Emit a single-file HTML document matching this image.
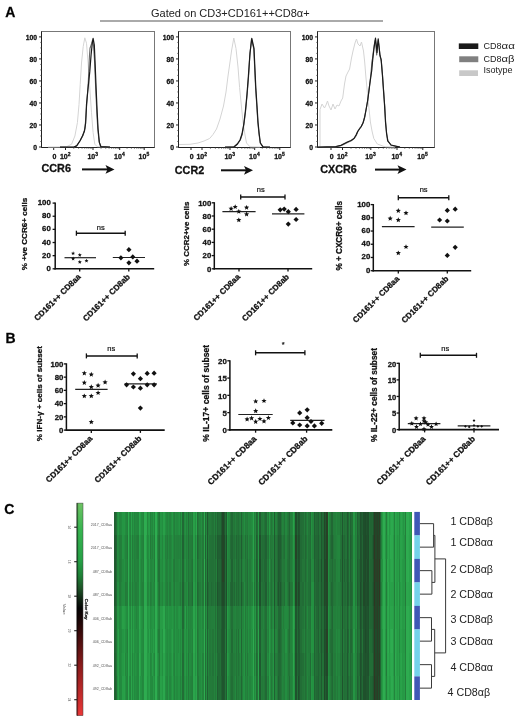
<!DOCTYPE html>
<html><head><meta charset="utf-8"><style>
html,body{margin:0;padding:0;background:#fff;width:520px;height:725px;overflow:hidden}
svg{display:block;font-family:"Liberation Sans",sans-serif;will-change:transform}
text[font-weight="bold"]{stroke:#111;stroke-width:0.28px}
</style></head><body>
<svg width="520" height="725" viewBox="0 0 520 725" font-family="Liberation Sans, sans-serif"><text x="5.2" y="17.2" font-size="14" font-weight="bold" text-anchor="start" fill="#000" >A</text>
<text x="5.6" y="342.6" font-size="14" font-weight="bold" text-anchor="start" fill="#000" >B</text>
<text x="4.2" y="514.2" font-size="14" font-weight="bold" text-anchor="start" fill="#000" >C</text>
<text x="151" y="16.5" font-size="11" text-anchor="start" fill="#222" >Gated on CD3+CD161++CD8α+</text>
<line x1="100" y1="21" x2="383" y2="21" stroke="#aaa" stroke-width="2" />
<rect x="41.5" y="31.5" width="113.0" height="116.0" fill="none" stroke="#777" stroke-width="1"/>
<line x1="41.5" y1="31.5" x2="41.5" y2="147.5" stroke="#222" stroke-width="1" />
<line x1="41.5" y1="147.5" x2="154.5" y2="147.5" stroke="#222" stroke-width="1" />
<line x1="39.0" y1="147.0" x2="41.5" y2="147.0" stroke="#222" stroke-width="1" />
<text x="37.0" y="150.0" font-size="6.8" font-weight="bold" text-anchor="end" fill="#111" >0</text>
<line x1="40.3" y1="141.495" x2="41.5" y2="141.495" stroke="#444" stroke-width="0.8" />
<line x1="40.3" y1="135.99" x2="41.5" y2="135.99" stroke="#444" stroke-width="0.8" />
<line x1="40.3" y1="130.485" x2="41.5" y2="130.485" stroke="#444" stroke-width="0.8" />
<line x1="39.0" y1="124.98" x2="41.5" y2="124.98" stroke="#222" stroke-width="1" />
<text x="37.0" y="127.98" font-size="6.8" font-weight="bold" text-anchor="end" fill="#111" >20</text>
<line x1="40.3" y1="119.47500000000001" x2="41.5" y2="119.47500000000001" stroke="#444" stroke-width="0.8" />
<line x1="40.3" y1="113.97" x2="41.5" y2="113.97" stroke="#444" stroke-width="0.8" />
<line x1="40.3" y1="108.465" x2="41.5" y2="108.465" stroke="#444" stroke-width="0.8" />
<line x1="39.0" y1="102.96000000000001" x2="41.5" y2="102.96000000000001" stroke="#222" stroke-width="1" />
<text x="37.0" y="105.96000000000001" font-size="6.8" font-weight="bold" text-anchor="end" fill="#111" >40</text>
<line x1="40.3" y1="97.45500000000001" x2="41.5" y2="97.45500000000001" stroke="#444" stroke-width="0.8" />
<line x1="40.3" y1="91.95" x2="41.5" y2="91.95" stroke="#444" stroke-width="0.8" />
<line x1="40.3" y1="86.44500000000001" x2="41.5" y2="86.44500000000001" stroke="#444" stroke-width="0.8" />
<line x1="39.0" y1="80.94" x2="41.5" y2="80.94" stroke="#222" stroke-width="1" />
<text x="37.0" y="83.94" font-size="6.8" font-weight="bold" text-anchor="end" fill="#111" >60</text>
<line x1="40.3" y1="75.435" x2="41.5" y2="75.435" stroke="#444" stroke-width="0.8" />
<line x1="40.3" y1="69.92999999999999" x2="41.5" y2="69.92999999999999" stroke="#444" stroke-width="0.8" />
<line x1="40.3" y1="64.425" x2="41.5" y2="64.425" stroke="#444" stroke-width="0.8" />
<line x1="39.0" y1="58.92" x2="41.5" y2="58.92" stroke="#222" stroke-width="1" />
<text x="37.0" y="61.92" font-size="6.8" font-weight="bold" text-anchor="end" fill="#111" >80</text>
<line x1="40.3" y1="53.415" x2="41.5" y2="53.415" stroke="#444" stroke-width="0.8" />
<line x1="40.3" y1="47.910000000000004" x2="41.5" y2="47.910000000000004" stroke="#444" stroke-width="0.8" />
<line x1="40.3" y1="42.405" x2="41.5" y2="42.405" stroke="#444" stroke-width="0.8" />
<line x1="39.0" y1="36.900000000000006" x2="41.5" y2="36.900000000000006" stroke="#222" stroke-width="1" />
<text x="37.0" y="39.900000000000006" font-size="6.8" font-weight="bold" text-anchor="end" fill="#111" >100</text>
<line x1="53.7" y1="147.5" x2="53.7" y2="150.0" stroke="#222" stroke-width="1" />
<text x="54.5" y="159.1" font-size="7.0" font-weight="bold" text-anchor="middle" fill="#111" >0</text>
<line x1="65.5" y1="147.5" x2="65.5" y2="150.0" stroke="#222" stroke-width="1" />
<text x="65.2" y="159.1" font-size="7.0" font-weight="bold" text-anchor="middle" fill="#111" >10<tspan font-size="5" dy="-2.8">2</tspan></text>
<line x1="93" y1="147.5" x2="93" y2="150.0" stroke="#222" stroke-width="1" />
<text x="92.7" y="159.1" font-size="7.0" font-weight="bold" text-anchor="middle" fill="#111" >10<tspan font-size="5" dy="-2.8">3</tspan></text>
<line x1="119.7" y1="147.5" x2="119.7" y2="150.0" stroke="#222" stroke-width="1" />
<text x="119.4" y="159.1" font-size="7.0" font-weight="bold" text-anchor="middle" fill="#111" >10<tspan font-size="5" dy="-2.8">4</tspan></text>
<line x1="144.2" y1="147.5" x2="144.2" y2="150.0" stroke="#222" stroke-width="1" />
<text x="143.89999999999998" y="159.1" font-size="7.0" font-weight="bold" text-anchor="middle" fill="#111" >10<tspan font-size="5" dy="-2.8">5</tspan></text>
<line x1="73.77832488075948" y1="147.5" x2="73.77832488075948" y2="148.8" stroke="#444" stroke-width="0.7" />
<line x1="78.62083450479072" y1="147.5" x2="78.62083450479072" y2="148.8" stroke="#444" stroke-width="0.7" />
<line x1="82.05664976151897" y1="147.5" x2="82.05664976151897" y2="148.8" stroke="#444" stroke-width="0.7" />
<line x1="84.72167511924052" y1="147.5" x2="84.72167511924052" y2="148.8" stroke="#444" stroke-width="0.7" />
<line x1="86.8991593855502" y1="147.5" x2="86.8991593855502" y2="148.8" stroke="#444" stroke-width="0.7" />
<line x1="88.74019610039207" y1="147.5" x2="88.74019610039207" y2="148.8" stroke="#444" stroke-width="0.7" />
<line x1="90.33497464227844" y1="147.5" x2="90.33497464227844" y2="148.8" stroke="#444" stroke-width="0.7" />
<line x1="91.74166900958143" y1="147.5" x2="91.74166900958143" y2="148.8" stroke="#444" stroke-width="0.7" />
<line x1="101.0375008842283" y1="147.5" x2="101.0375008842283" y2="148.8" stroke="#444" stroke-width="0.7" />
<line x1="105.739137501015" y1="147.5" x2="105.739137501015" y2="148.8" stroke="#444" stroke-width="0.7" />
<line x1="109.0750017684566" y1="147.5" x2="109.0750017684566" y2="148.8" stroke="#444" stroke-width="0.7" />
<line x1="111.66249911577171" y1="147.5" x2="111.66249911577171" y2="148.8" stroke="#444" stroke-width="0.7" />
<line x1="113.77663838524329" y1="147.5" x2="113.77663838524329" y2="148.8" stroke="#444" stroke-width="0.7" />
<line x1="115.56411766838066" y1="147.5" x2="115.56411766838066" y2="148.8" stroke="#444" stroke-width="0.7" />
<line x1="117.1125026526849" y1="147.5" x2="117.1125026526849" y2="148.8" stroke="#444" stroke-width="0.7" />
<line x1="118.47827500202997" y1="147.5" x2="118.47827500202997" y2="148.8" stroke="#444" stroke-width="0.7" />
<line x1="127.07523489376754" y1="147.5" x2="127.07523489376754" y2="148.8" stroke="#444" stroke-width="0.7" />
<line x1="131.38947074063174" y1="147.5" x2="131.38947074063174" y2="148.8" stroke="#444" stroke-width="0.7" />
<line x1="134.45046978753507" y1="147.5" x2="134.45046978753507" y2="148.8" stroke="#444" stroke-width="0.7" />
<line x1="136.82476510623246" y1="147.5" x2="136.82476510623246" y2="148.8" stroke="#444" stroke-width="0.7" />
<line x1="138.76470563439926" y1="147.5" x2="138.76470563439926" y2="148.8" stroke="#444" stroke-width="0.7" />
<line x1="140.40490198034928" y1="147.5" x2="140.40490198034928" y2="148.8" stroke="#444" stroke-width="0.7" />
<line x1="141.8257046813026" y1="147.5" x2="141.8257046813026" y2="148.8" stroke="#444" stroke-width="0.7" />
<line x1="143.07894148126346" y1="147.5" x2="143.07894148126346" y2="148.8" stroke="#444" stroke-width="0.7" />
<path d="M48.0,147.0 L60.0,146.9 L66.6,146.7 L71.6,144.2 L74.9,136.0 L77.4,122.7 L79.0,104.5 L80.2,84.6 L81.5,63.0 L83.2,46.6 L84.8,37.8 L86.5,43.2 L88.1,63.0 L89.8,88.0 L91.5,112.8 L93.1,132.6 L94.8,144.2 L97.2,146.7 L110.0,147.0" fill="none" stroke="#d4d4d4" stroke-width="1" stroke-linejoin="round"/>
<path d="M60.0,147.2 L74.0,147.2 L77.0,145.5 L80.5,140.0 L83.0,135.5 L85.0,128.0 L86.0,115.0 L87.0,100.0 L88.3,82.0 L89.5,55.0 L90.0,48.2 L91.5,44.0 L92.6,40.0 L93.6,46.0 L94.6,62.0 L95.6,86.0 L96.7,110.0 L97.7,128.0 L99.0,141.0 L100.6,146.5 L110.0,147.2" fill="none" stroke="#6a6a6a" stroke-width="1.1" stroke-linejoin="round"/>
<path d="M60.0,147.2 L73.2,147.2 L76.6,145.9 L79.9,141.0 L82.4,136.0 L84.5,131.0 L85.7,122.7 L86.5,104.5 L88.1,88.0 L89.8,71.4 L91.1,54.8 L92.3,43.2 L93.1,38.3 L94.3,44.9 L95.1,63.0 L96.1,88.0 L97.2,112.8 L98.1,129.3 L99.4,142.6 L101.0,146.7 L110.0,147.2" fill="none" stroke="#1a1a1a" stroke-width="1.2" stroke-linejoin="round"/>
<text x="41.5" y="172" font-size="10.8" font-weight="bold" text-anchor="start" fill="#111" >CCR6</text>
<line x1="82" y1="169.4" x2="109.5" y2="169.4" stroke="#111" stroke-width="2" />
<path d="M114.5,169.4 L105.5,165.0 L107.5,169.4 L105.5,173.8 Z" fill="#111"/>
<rect x="178.5" y="31.5" width="112.0" height="116.0" fill="none" stroke="#777" stroke-width="1"/>
<line x1="178.5" y1="31.5" x2="178.5" y2="147.5" stroke="#222" stroke-width="1" />
<line x1="178.5" y1="147.5" x2="290.5" y2="147.5" stroke="#222" stroke-width="1" />
<line x1="176.0" y1="147.0" x2="178.5" y2="147.0" stroke="#222" stroke-width="1" />
<text x="174.0" y="150.0" font-size="6.8" font-weight="bold" text-anchor="end" fill="#111" >0</text>
<line x1="177.3" y1="141.495" x2="178.5" y2="141.495" stroke="#444" stroke-width="0.8" />
<line x1="177.3" y1="135.99" x2="178.5" y2="135.99" stroke="#444" stroke-width="0.8" />
<line x1="177.3" y1="130.485" x2="178.5" y2="130.485" stroke="#444" stroke-width="0.8" />
<line x1="176.0" y1="124.98" x2="178.5" y2="124.98" stroke="#222" stroke-width="1" />
<text x="174.0" y="127.98" font-size="6.8" font-weight="bold" text-anchor="end" fill="#111" >20</text>
<line x1="177.3" y1="119.47500000000001" x2="178.5" y2="119.47500000000001" stroke="#444" stroke-width="0.8" />
<line x1="177.3" y1="113.97" x2="178.5" y2="113.97" stroke="#444" stroke-width="0.8" />
<line x1="177.3" y1="108.465" x2="178.5" y2="108.465" stroke="#444" stroke-width="0.8" />
<line x1="176.0" y1="102.96000000000001" x2="178.5" y2="102.96000000000001" stroke="#222" stroke-width="1" />
<text x="174.0" y="105.96000000000001" font-size="6.8" font-weight="bold" text-anchor="end" fill="#111" >40</text>
<line x1="177.3" y1="97.45500000000001" x2="178.5" y2="97.45500000000001" stroke="#444" stroke-width="0.8" />
<line x1="177.3" y1="91.95" x2="178.5" y2="91.95" stroke="#444" stroke-width="0.8" />
<line x1="177.3" y1="86.44500000000001" x2="178.5" y2="86.44500000000001" stroke="#444" stroke-width="0.8" />
<line x1="176.0" y1="80.94" x2="178.5" y2="80.94" stroke="#222" stroke-width="1" />
<text x="174.0" y="83.94" font-size="6.8" font-weight="bold" text-anchor="end" fill="#111" >60</text>
<line x1="177.3" y1="75.435" x2="178.5" y2="75.435" stroke="#444" stroke-width="0.8" />
<line x1="177.3" y1="69.92999999999999" x2="178.5" y2="69.92999999999999" stroke="#444" stroke-width="0.8" />
<line x1="177.3" y1="64.425" x2="178.5" y2="64.425" stroke="#444" stroke-width="0.8" />
<line x1="176.0" y1="58.92" x2="178.5" y2="58.92" stroke="#222" stroke-width="1" />
<text x="174.0" y="61.92" font-size="6.8" font-weight="bold" text-anchor="end" fill="#111" >80</text>
<line x1="177.3" y1="53.415" x2="178.5" y2="53.415" stroke="#444" stroke-width="0.8" />
<line x1="177.3" y1="47.910000000000004" x2="178.5" y2="47.910000000000004" stroke="#444" stroke-width="0.8" />
<line x1="177.3" y1="42.405" x2="178.5" y2="42.405" stroke="#444" stroke-width="0.8" />
<line x1="176.0" y1="36.900000000000006" x2="178.5" y2="36.900000000000006" stroke="#222" stroke-width="1" />
<text x="174.0" y="39.900000000000006" font-size="6.8" font-weight="bold" text-anchor="end" fill="#111" >100</text>
<line x1="191" y1="147.5" x2="191" y2="150.0" stroke="#222" stroke-width="1" />
<text x="191.8" y="159.1" font-size="7.0" font-weight="bold" text-anchor="middle" fill="#111" >0</text>
<line x1="202" y1="147.5" x2="202" y2="150.0" stroke="#222" stroke-width="1" />
<text x="201.7" y="159.1" font-size="7.0" font-weight="bold" text-anchor="middle" fill="#111" >10<tspan font-size="5" dy="-2.8">2</tspan></text>
<line x1="230" y1="147.5" x2="230" y2="150.0" stroke="#222" stroke-width="1" />
<text x="229.7" y="159.1" font-size="7.0" font-weight="bold" text-anchor="middle" fill="#111" >10<tspan font-size="5" dy="-2.8">3</tspan></text>
<line x1="254.7" y1="147.5" x2="254.7" y2="150.0" stroke="#222" stroke-width="1" />
<text x="254.39999999999998" y="159.1" font-size="7.0" font-weight="bold" text-anchor="middle" fill="#111" >10<tspan font-size="5" dy="-2.8">4</tspan></text>
<line x1="279.8" y1="147.5" x2="279.8" y2="150.0" stroke="#222" stroke-width="1" />
<text x="279.5" y="159.1" font-size="7.0" font-weight="bold" text-anchor="middle" fill="#111" >10<tspan font-size="5" dy="-2.8">5</tspan></text>
<line x1="210.42883987859148" y1="147.5" x2="210.42883987859148" y2="148.8" stroke="#444" stroke-width="0.7" />
<line x1="215.35939513215055" y1="147.5" x2="215.35939513215055" y2="148.8" stroke="#444" stroke-width="0.7" />
<line x1="218.85767975718295" y1="147.5" x2="218.85767975718295" y2="148.8" stroke="#444" stroke-width="0.7" />
<line x1="221.57116012140852" y1="147.5" x2="221.57116012140852" y2="148.8" stroke="#444" stroke-width="0.7" />
<line x1="223.78823501074203" y1="147.5" x2="223.78823501074203" y2="148.8" stroke="#444" stroke-width="0.7" />
<line x1="225.6627451203992" y1="147.5" x2="225.6627451203992" y2="148.8" stroke="#444" stroke-width="0.7" />
<line x1="227.28651963577443" y1="147.5" x2="227.28651963577443" y2="148.8" stroke="#444" stroke-width="0.7" />
<line x1="228.7187902643011" y1="147.5" x2="228.7187902643011" y2="148.8" stroke="#444" stroke-width="0.7" />
<line x1="237.43544089290035" y1="147.5" x2="237.43544089290035" y2="148.8" stroke="#444" stroke-width="0.7" />
<line x1="241.78489499157567" y1="147.5" x2="241.78489499157567" y2="148.8" stroke="#444" stroke-width="0.7" />
<line x1="244.87088178580066" y1="147.5" x2="244.87088178580066" y2="148.8" stroke="#444" stroke-width="0.7" />
<line x1="247.26455910709967" y1="147.5" x2="247.26455910709967" y2="148.8" stroke="#444" stroke-width="0.7" />
<line x1="249.220335884476" y1="147.5" x2="249.220335884476" y2="148.8" stroke="#444" stroke-width="0.7" />
<line x1="250.87392158835212" y1="147.5" x2="250.87392158835212" y2="148.8" stroke="#444" stroke-width="0.7" />
<line x1="252.306322678701" y1="147.5" x2="252.306322678701" y2="148.8" stroke="#444" stroke-width="0.7" />
<line x1="253.5697899831513" y1="147.5" x2="253.5697899831513" y2="148.8" stroke="#444" stroke-width="0.7" />
<line x1="262.25585289116594" y1="147.5" x2="262.25585289116594" y2="148.8" stroke="#444" stroke-width="0.7" />
<line x1="266.67574349346353" y1="147.5" x2="266.67574349346353" y2="148.8" stroke="#444" stroke-width="0.7" />
<line x1="269.81170578233184" y1="147.5" x2="269.81170578233184" y2="148.8" stroke="#444" stroke-width="0.7" />
<line x1="272.24414710883406" y1="147.5" x2="272.24414710883406" y2="148.8" stroke="#444" stroke-width="0.7" />
<line x1="274.2315963846295" y1="147.5" x2="274.2315963846295" y2="148.8" stroke="#444" stroke-width="0.7" />
<line x1="275.9119608043579" y1="147.5" x2="275.9119608043579" y2="148.8" stroke="#444" stroke-width="0.7" />
<line x1="277.3675586734978" y1="147.5" x2="277.3675586734978" y2="148.8" stroke="#444" stroke-width="0.7" />
<line x1="278.65148698692707" y1="147.5" x2="278.65148698692707" y2="148.8" stroke="#444" stroke-width="0.7" />
<path d="M179.0,144.5 L190.0,144.3 L198.0,143.0 L204.0,141.0 L209.6,138.5 L213.0,134.5 L216.5,129.0 L220.0,119.0 L223.5,106.0 L226.0,92.0 L228.0,76.0 L230.0,62.0 L231.5,51.0 L233.8,38.0 L236.0,48.5 L238.0,67.0 L239.6,87.7 L241.3,105.0 L243.0,122.0 L245.0,135.0 L246.5,143.0 L250.0,146.8 L260.0,147.0" fill="none" stroke="#d4d4d4" stroke-width="1" stroke-linejoin="round"/>
<path d="M225.0,147.2 L234.5,146.8 L237.6,144.0 L240.3,140.0 L242.3,134.0 L244.0,124.0 L245.6,111.0 L247.2,94.0 L248.6,76.0 L249.8,56.0 L251.5,39.0 L253.8,49.0 L255.6,88.0 L256.8,106.0 L257.8,122.0 L259.0,134.0 L260.2,143.0 L262.8,146.8 L270.0,147.2" fill="none" stroke="#6a6a6a" stroke-width="1.1" stroke-linejoin="round"/>
<path d="M225.0,147.2 L234.0,146.8 L237.3,144.0 L240.0,140.0 L242.0,134.0 L243.8,124.0 L245.4,111.0 L247.0,94.0 L248.4,76.0 L250.0,53.0 L251.8,38.3 L254.0,48.5 L255.8,87.7 L257.0,106.0 L258.0,122.0 L259.2,134.0 L260.4,143.0 L263.0,146.8 L270.0,147.2" fill="none" stroke="#1a1a1a" stroke-width="1.2" stroke-linejoin="round"/>
<text x="174.8" y="173.5" font-size="10.8" font-weight="bold" text-anchor="start" fill="#111" >CCR2</text>
<line x1="221" y1="170.3" x2="248" y2="170.3" stroke="#111" stroke-width="2" />
<path d="M253,170.3 L244,165.9 L246,170.3 L244,174.70000000000002 Z" fill="#111"/>
<rect x="317.5" y="31.5" width="117.0" height="116.0" fill="none" stroke="#777" stroke-width="1"/>
<line x1="317.5" y1="31.5" x2="317.5" y2="147.5" stroke="#222" stroke-width="1" />
<line x1="317.5" y1="147.5" x2="434.5" y2="147.5" stroke="#222" stroke-width="1" />
<line x1="315.0" y1="147.0" x2="317.5" y2="147.0" stroke="#222" stroke-width="1" />
<text x="313.0" y="150.0" font-size="6.8" font-weight="bold" text-anchor="end" fill="#111" >0</text>
<line x1="316.3" y1="141.495" x2="317.5" y2="141.495" stroke="#444" stroke-width="0.8" />
<line x1="316.3" y1="135.99" x2="317.5" y2="135.99" stroke="#444" stroke-width="0.8" />
<line x1="316.3" y1="130.485" x2="317.5" y2="130.485" stroke="#444" stroke-width="0.8" />
<line x1="315.0" y1="124.98" x2="317.5" y2="124.98" stroke="#222" stroke-width="1" />
<text x="313.0" y="127.98" font-size="6.8" font-weight="bold" text-anchor="end" fill="#111" >20</text>
<line x1="316.3" y1="119.47500000000001" x2="317.5" y2="119.47500000000001" stroke="#444" stroke-width="0.8" />
<line x1="316.3" y1="113.97" x2="317.5" y2="113.97" stroke="#444" stroke-width="0.8" />
<line x1="316.3" y1="108.465" x2="317.5" y2="108.465" stroke="#444" stroke-width="0.8" />
<line x1="315.0" y1="102.96000000000001" x2="317.5" y2="102.96000000000001" stroke="#222" stroke-width="1" />
<text x="313.0" y="105.96000000000001" font-size="6.8" font-weight="bold" text-anchor="end" fill="#111" >40</text>
<line x1="316.3" y1="97.45500000000001" x2="317.5" y2="97.45500000000001" stroke="#444" stroke-width="0.8" />
<line x1="316.3" y1="91.95" x2="317.5" y2="91.95" stroke="#444" stroke-width="0.8" />
<line x1="316.3" y1="86.44500000000001" x2="317.5" y2="86.44500000000001" stroke="#444" stroke-width="0.8" />
<line x1="315.0" y1="80.94" x2="317.5" y2="80.94" stroke="#222" stroke-width="1" />
<text x="313.0" y="83.94" font-size="6.8" font-weight="bold" text-anchor="end" fill="#111" >60</text>
<line x1="316.3" y1="75.435" x2="317.5" y2="75.435" stroke="#444" stroke-width="0.8" />
<line x1="316.3" y1="69.92999999999999" x2="317.5" y2="69.92999999999999" stroke="#444" stroke-width="0.8" />
<line x1="316.3" y1="64.425" x2="317.5" y2="64.425" stroke="#444" stroke-width="0.8" />
<line x1="315.0" y1="58.92" x2="317.5" y2="58.92" stroke="#222" stroke-width="1" />
<text x="313.0" y="61.92" font-size="6.8" font-weight="bold" text-anchor="end" fill="#111" >80</text>
<line x1="316.3" y1="53.415" x2="317.5" y2="53.415" stroke="#444" stroke-width="0.8" />
<line x1="316.3" y1="47.910000000000004" x2="317.5" y2="47.910000000000004" stroke="#444" stroke-width="0.8" />
<line x1="316.3" y1="42.405" x2="317.5" y2="42.405" stroke="#444" stroke-width="0.8" />
<line x1="315.0" y1="36.900000000000006" x2="317.5" y2="36.900000000000006" stroke="#222" stroke-width="1" />
<text x="313.0" y="39.900000000000006" font-size="6.8" font-weight="bold" text-anchor="end" fill="#111" >100</text>
<line x1="331" y1="147.5" x2="331" y2="150.0" stroke="#222" stroke-width="1" />
<text x="331.8" y="159.1" font-size="7.0" font-weight="bold" text-anchor="middle" fill="#111" >0</text>
<line x1="342.5" y1="147.5" x2="342.5" y2="150.0" stroke="#222" stroke-width="1" />
<text x="342.2" y="159.1" font-size="7.0" font-weight="bold" text-anchor="middle" fill="#111" >10<tspan font-size="5" dy="-2.8">2</tspan></text>
<line x1="370.8" y1="147.5" x2="370.8" y2="150.0" stroke="#222" stroke-width="1" />
<text x="370.5" y="159.1" font-size="7.0" font-weight="bold" text-anchor="middle" fill="#111" >10<tspan font-size="5" dy="-2.8">3</tspan></text>
<line x1="397" y1="147.5" x2="397" y2="150.0" stroke="#222" stroke-width="1" />
<text x="396.7" y="159.1" font-size="7.0" font-weight="bold" text-anchor="middle" fill="#111" >10<tspan font-size="5" dy="-2.8">4</tspan></text>
<line x1="422.8" y1="147.5" x2="422.8" y2="150.0" stroke="#222" stroke-width="1" />
<text x="422.5" y="159.1" font-size="7.0" font-weight="bold" text-anchor="middle" fill="#111" >10<tspan font-size="5" dy="-2.8">5</tspan></text>
<line x1="351.01914887729066" y1="147.5" x2="351.01914887729066" y2="148.8" stroke="#444" stroke-width="0.7" />
<line x1="356.00253150856645" y1="147.5" x2="356.00253150856645" y2="148.8" stroke="#444" stroke-width="0.7" />
<line x1="359.5382977545813" y1="147.5" x2="359.5382977545813" y2="148.8" stroke="#444" stroke-width="0.7" />
<line x1="362.28085112270935" y1="147.5" x2="362.28085112270935" y2="148.8" stroke="#444" stroke-width="0.7" />
<line x1="364.5216803858571" y1="147.5" x2="364.5216803858571" y2="148.8" stroke="#444" stroke-width="0.7" />
<line x1="366.41627453240346" y1="147.5" x2="366.41627453240346" y2="148.8" stroke="#444" stroke-width="0.7" />
<line x1="368.05744663187204" y1="147.5" x2="368.05744663187204" y2="148.8" stroke="#444" stroke-width="0.7" />
<line x1="369.5050630171329" y1="147.5" x2="369.5050630171329" y2="148.8" stroke="#444" stroke-width="0.7" />
<line x1="378.6869858863963" y1="147.5" x2="378.6869858863963" y2="148.8" stroke="#444" stroke-width="0.7" />
<line x1="383.3005768736552" y1="147.5" x2="383.3005768736552" y2="148.8" stroke="#444" stroke-width="0.7" />
<line x1="386.5739717727926" y1="147.5" x2="386.5739717727926" y2="148.8" stroke="#444" stroke-width="0.7" />
<line x1="389.1130141136037" y1="147.5" x2="389.1130141136037" y2="148.8" stroke="#444" stroke-width="0.7" />
<line x1="391.1875627600515" y1="147.5" x2="391.1875627600515" y2="148.8" stroke="#444" stroke-width="0.7" />
<line x1="392.9415686483735" y1="147.5" x2="392.9415686483735" y2="148.8" stroke="#444" stroke-width="0.7" />
<line x1="394.4609576591889" y1="147.5" x2="394.4609576591889" y2="148.8" stroke="#444" stroke-width="0.7" />
<line x1="395.8011537473103" y1="147.5" x2="395.8011537473103" y2="148.8" stroke="#444" stroke-width="0.7" />
<line x1="404.7665738881307" y1="147.5" x2="404.7665738881307" y2="148.8" stroke="#444" stroke-width="0.7" />
<line x1="409.3097283717673" y1="147.5" x2="409.3097283717673" y2="148.8" stroke="#444" stroke-width="0.7" />
<line x1="412.53314777626144" y1="147.5" x2="412.53314777626144" y2="148.8" stroke="#444" stroke-width="0.7" />
<line x1="415.0334261118693" y1="147.5" x2="415.0334261118693" y2="148.8" stroke="#444" stroke-width="0.7" />
<line x1="417.076302259898" y1="147.5" x2="417.076302259898" y2="148.8" stroke="#444" stroke-width="0.7" />
<line x1="418.80352943236784" y1="147.5" x2="418.80352943236784" y2="148.8" stroke="#444" stroke-width="0.7" />
<line x1="420.29972166439217" y1="147.5" x2="420.29972166439217" y2="148.8" stroke="#444" stroke-width="0.7" />
<line x1="421.6194567435346" y1="147.5" x2="421.6194567435346" y2="148.8" stroke="#444" stroke-width="0.7" />
<path d="M320.0,147.0 L320.0,109.5 L322.0,104.0 L324.5,108.0 L326.0,105.0 L327.5,101.0 L329.0,106.0 L331.0,110.0 L333.0,104.0 L335.0,109.0 L337.0,105.0 L339.0,106.0 L341.0,101.0 L342.7,98.0 L344.5,84.0 L346.0,76.0 L348.0,72.0 L349.6,69.0 L351.5,58.0 L353.0,51.0 L355.0,43.0 L356.5,39.0 L358.0,44.0 L360.0,46.0 L361.5,42.0 L363.5,51.0 L364.7,62.0 L365.8,76.0 L368.0,99.0 L370.4,122.0 L372.0,131.0 L373.8,138.5 L377.3,144.0 L385.0,146.8 L395.0,147.0" fill="none" stroke="#d4d4d4" stroke-width="1" stroke-linejoin="round"/>
<path d="M318.0,147.2 L336.0,146.7 L341.5,145.4 L347.5,142.4 L351.3,140.8 L354.4,138.2 L356.3,135.5 L358.0,131.0 L359.8,128.0 L361.5,126.0 L363.3,122.0 L364.8,116.0 L366.3,108.5 L367.8,99.5 L369.0,90.0 L370.0,82.0 L371.0,73.0 L371.6,66.0 L372.0,61.0 L372.6,58.0 L373.3,52.0 L374.2,45.0 L375.2,40.0 L376.0,47.0 L376.7,55.0 L377.4,46.0 L378.2,40.5 L379.2,48.0 L380.2,56.5 L381.3,61.0 L382.5,75.0 L383.8,93.0 L384.8,107.0 L385.7,123.0 L386.7,134.0 L388.0,141.0 L391.3,145.3 L400.0,147.2" fill="none" stroke="#6a6a6a" stroke-width="1.1" stroke-linejoin="round"/>
<path d="M318.0,147.2 L335.8,146.5 L341.0,145.3 L347.3,142.0 L351.0,140.5 L354.0,138.5 L356.0,135.0 L357.7,131.5 L359.5,129.0 L361.0,127.0 L363.0,123.0 L364.6,117.7 L366.0,110.0 L367.6,101.0 L368.8,92.0 L369.8,84.0 L370.8,77.0 L371.8,70.0 L372.3,64.0 L373.0,57.0 L373.8,50.0 L374.6,44.0 L375.5,38.2 L376.2,44.0 L377.0,52.5 L377.6,45.0 L378.2,38.8 L379.0,46.0 L379.9,55.2 L381.1,59.3 L382.3,73.4 L383.6,92.0 L384.6,106.0 L385.5,122.0 L386.5,133.0 L387.7,140.8 L391.0,145.0 L400.0,147.2" fill="none" stroke="#1a1a1a" stroke-width="1.2" stroke-linejoin="round"/>
<text x="320.2" y="172.6" font-size="10.8" font-weight="bold" text-anchor="start" fill="#111" >CXCR6</text>
<line x1="375" y1="169.6" x2="401.5" y2="169.6" stroke="#111" stroke-width="2" />
<path d="M406.5,169.6 L397.5,165.2 L399.5,169.6 L397.5,174.0 Z" fill="#111"/>
<rect x="458.8" y="43.4" width="19.5" height="5.6" fill="#1a1a1a"/>
<rect x="459.2" y="56.3" width="19.1" height="5.9" fill="#808080"/>
<rect x="459.2" y="70.3" width="18.8" height="5.7" fill="#c8c8c8"/>
<text x="483.4" y="49.2" font-size="9" text-anchor="start" fill="#222" >CD8</text>
<text transform="translate(501.5,49.2) scale(1.28,1)" font-size="9" fill="#222">αα</text>
<text x="483.4" y="62.2" font-size="9" text-anchor="start" fill="#222" >CD8</text>
<text transform="translate(501.5,62.2) scale(1.25,1)" font-size="9" fill="#222">αβ</text>
<text x="483.4" y="73.0" font-size="9" text-anchor="start" fill="#222" >Isotype</text>
<line x1="55.2" y1="202.5" x2="55.2" y2="269.6" stroke="#111" stroke-width="1.5" />
<line x1="54.400000000000006" y1="268.8" x2="154.2" y2="268.8" stroke="#111" stroke-width="1.6" />
<line x1="52.6" y1="268.8" x2="55.2" y2="268.8" stroke="#111" stroke-width="1.3" />
<text x="50.800000000000004" y="270.80" font-size="7.8" font-weight="bold" text-anchor="end" fill="#111">0</text>
<line x1="52.6" y1="255.66" x2="55.2" y2="255.66" stroke="#111" stroke-width="1.3" />
<text x="50.800000000000004" y="257.66" font-size="7.8" font-weight="bold" text-anchor="end" fill="#111">20</text>
<line x1="52.6" y1="242.52" x2="55.2" y2="242.52" stroke="#111" stroke-width="1.3" />
<text x="50.800000000000004" y="244.52" font-size="7.8" font-weight="bold" text-anchor="end" fill="#111">40</text>
<line x1="52.6" y1="229.38" x2="55.2" y2="229.38" stroke="#111" stroke-width="1.3" />
<text x="50.800000000000004" y="231.38" font-size="7.8" font-weight="bold" text-anchor="end" fill="#111">60</text>
<line x1="52.6" y1="216.24" x2="55.2" y2="216.24" stroke="#111" stroke-width="1.3" />
<text x="50.800000000000004" y="218.24" font-size="7.8" font-weight="bold" text-anchor="end" fill="#111">80</text>
<line x1="52.6" y1="203.1" x2="55.2" y2="203.1" stroke="#111" stroke-width="1.3" />
<text x="50.800000000000004" y="205.10" font-size="7.8" font-weight="bold" text-anchor="end" fill="#111">100</text>
<line x1="79.7" y1="268.8" x2="79.7" y2="271.6" stroke="#111" stroke-width="1.3" />
<text transform="translate(81.30,277.40) rotate(-45)" x="0" y="0" font-size="8.1" font-weight="bold" text-anchor="end" fill="#111">CD161++ CD8aa</text>
<line x1="128.8" y1="268.8" x2="128.8" y2="271.6" stroke="#111" stroke-width="1.3" />
<text transform="translate(130.40,277.40) rotate(-45)" x="0" y="0" font-size="8.1" font-weight="bold" text-anchor="end" fill="#111">CD161++ CD8ab</text>
<text transform="translate(26.5,234) rotate(-90)" x="0" y="0" font-size="8.1" font-weight="bold" text-anchor="middle" fill="#111">% +ve CCR6+ cells</text>
<line x1="76.4" y1="233.2" x2="125.2" y2="233.2" stroke="#111" stroke-width="1.5" />
<line x1="76.4" y1="230.7" x2="76.4" y2="235.7" stroke="#111" stroke-width="1.3" />
<line x1="125.2" y1="230.7" x2="125.2" y2="235.7" stroke="#111" stroke-width="1.3" />
<text x="100.8" y="229.6" font-size="7.5" text-anchor="middle" fill="#111" stroke="#111" stroke-width="0.2">ns</text>
<line x1="64.5" y1="257.7" x2="96" y2="257.7" stroke="#222" stroke-width="1.2" />
<line x1="112.8" y1="257.5" x2="145" y2="257.5" stroke="#222" stroke-width="1.2" />
<polygon points="73.10,251.30 73.66,252.64 75.10,252.75 74.00,253.69 74.33,255.10 73.10,254.34 71.87,255.10 72.20,253.69 71.10,252.75 72.54,252.64" fill="#111"/>
<polygon points="79.80,252.90 80.36,254.24 81.80,254.35 80.70,255.29 81.03,256.70 79.80,255.94 78.57,256.70 78.90,255.29 77.80,254.35 79.24,254.24" fill="#111"/>
<polygon points="73.10,256.60 73.66,257.94 75.10,258.05 74.00,258.99 74.33,260.40 73.10,259.64 71.87,260.40 72.20,258.99 71.10,258.05 72.54,257.94" fill="#111"/>
<polygon points="79.80,260.00 80.36,261.34 81.80,261.45 80.70,262.39 81.03,263.80 79.80,263.05 78.57,263.80 78.90,262.39 77.80,261.45 79.24,261.34" fill="#111"/>
<polygon points="86.50,258.70 87.06,260.04 88.50,260.15 87.40,261.09 87.73,262.50 86.50,261.75 85.27,262.50 85.60,261.09 84.50,260.15 85.94,260.04" fill="#111"/>
<polygon points="128.9,247.1 131.5,249.7 128.9,252.29999999999998 126.30000000000001,249.7" fill="#111"/>
<polygon points="120.9,255.20000000000002 123.5,257.8 120.9,260.40000000000003 118.30000000000001,257.8" fill="#111"/>
<polygon points="132.8,254.29999999999998 135.4,256.9 132.8,259.5 130.20000000000002,256.9" fill="#111"/>
<polygon points="128.9,260.2 131.5,262.8 128.9,265.40000000000003 126.30000000000001,262.8" fill="#111"/>
<polygon points="137,258.59999999999997 139.6,261.2 137,263.8 134.4,261.2" fill="#111"/>
<line x1="214.3" y1="202.20000000000002" x2="214.3" y2="269.6" stroke="#111" stroke-width="1.5" />
<line x1="213.5" y1="268.8" x2="312.2" y2="268.8" stroke="#111" stroke-width="1.6" />
<line x1="211.70000000000002" y1="268.8" x2="214.3" y2="268.8" stroke="#111" stroke-width="1.3" />
<text x="211.3" y="271.60" font-size="7.8" font-weight="bold" text-anchor="end" fill="#111">0</text>
<line x1="211.70000000000002" y1="255.60000000000002" x2="214.3" y2="255.60000000000002" stroke="#111" stroke-width="1.3" />
<text x="211.3" y="258.40" font-size="7.8" font-weight="bold" text-anchor="end" fill="#111">20</text>
<line x1="211.70000000000002" y1="242.4" x2="214.3" y2="242.4" stroke="#111" stroke-width="1.3" />
<text x="211.3" y="245.20" font-size="7.8" font-weight="bold" text-anchor="end" fill="#111">40</text>
<line x1="211.70000000000002" y1="229.20000000000002" x2="214.3" y2="229.20000000000002" stroke="#111" stroke-width="1.3" />
<text x="211.3" y="232.00" font-size="7.8" font-weight="bold" text-anchor="end" fill="#111">60</text>
<line x1="211.70000000000002" y1="216.0" x2="214.3" y2="216.0" stroke="#111" stroke-width="1.3" />
<text x="211.3" y="218.80" font-size="7.8" font-weight="bold" text-anchor="end" fill="#111">80</text>
<line x1="211.70000000000002" y1="202.8" x2="214.3" y2="202.8" stroke="#111" stroke-width="1.3" />
<text x="211.3" y="205.60" font-size="7.8" font-weight="bold" text-anchor="end" fill="#111">100</text>
<line x1="239" y1="268.8" x2="239" y2="271.6" stroke="#111" stroke-width="1.3" />
<text transform="translate(240.60,277.40) rotate(-45)" x="0" y="0" font-size="8.1" font-weight="bold" text-anchor="end" fill="#111">CD161++ CD8aa</text>
<line x1="288" y1="268.8" x2="288" y2="271.6" stroke="#111" stroke-width="1.3" />
<text transform="translate(289.60,277.40) rotate(-45)" x="0" y="0" font-size="8.1" font-weight="bold" text-anchor="end" fill="#111">CD161++ CD8ab</text>
<text transform="translate(188.5,233.8) rotate(-90)" x="0" y="0" font-size="7.95" font-weight="bold" text-anchor="middle" fill="#111">% CCR2+ve cells</text>
<line x1="240.7" y1="197" x2="285" y2="197" stroke="#111" stroke-width="1.5" />
<line x1="240.7" y1="194.5" x2="240.7" y2="199.5" stroke="#111" stroke-width="1.3" />
<line x1="285" y1="194.5" x2="285" y2="199.5" stroke="#111" stroke-width="1.3" />
<text x="260.7" y="192.2" font-size="7.5" text-anchor="middle" fill="#111" stroke="#111" stroke-width="0.2">ns</text>
<line x1="222.4" y1="211.6" x2="255.6" y2="211.6" stroke="#222" stroke-width="1.2" />
<line x1="272" y1="213.9" x2="304.4" y2="213.9" stroke="#222" stroke-width="1.2" />
<polygon points="231.10,206.00 231.81,207.72 233.67,207.87 232.26,209.08 232.69,210.88 231.10,209.91 229.51,210.88 229.94,209.08 228.53,207.87 230.39,207.72" fill="#111"/>
<polygon points="235.20,204.20 235.91,205.92 237.77,206.07 236.36,207.28 236.79,209.08 235.20,208.12 233.61,209.08 234.04,207.28 232.63,206.07 234.49,205.92" fill="#111"/>
<polygon points="238.80,208.90 239.51,210.62 241.37,210.77 239.96,211.98 240.39,213.78 238.80,212.81 237.21,213.78 237.64,211.98 236.23,210.77 238.09,210.62" fill="#111"/>
<polygon points="246.60,204.90 247.31,206.62 249.17,206.77 247.76,207.98 248.19,209.78 246.60,208.81 245.01,209.78 245.44,207.98 244.03,206.77 245.89,206.62" fill="#111"/>
<polygon points="246.60,211.60 247.31,213.32 249.17,213.47 247.76,214.68 248.19,216.48 246.60,215.52 245.01,216.48 245.44,214.68 244.03,213.47 245.89,213.32" fill="#111"/>
<polygon points="238.80,217.40 239.51,219.12 241.37,219.27 239.96,220.48 240.39,222.28 238.80,221.31 237.21,222.28 237.64,220.48 236.23,219.27 238.09,219.12" fill="#111"/>
<polygon points="280.2,207.20000000000002 282.8,209.8 280.2,212.4 277.59999999999997,209.8" fill="#111"/>
<polygon points="284.2,206.5 286.8,209.1 284.2,211.7 281.59999999999997,209.1" fill="#111"/>
<polygon points="288.3,209.1 290.90000000000003,211.7 288.3,214.29999999999998 285.7,211.7" fill="#111"/>
<polygon points="296.1,206.8 298.70000000000005,209.4 296.1,212.0 293.5,209.4" fill="#111"/>
<polygon points="296.1,216.9 298.70000000000005,219.5 296.1,222.1 293.5,219.5" fill="#111"/>
<polygon points="288.3,221.5 290.90000000000003,224.1 288.3,226.7 285.7,224.1" fill="#111"/>
<line x1="373.3" y1="204.0" x2="373.3" y2="271.5" stroke="#111" stroke-width="1.5" />
<line x1="372.5" y1="270.7" x2="471.2" y2="270.7" stroke="#111" stroke-width="1.6" />
<line x1="370.7" y1="270.7" x2="373.3" y2="270.7" stroke="#111" stroke-width="1.3" />
<text x="370.3" y="272.60" font-size="7.8" font-weight="bold" text-anchor="end" fill="#111">0</text>
<line x1="370.7" y1="257.48" x2="373.3" y2="257.48" stroke="#111" stroke-width="1.3" />
<text x="370.3" y="259.38" font-size="7.8" font-weight="bold" text-anchor="end" fill="#111">20</text>
<line x1="370.7" y1="244.26" x2="373.3" y2="244.26" stroke="#111" stroke-width="1.3" />
<text x="370.3" y="246.16" font-size="7.8" font-weight="bold" text-anchor="end" fill="#111">40</text>
<line x1="370.7" y1="231.04" x2="373.3" y2="231.04" stroke="#111" stroke-width="1.3" />
<text x="370.3" y="232.94" font-size="7.8" font-weight="bold" text-anchor="end" fill="#111">60</text>
<line x1="370.7" y1="217.82" x2="373.3" y2="217.82" stroke="#111" stroke-width="1.3" />
<text x="370.3" y="219.72" font-size="7.8" font-weight="bold" text-anchor="end" fill="#111">80</text>
<line x1="370.7" y1="204.6" x2="373.3" y2="204.6" stroke="#111" stroke-width="1.3" />
<text x="370.3" y="206.50" font-size="7.8" font-weight="bold" text-anchor="end" fill="#111">100</text>
<line x1="398.3" y1="270.7" x2="398.3" y2="273.5" stroke="#111" stroke-width="1.3" />
<text transform="translate(399.90,279.30) rotate(-45)" x="0" y="0" font-size="8.1" font-weight="bold" text-anchor="end" fill="#111">CD161++ CD8aa</text>
<line x1="447.3" y1="270.7" x2="447.3" y2="273.5" stroke="#111" stroke-width="1.3" />
<text transform="translate(448.90,279.30) rotate(-45)" x="0" y="0" font-size="8.1" font-weight="bold" text-anchor="end" fill="#111">CD161++ CD8ab</text>
<text transform="translate(341.9,235.8) rotate(-90)" x="0" y="0" font-size="8.2" font-weight="bold" text-anchor="middle" fill="#111">% + CXCR6+ cells</text>
<line x1="398.3" y1="197.7" x2="448.8" y2="197.7" stroke="#111" stroke-width="1.5" />
<line x1="398.3" y1="195.2" x2="398.3" y2="200.2" stroke="#111" stroke-width="1.3" />
<line x1="448.8" y1="195.2" x2="448.8" y2="200.2" stroke="#111" stroke-width="1.3" />
<text x="423.6" y="192.2" font-size="7.5" text-anchor="middle" fill="#111" stroke="#111" stroke-width="0.2">ns</text>
<line x1="381.9" y1="226.7" x2="414.6" y2="226.7" stroke="#222" stroke-width="1.2" />
<line x1="431.2" y1="227.1" x2="463.8" y2="227.1" stroke="#222" stroke-width="1.2" />
<polygon points="398.30,208.10 399.01,209.82 400.87,209.97 399.46,211.18 399.89,212.98 398.30,212.02 396.71,212.98 397.14,211.18 395.73,209.97 397.59,209.82" fill="#111"/>
<polygon points="406.00,210.40 406.71,212.12 408.57,212.27 407.16,213.48 407.59,215.28 406.00,214.31 404.41,215.28 404.84,213.48 403.43,212.27 405.29,212.12" fill="#111"/>
<polygon points="390.20,215.80 390.91,217.52 392.77,217.67 391.36,218.88 391.79,220.68 390.20,219.72 388.61,220.68 389.04,218.88 387.63,217.67 389.49,217.52" fill="#111"/>
<polygon points="398.30,217.30 399.01,219.02 400.87,219.17 399.46,220.38 399.89,222.18 398.30,221.22 396.71,222.18 397.14,220.38 395.73,219.17 397.59,219.02" fill="#111"/>
<polygon points="406.00,244.20 406.71,245.92 408.57,246.07 407.16,247.28 407.59,249.08 406.00,248.12 404.41,249.08 404.84,247.28 403.43,246.07 405.29,245.92" fill="#111"/>
<polygon points="398.30,250.40 399.01,252.12 400.87,252.27 399.46,253.48 399.89,255.28 398.30,254.31 396.71,255.28 397.14,253.48 395.73,252.27 397.59,252.12" fill="#111"/>
<polygon points="447.3,207.8 449.90000000000003,210.4 447.3,213.0 444.7,210.4" fill="#111"/>
<polygon points="455.2,206.6 457.8,209.2 455.2,211.79999999999998 452.59999999999997,209.2" fill="#111"/>
<polygon points="439.6,217.4 442.20000000000005,220 439.6,222.6 437.0,220" fill="#111"/>
<polygon points="447.3,218.4 449.90000000000003,221 447.3,223.6 444.7,221" fill="#111"/>
<polygon points="455.2,244.70000000000002 457.8,247.3 455.2,249.9 452.59999999999997,247.3" fill="#111"/>
<polygon points="447.3,252.8 449.90000000000003,255.4 447.3,258.0 444.7,255.4" fill="#111"/>
<line x1="66.4" y1="363.29999999999995" x2="66.4" y2="430.90000000000003" stroke="#111" stroke-width="1.5" />
<line x1="65.60000000000001" y1="430.1" x2="164.7" y2="430.1" stroke="#111" stroke-width="1.6" />
<line x1="63.800000000000004" y1="430.1" x2="66.4" y2="430.1" stroke="#111" stroke-width="1.3" />
<text x="63.400000000000006" y="432.80" font-size="7.8" font-weight="bold" text-anchor="end" fill="#111">0</text>
<line x1="63.800000000000004" y1="416.86" x2="66.4" y2="416.86" stroke="#111" stroke-width="1.3" />
<text x="63.400000000000006" y="419.56" font-size="7.8" font-weight="bold" text-anchor="end" fill="#111">20</text>
<line x1="63.800000000000004" y1="403.62" x2="66.4" y2="403.62" stroke="#111" stroke-width="1.3" />
<text x="63.400000000000006" y="406.32" font-size="7.8" font-weight="bold" text-anchor="end" fill="#111">40</text>
<line x1="63.800000000000004" y1="390.38" x2="66.4" y2="390.38" stroke="#111" stroke-width="1.3" />
<text x="63.400000000000006" y="393.08" font-size="7.8" font-weight="bold" text-anchor="end" fill="#111">60</text>
<line x1="63.800000000000004" y1="377.14" x2="66.4" y2="377.14" stroke="#111" stroke-width="1.3" />
<text x="63.400000000000006" y="379.84" font-size="7.8" font-weight="bold" text-anchor="end" fill="#111">80</text>
<line x1="63.800000000000004" y1="363.9" x2="66.4" y2="363.9" stroke="#111" stroke-width="1.3" />
<text x="63.400000000000006" y="366.60" font-size="7.8" font-weight="bold" text-anchor="end" fill="#111">100</text>
<line x1="91.3" y1="430.1" x2="91.3" y2="432.90000000000003" stroke="#111" stroke-width="1.3" />
<text transform="translate(92.90,439.10) rotate(-45)" x="0" y="0" font-size="8.1" font-weight="bold" text-anchor="end" fill="#111">CD161++ CD8aa</text>
<line x1="140.4" y1="430.1" x2="140.4" y2="432.90000000000003" stroke="#111" stroke-width="1.3" />
<text transform="translate(142.00,439.10) rotate(-45)" x="0" y="0" font-size="8.1" font-weight="bold" text-anchor="end" fill="#111">CD161++ CD8ab</text>
<text transform="translate(41.9,393.7) rotate(-90)" x="0" y="0" font-size="8.1" font-weight="bold" text-anchor="middle" fill="#111">% IFN-γ + cells of subset</text>
<line x1="86.4" y1="355.9" x2="137.2" y2="355.9" stroke="#111" stroke-width="1.5" />
<line x1="86.4" y1="353.4" x2="86.4" y2="358.4" stroke="#111" stroke-width="1.3" />
<line x1="137.2" y1="353.4" x2="137.2" y2="358.4" stroke="#111" stroke-width="1.3" />
<text x="111.2" y="351.2" font-size="7.5" text-anchor="middle" fill="#111" stroke="#111" stroke-width="0.2">ns</text>
<line x1="75.2" y1="389.3" x2="107.6" y2="389.3" stroke="#222" stroke-width="1.2" />
<line x1="124.5" y1="383.8" x2="156.9" y2="383.8" stroke="#222" stroke-width="1.2" />
<polygon points="84.30,370.50 85.01,372.22 86.87,372.37 85.46,373.58 85.89,375.38 84.30,374.41 82.71,375.38 83.14,373.58 81.73,372.37 83.59,372.22" fill="#111"/>
<polygon points="91.30,371.80 92.01,373.52 93.87,373.67 92.46,374.88 92.89,376.68 91.30,375.71 89.71,376.68 90.14,374.88 88.73,373.67 90.59,373.52" fill="#111"/>
<polygon points="84.30,380.00 85.01,381.72 86.87,381.87 85.46,383.08 85.89,384.88 84.30,383.91 82.71,384.88 83.14,383.08 81.73,381.87 83.59,381.72" fill="#111"/>
<polygon points="91.30,384.30 92.01,386.02 93.87,386.17 92.46,387.38 92.89,389.18 91.30,388.21 89.71,389.18 90.14,387.38 88.73,386.17 90.59,386.02" fill="#111"/>
<polygon points="98.10,382.80 98.81,384.52 100.67,384.67 99.26,385.88 99.69,387.68 98.10,386.71 96.51,387.68 96.94,385.88 95.53,384.67 97.39,384.52" fill="#111"/>
<polygon points="105.10,379.60 105.81,381.32 107.67,381.47 106.26,382.68 106.69,384.48 105.10,383.51 103.51,384.48 103.94,382.68 102.53,381.47 104.39,381.32" fill="#111"/>
<polygon points="84.30,393.40 85.01,395.12 86.87,395.27 85.46,396.48 85.89,398.28 84.30,397.31 82.71,398.28 83.14,396.48 81.73,395.27 83.59,395.12" fill="#111"/>
<polygon points="91.30,393.40 92.01,395.12 93.87,395.27 92.46,396.48 92.89,398.28 91.30,397.31 89.71,398.28 90.14,396.48 88.73,395.27 90.59,395.12" fill="#111"/>
<polygon points="98.10,390.20 98.81,391.92 100.67,392.07 99.26,393.28 99.69,395.08 98.10,394.11 96.51,395.08 96.94,393.28 95.53,392.07 97.39,391.92" fill="#111"/>
<polygon points="91.30,419.40 92.01,421.12 93.87,421.27 92.46,422.48 92.89,424.28 91.30,423.31 89.71,424.28 90.14,422.48 88.73,421.27 90.59,421.12" fill="#111"/>
<polygon points="133.4,371.2 136.0,373.8 133.4,376.40000000000003 130.8,373.8" fill="#111"/>
<polygon points="147.2,370.79999999999995 149.79999999999998,373.4 147.2,376.0 144.6,373.4" fill="#111"/>
<polygon points="154.1,370.59999999999997 156.7,373.2 154.1,375.8 151.5,373.2" fill="#111"/>
<polygon points="140.4,376.09999999999997 143.0,378.7 140.4,381.3 137.8,378.7" fill="#111"/>
<polygon points="126.6,382.2 129.2,384.8 126.6,387.40000000000003 124.0,384.8" fill="#111"/>
<polygon points="133.4,384.4 136.0,387 133.4,389.6 130.8,387" fill="#111"/>
<polygon points="140.4,385.59999999999997 143.0,388.2 140.4,390.8 137.8,388.2" fill="#111"/>
<polygon points="147.2,382.2 149.79999999999998,384.8 147.2,387.40000000000003 144.6,384.8" fill="#111"/>
<polygon points="154.1,382.2 156.7,384.8 154.1,387.40000000000003 151.5,384.8" fill="#111"/>
<polygon points="140.4,405.5 143.0,408.1 140.4,410.70000000000005 137.8,408.1" fill="#111"/>
<line x1="229.9" y1="360.2" x2="229.9" y2="430.7" stroke="#111" stroke-width="1.5" />
<line x1="229.1" y1="429.9" x2="332.3" y2="429.9" stroke="#111" stroke-width="1.6" />
<line x1="227.3" y1="429.9" x2="229.9" y2="429.9" stroke="#111" stroke-width="1.3" />
<text x="226.9" y="433.10" font-size="7.9" font-weight="bold" text-anchor="end" fill="#111">0</text>
<line x1="227.3" y1="412.625" x2="229.9" y2="412.625" stroke="#111" stroke-width="1.3" />
<text x="226.9" y="415.82" font-size="7.9" font-weight="bold" text-anchor="end" fill="#111">5</text>
<line x1="227.3" y1="395.35" x2="229.9" y2="395.35" stroke="#111" stroke-width="1.3" />
<text x="226.9" y="398.55" font-size="7.9" font-weight="bold" text-anchor="end" fill="#111">10</text>
<line x1="227.3" y1="378.075" x2="229.9" y2="378.075" stroke="#111" stroke-width="1.3" />
<text x="226.9" y="381.27" font-size="7.9" font-weight="bold" text-anchor="end" fill="#111">15</text>
<line x1="227.3" y1="360.8" x2="229.9" y2="360.8" stroke="#111" stroke-width="1.3" />
<text x="226.9" y="364.00" font-size="7.9" font-weight="bold" text-anchor="end" fill="#111">20</text>
<line x1="255.6" y1="429.9" x2="255.6" y2="432.7" stroke="#111" stroke-width="1.3" />
<text transform="translate(257.20,439.30) rotate(-45)" x="0" y="0" font-size="8.5" font-weight="bold" text-anchor="end" fill="#111">CD161++ CD8aa</text>
<line x1="306.6" y1="429.9" x2="306.6" y2="432.7" stroke="#111" stroke-width="1.3" />
<text transform="translate(308.20,439.30) rotate(-45)" x="0" y="0" font-size="8.5" font-weight="bold" text-anchor="end" fill="#111">CD161++ CD8ab</text>
<text transform="translate(209.4,393.3) rotate(-90)" x="0" y="0" font-size="8.55" font-weight="bold" text-anchor="middle" fill="#111">% IL-17+ cells of subset</text>
<line x1="255.6" y1="352.8" x2="304.9" y2="352.8" stroke="#111" stroke-width="1.5" />
<line x1="255.6" y1="350.3" x2="255.6" y2="355.3" stroke="#111" stroke-width="1.3" />
<line x1="304.9" y1="350.3" x2="304.9" y2="355.3" stroke="#111" stroke-width="1.3" />
<text x="283.3" y="346.5" font-size="7.5" text-anchor="middle" fill="#111" stroke="#111" stroke-width="0.2">*</text>
<line x1="238.3" y1="414.5" x2="272.7" y2="414.5" stroke="#222" stroke-width="1.2" />
<line x1="290.2" y1="420.3" x2="324.5" y2="420.3" stroke="#222" stroke-width="1.2" />
<polygon points="255.70,398.70 256.41,400.42 258.27,400.57 256.86,401.78 257.29,403.58 255.70,402.61 254.11,403.58 254.54,401.78 253.13,400.57 254.99,400.42" fill="#111"/>
<polygon points="264.00,398.20 264.71,399.92 266.57,400.07 265.16,401.28 265.59,403.08 264.00,402.11 262.41,403.08 262.84,401.28 261.43,400.07 263.29,399.92" fill="#111"/>
<polygon points="255.70,408.30 256.41,410.02 258.27,410.17 256.86,411.38 257.29,413.18 255.70,412.21 254.11,413.18 254.54,411.38 253.13,410.17 254.99,410.02" fill="#111"/>
<polygon points="247.10,416.60 247.81,418.32 249.67,418.47 248.26,419.68 248.69,421.48 247.10,420.51 245.51,421.48 245.94,419.68 244.53,418.47 246.39,418.32" fill="#111"/>
<polygon points="251.60,415.50 252.31,417.22 254.17,417.37 252.76,418.58 253.19,420.38 251.60,419.41 250.01,420.38 250.44,418.58 249.03,417.37 250.89,417.22" fill="#111"/>
<polygon points="255.70,419.00 256.41,420.72 258.27,420.87 256.86,422.08 257.29,423.88 255.70,422.91 254.11,423.88 254.54,422.08 253.13,420.87 254.99,420.72" fill="#111"/>
<polygon points="259.90,416.20 260.61,417.92 262.47,418.07 261.06,419.28 261.49,421.08 259.90,420.11 258.31,421.08 258.74,419.28 257.33,418.07 259.19,417.92" fill="#111"/>
<polygon points="264.00,418.60 264.71,420.32 266.57,420.47 265.16,421.68 265.59,423.48 264.00,422.51 262.41,423.48 262.84,421.68 261.43,420.47 263.29,420.32" fill="#111"/>
<polygon points="268.40,415.20 269.11,416.92 270.97,417.07 269.56,418.28 269.99,420.08 268.40,419.11 266.81,420.08 267.24,418.28 265.83,417.07 267.69,416.92" fill="#111"/>
<polygon points="307.2,407.2 309.8,409.8 307.2,412.40000000000003 304.59999999999997,409.8" fill="#111"/>
<polygon points="299.7,410.29999999999995 302.3,412.9 299.7,415.5 297.09999999999997,412.9" fill="#111"/>
<polygon points="307.2,415.09999999999997 309.8,417.7 307.2,420.3 304.59999999999997,417.7" fill="#111"/>
<polygon points="311,418.9 313.6,421.5 311,424.1 308.4,421.5" fill="#111"/>
<polygon points="292.8,420.29999999999995 295.40000000000003,422.9 292.8,425.5 290.2,422.9" fill="#111"/>
<polygon points="299.7,422.4 302.3,425 299.7,427.6 297.09999999999997,425" fill="#111"/>
<polygon points="307.2,423.29999999999995 309.8,425.9 307.2,428.5 304.59999999999997,425.9" fill="#111"/>
<polygon points="314.4,423.29999999999995 317.0,425.9 314.4,428.5 311.79999999999995,425.9" fill="#111"/>
<polygon points="321.7,420.7 324.3,423.3 321.7,425.90000000000003 319.09999999999997,423.3" fill="#111"/>
<line x1="399.2" y1="362.7" x2="399.2" y2="430.40000000000003" stroke="#111" stroke-width="1.5" />
<line x1="398.4" y1="429.6" x2="499" y2="429.6" stroke="#111" stroke-width="1.6" />
<line x1="396.59999999999997" y1="429.6" x2="399.2" y2="429.6" stroke="#111" stroke-width="1.3" />
<text x="396.2" y="432.90" font-size="7.6" font-weight="bold" text-anchor="end" fill="#111">0</text>
<line x1="396.59999999999997" y1="413.02500000000003" x2="399.2" y2="413.02500000000003" stroke="#111" stroke-width="1.3" />
<text x="396.2" y="416.33" font-size="7.6" font-weight="bold" text-anchor="end" fill="#111">5</text>
<line x1="396.59999999999997" y1="396.45000000000005" x2="399.2" y2="396.45000000000005" stroke="#111" stroke-width="1.3" />
<text x="396.2" y="399.75" font-size="7.6" font-weight="bold" text-anchor="end" fill="#111">10</text>
<line x1="396.59999999999997" y1="379.875" x2="399.2" y2="379.875" stroke="#111" stroke-width="1.3" />
<text x="396.2" y="383.18" font-size="7.6" font-weight="bold" text-anchor="end" fill="#111">15</text>
<line x1="396.59999999999997" y1="363.3" x2="399.2" y2="363.3" stroke="#111" stroke-width="1.3" />
<text x="396.2" y="366.60" font-size="7.6" font-weight="bold" text-anchor="end" fill="#111">20</text>
<line x1="424.6" y1="429.6" x2="424.6" y2="432.40000000000003" stroke="#111" stroke-width="1.3" />
<text transform="translate(426.20,439.40) rotate(-45)" x="0" y="0" font-size="8.5" font-weight="bold" text-anchor="end" fill="#111">CD161++ CD8aa</text>
<line x1="474" y1="429.6" x2="474" y2="432.40000000000003" stroke="#111" stroke-width="1.3" />
<text transform="translate(475.60,439.40) rotate(-45)" x="0" y="0" font-size="8.5" font-weight="bold" text-anchor="end" fill="#111">CD161++ CD8ab</text>
<text transform="translate(376.6,395) rotate(-90)" x="0" y="0" font-size="8.3" font-weight="bold" text-anchor="middle" fill="#111">% IL-22+ cells of subset</text>
<line x1="420.3" y1="355.3" x2="476.5" y2="355.3" stroke="#111" stroke-width="1.5" />
<line x1="420.3" y1="352.8" x2="420.3" y2="357.8" stroke="#111" stroke-width="1.3" />
<line x1="476.5" y1="352.8" x2="476.5" y2="357.8" stroke="#111" stroke-width="1.3" />
<text x="445.2" y="350.8" font-size="7.5" text-anchor="middle" fill="#111" stroke="#111" stroke-width="0.2">ns</text>
<line x1="407.8" y1="423.6" x2="440.4" y2="423.6" stroke="#222" stroke-width="1.2" />
<line x1="457.7" y1="425.8" x2="490.4" y2="425.8" stroke="#222" stroke-width="1.2" />
<polygon points="416.10,415.70 416.79,417.35 418.57,417.50 417.21,418.66 417.63,420.40 416.10,419.47 414.57,420.40 414.99,418.66 413.63,417.50 415.41,417.35" fill="#111"/>
<polygon points="424.00,415.70 424.69,417.35 426.47,417.50 425.11,418.66 425.53,420.40 424.00,419.47 422.47,420.40 422.89,418.66 421.53,417.50 423.31,417.35" fill="#111"/>
<polygon points="424.00,418.60 424.69,420.25 426.47,420.40 425.11,421.56 425.53,423.30 424.00,422.37 422.47,423.30 422.89,421.56 421.53,420.40 423.31,420.25" fill="#111"/>
<polygon points="411.80,420.90 412.49,422.55 414.27,422.70 412.91,423.86 413.33,425.60 411.80,424.67 410.27,425.60 410.69,423.86 409.33,422.70 411.11,422.55" fill="#111"/>
<polygon points="420.50,421.40 421.19,423.05 422.97,423.20 421.61,424.36 422.03,426.10 420.50,425.17 418.97,426.10 419.39,424.36 418.03,423.20 419.81,423.05" fill="#111"/>
<polygon points="428.00,422.00 428.69,423.65 430.47,423.80 429.11,424.96 429.53,426.70 428.00,425.77 426.47,426.70 426.89,424.96 425.53,423.80 427.31,423.65" fill="#111"/>
<polygon points="436.10,421.40 436.79,423.05 438.57,423.20 437.21,424.36 437.63,426.10 436.10,425.17 434.57,426.10 434.99,424.36 433.63,423.20 435.41,423.05" fill="#111"/>
<polygon points="416.50,424.30 417.19,425.95 418.97,426.10 417.61,427.26 418.03,429.00 416.50,428.07 414.97,429.00 415.39,427.26 414.03,426.10 415.81,425.95" fill="#111"/>
<polygon points="431.50,424.30 432.19,425.95 433.97,426.10 432.61,427.26 433.03,429.00 431.50,428.07 429.97,429.00 430.39,427.26 429.03,426.10 430.81,425.95" fill="#111"/>
<polygon points="425.70,419.70 426.39,421.35 428.17,421.50 426.81,422.66 427.23,424.40 425.70,423.47 424.17,424.40 424.59,422.66 423.23,421.50 425.01,421.35" fill="#111"/>
<polygon points="424.00,426.60 424.69,428.25 426.47,428.40 425.11,429.56 425.53,431.30 424.00,430.37 422.47,431.30 422.89,429.56 421.53,428.40 423.31,428.25" fill="#111"/>
<polygon points="474,419.20000000000005 475.4,420.6 474,422.0 472.6,420.6" fill="#111"/>
<polygon points="465.4,424.90000000000003 466.79999999999995,426.3 465.4,427.7 464.0,426.3" fill="#111"/>
<polygon points="469.2,425.5 470.59999999999997,426.9 469.2,428.29999999999995 467.8,426.9" fill="#111"/>
<polygon points="474,424.0 475.4,425.4 474,426.79999999999995 472.6,425.4" fill="#111"/>
<polygon points="477.9,424.90000000000003 479.29999999999995,426.3 477.9,427.7 476.5,426.3" fill="#111"/>
<polygon points="481.7,424.90000000000003 483.09999999999997,426.3 481.7,427.7 480.3,426.3" fill="#111"/>
<polygon points="474,427.8 475.4,429.2 474,430.59999999999997 472.6,429.2" fill="#111"/>
<g shape-rendering="crispEdges"><rect x="114.20" y="511.90" width="1.05" height="23.55" fill="#206133"/><rect x="114.20" y="535.40" width="1.05" height="23.55" fill="#1f562e"/><rect x="114.20" y="558.90" width="1.05" height="23.55" fill="#205d31"/><rect x="114.20" y="582.40" width="1.05" height="23.55" fill="#1f5930"/><rect x="114.20" y="605.90" width="1.05" height="23.55" fill="#216a35"/><rect x="114.20" y="629.40" width="1.05" height="23.55" fill="#206333"/><rect x="114.20" y="652.90" width="1.05" height="23.55" fill="#205f32"/><rect x="114.20" y="676.40" width="1.05" height="23.55" fill="#216734"/><rect x="115.20" y="511.90" width="1.05" height="23.55" fill="#216333"/><rect x="115.20" y="535.40" width="1.05" height="23.55" fill="#1f5930"/><rect x="115.20" y="558.90" width="1.05" height="23.55" fill="#1f572f"/><rect x="115.20" y="582.40" width="1.05" height="23.55" fill="#205b30"/><rect x="115.20" y="605.90" width="1.05" height="23.55" fill="#216634"/><rect x="115.20" y="629.40" width="1.05" height="23.55" fill="#216534"/><rect x="115.20" y="652.90" width="1.05" height="23.55" fill="#206133"/><rect x="115.20" y="676.40" width="1.05" height="23.55" fill="#205e32"/><rect x="116.20" y="511.90" width="1.25" height="23.55" fill="#227037"/><rect x="116.20" y="535.40" width="1.25" height="23.55" fill="#206233"/><rect x="116.20" y="558.90" width="1.25" height="23.55" fill="#216935"/><rect x="116.20" y="582.40" width="1.25" height="23.55" fill="#216935"/><rect x="116.20" y="605.90" width="1.25" height="23.55" fill="#227037"/><rect x="116.20" y="629.40" width="1.25" height="23.55" fill="#227438"/><rect x="116.20" y="652.90" width="1.25" height="23.55" fill="#227337"/><rect x="116.20" y="676.40" width="1.25" height="23.55" fill="#226d36"/><rect x="117.40" y="511.90" width="0.85" height="23.55" fill="#238d40"/><rect x="117.40" y="535.40" width="0.85" height="23.55" fill="#238b3f"/><rect x="117.40" y="558.90" width="0.85" height="23.55" fill="#23863e"/><rect x="117.40" y="582.40" width="0.85" height="23.55" fill="#238d40"/><rect x="117.40" y="605.90" width="0.85" height="23.55" fill="#259643"/><rect x="117.40" y="629.40" width="0.85" height="23.55" fill="#249442"/><rect x="117.40" y="652.90" width="0.85" height="23.55" fill="#259643"/><rect x="117.40" y="676.40" width="0.85" height="23.55" fill="#239242"/><rect x="118.20" y="511.90" width="0.85" height="23.55" fill="#259643"/><rect x="118.20" y="535.40" width="0.85" height="23.55" fill="#23883e"/><rect x="118.20" y="558.90" width="0.85" height="23.55" fill="#23893e"/><rect x="118.20" y="582.40" width="0.85" height="23.55" fill="#238f40"/><rect x="118.20" y="605.90" width="0.85" height="23.55" fill="#259844"/><rect x="118.20" y="629.40" width="0.85" height="23.55" fill="#28a149"/><rect x="118.20" y="652.90" width="0.85" height="23.55" fill="#279d47"/><rect x="118.20" y="676.40" width="0.85" height="23.55" fill="#28a048"/><rect x="119.00" y="511.90" width="1.55" height="23.55" fill="#23873e"/><rect x="119.00" y="535.40" width="1.55" height="23.55" fill="#237d3b"/><rect x="119.00" y="558.90" width="1.55" height="23.55" fill="#237a3a"/><rect x="119.00" y="582.40" width="1.55" height="23.55" fill="#237b3a"/><rect x="119.00" y="605.90" width="1.55" height="23.55" fill="#23893e"/><rect x="119.00" y="629.40" width="1.55" height="23.55" fill="#23893e"/><rect x="119.00" y="652.90" width="1.55" height="23.55" fill="#23883e"/><rect x="119.00" y="676.40" width="1.55" height="23.55" fill="#23893f"/><rect x="120.50" y="511.90" width="0.85" height="23.55" fill="#279d47"/><rect x="120.50" y="535.40" width="0.85" height="23.55" fill="#269945"/><rect x="120.50" y="558.90" width="0.85" height="23.55" fill="#249442"/><rect x="120.50" y="582.40" width="0.85" height="23.55" fill="#279c46"/><rect x="120.50" y="605.90" width="0.85" height="23.55" fill="#2aa54b"/><rect x="120.50" y="629.40" width="0.85" height="23.55" fill="#28a048"/><rect x="120.50" y="652.90" width="0.85" height="23.55" fill="#28a048"/><rect x="120.50" y="676.40" width="0.85" height="23.55" fill="#29a149"/><rect x="121.30" y="511.90" width="1.05" height="23.55" fill="#238a3f"/><rect x="121.30" y="535.40" width="1.05" height="23.55" fill="#237f3b"/><rect x="121.30" y="558.90" width="1.05" height="23.55" fill="#237f3b"/><rect x="121.30" y="582.40" width="1.05" height="23.55" fill="#23863d"/><rect x="121.30" y="605.90" width="1.05" height="23.55" fill="#239041"/><rect x="121.30" y="629.40" width="1.05" height="23.55" fill="#238a3f"/><rect x="121.30" y="652.90" width="1.05" height="23.55" fill="#238f40"/><rect x="121.30" y="676.40" width="1.05" height="23.55" fill="#238a3f"/><rect x="122.30" y="511.90" width="1.55" height="23.55" fill="#249543"/><rect x="122.30" y="535.40" width="1.55" height="23.55" fill="#249342"/><rect x="122.30" y="558.90" width="1.55" height="23.55" fill="#238b3f"/><rect x="122.30" y="582.40" width="1.55" height="23.55" fill="#238c3f"/><rect x="122.30" y="605.90" width="1.55" height="23.55" fill="#289f47"/><rect x="122.30" y="629.40" width="1.55" height="23.55" fill="#249543"/><rect x="122.30" y="652.90" width="1.55" height="23.55" fill="#259844"/><rect x="122.30" y="676.40" width="1.55" height="23.55" fill="#279e47"/><rect x="123.80" y="511.90" width="0.85" height="23.55" fill="#259643"/><rect x="123.80" y="535.40" width="0.85" height="23.55" fill="#238e40"/><rect x="123.80" y="558.90" width="0.85" height="23.55" fill="#239241"/><rect x="123.80" y="582.40" width="0.85" height="23.55" fill="#238e40"/><rect x="123.80" y="605.90" width="0.85" height="23.55" fill="#279d46"/><rect x="123.80" y="629.40" width="0.85" height="23.55" fill="#269b46"/><rect x="123.80" y="652.90" width="0.85" height="23.55" fill="#289f47"/><rect x="123.80" y="676.40" width="0.85" height="23.55" fill="#28a048"/><rect x="124.60" y="511.90" width="1.55" height="23.55" fill="#238b3f"/><rect x="124.60" y="535.40" width="1.55" height="23.55" fill="#23833d"/><rect x="124.60" y="558.90" width="1.55" height="23.55" fill="#23853d"/><rect x="124.60" y="582.40" width="1.55" height="23.55" fill="#237b3a"/><rect x="124.60" y="605.90" width="1.55" height="23.55" fill="#259643"/><rect x="124.60" y="629.40" width="1.55" height="23.55" fill="#238e40"/><rect x="124.60" y="652.90" width="1.55" height="23.55" fill="#23863d"/><rect x="124.60" y="676.40" width="1.55" height="23.55" fill="#239141"/><rect x="126.10" y="511.90" width="1.05" height="23.55" fill="#23863e"/><rect x="126.10" y="535.40" width="1.05" height="23.55" fill="#23823c"/><rect x="126.10" y="558.90" width="1.05" height="23.55" fill="#23853d"/><rect x="126.10" y="582.40" width="1.05" height="23.55" fill="#237d3b"/><rect x="126.10" y="605.90" width="1.05" height="23.55" fill="#238e40"/><rect x="126.10" y="629.40" width="1.05" height="23.55" fill="#238b3f"/><rect x="126.10" y="652.90" width="1.05" height="23.55" fill="#238e40"/><rect x="126.10" y="676.40" width="1.05" height="23.55" fill="#23863d"/><rect x="127.10" y="511.90" width="0.85" height="23.55" fill="#23813c"/><rect x="127.10" y="535.40" width="0.85" height="23.55" fill="#237739"/><rect x="127.10" y="558.90" width="0.85" height="23.55" fill="#237b3a"/><rect x="127.10" y="582.40" width="0.85" height="23.55" fill="#237c3a"/><rect x="127.10" y="605.90" width="0.85" height="23.55" fill="#238a3f"/><rect x="127.10" y="629.40" width="0.85" height="23.55" fill="#237e3b"/><rect x="127.10" y="652.90" width="0.85" height="23.55" fill="#23823c"/><rect x="127.10" y="676.40" width="0.85" height="23.55" fill="#23833d"/><rect x="127.90" y="511.90" width="0.85" height="23.55" fill="#2eac50"/><rect x="127.90" y="535.40" width="0.85" height="23.55" fill="#2eac50"/><rect x="127.90" y="558.90" width="0.85" height="23.55" fill="#2eac50"/><rect x="127.90" y="582.40" width="0.85" height="23.55" fill="#2eac50"/><rect x="127.90" y="605.90" width="0.85" height="23.55" fill="#2eac50"/><rect x="127.90" y="629.40" width="0.85" height="23.55" fill="#2eac50"/><rect x="127.90" y="652.90" width="0.85" height="23.55" fill="#2eac50"/><rect x="127.90" y="676.40" width="0.85" height="23.55" fill="#2eac50"/><rect x="128.70" y="511.90" width="1.25" height="23.55" fill="#238c40"/><rect x="128.70" y="535.40" width="1.25" height="23.55" fill="#238c3f"/><rect x="128.70" y="558.90" width="1.25" height="23.55" fill="#238b3f"/><rect x="128.70" y="582.40" width="1.25" height="23.55" fill="#23853d"/><rect x="128.70" y="605.90" width="1.25" height="23.55" fill="#249442"/><rect x="128.70" y="629.40" width="1.25" height="23.55" fill="#259643"/><rect x="128.70" y="652.90" width="1.25" height="23.55" fill="#259744"/><rect x="128.70" y="676.40" width="1.25" height="23.55" fill="#238b3f"/><rect x="129.90" y="511.90" width="1.25" height="23.55" fill="#23833d"/><rect x="129.90" y="535.40" width="1.25" height="23.55" fill="#237e3b"/><rect x="129.90" y="558.90" width="1.25" height="23.55" fill="#237d3b"/><rect x="129.90" y="582.40" width="1.25" height="23.55" fill="#237d3a"/><rect x="129.90" y="605.90" width="1.25" height="23.55" fill="#23873e"/><rect x="129.90" y="629.40" width="1.25" height="23.55" fill="#238d40"/><rect x="129.90" y="652.90" width="1.25" height="23.55" fill="#238b3f"/><rect x="129.90" y="676.40" width="1.25" height="23.55" fill="#23843d"/><rect x="131.10" y="511.90" width="0.85" height="23.55" fill="#28a149"/><rect x="131.10" y="535.40" width="0.85" height="23.55" fill="#269b46"/><rect x="131.10" y="558.90" width="0.85" height="23.55" fill="#269a45"/><rect x="131.10" y="582.40" width="0.85" height="23.55" fill="#259643"/><rect x="131.10" y="605.90" width="0.85" height="23.55" fill="#2aa44a"/><rect x="131.10" y="629.40" width="0.85" height="23.55" fill="#29a34a"/><rect x="131.10" y="652.90" width="0.85" height="23.55" fill="#2aa34a"/><rect x="131.10" y="676.40" width="0.85" height="23.55" fill="#2aa44b"/><rect x="131.90" y="511.90" width="1.05" height="23.55" fill="#23873e"/><rect x="131.90" y="535.40" width="1.05" height="23.55" fill="#237b3a"/><rect x="131.90" y="558.90" width="1.05" height="23.55" fill="#237f3b"/><rect x="131.90" y="582.40" width="1.05" height="23.55" fill="#237b3a"/><rect x="131.90" y="605.90" width="1.05" height="23.55" fill="#23893f"/><rect x="131.90" y="629.40" width="1.05" height="23.55" fill="#238c3f"/><rect x="131.90" y="652.90" width="1.05" height="23.55" fill="#23853d"/><rect x="131.90" y="676.40" width="1.05" height="23.55" fill="#238a3f"/><rect x="132.90" y="511.90" width="0.85" height="23.55" fill="#249543"/><rect x="132.90" y="535.40" width="0.85" height="23.55" fill="#238c3f"/><rect x="132.90" y="558.90" width="0.85" height="23.55" fill="#238f40"/><rect x="132.90" y="582.40" width="0.85" height="23.55" fill="#238b3f"/><rect x="132.90" y="605.90" width="0.85" height="23.55" fill="#279e47"/><rect x="132.90" y="629.40" width="0.85" height="23.55" fill="#28a148"/><rect x="132.90" y="652.90" width="0.85" height="23.55" fill="#269945"/><rect x="132.90" y="676.40" width="0.85" height="23.55" fill="#269b46"/><rect x="133.70" y="511.90" width="1.55" height="23.55" fill="#23833d"/><rect x="133.70" y="535.40" width="1.55" height="23.55" fill="#23803c"/><rect x="133.70" y="558.90" width="1.55" height="23.55" fill="#237e3b"/><rect x="133.70" y="582.40" width="1.55" height="23.55" fill="#23833d"/><rect x="133.70" y="605.90" width="1.55" height="23.55" fill="#238f40"/><rect x="133.70" y="629.40" width="1.55" height="23.55" fill="#238f40"/><rect x="133.70" y="652.90" width="1.55" height="23.55" fill="#238c3f"/><rect x="133.70" y="676.40" width="1.55" height="23.55" fill="#238a3f"/><rect x="135.20" y="511.90" width="1.25" height="23.55" fill="#238a3f"/><rect x="135.20" y="535.40" width="1.25" height="23.55" fill="#23843d"/><rect x="135.20" y="558.90" width="1.25" height="23.55" fill="#23833d"/><rect x="135.20" y="582.40" width="1.25" height="23.55" fill="#237e3b"/><rect x="135.20" y="605.90" width="1.25" height="23.55" fill="#238e40"/><rect x="135.20" y="629.40" width="1.25" height="23.55" fill="#238e40"/><rect x="135.20" y="652.90" width="1.25" height="23.55" fill="#249442"/><rect x="135.20" y="676.40" width="1.25" height="23.55" fill="#239041"/><rect x="136.40" y="511.90" width="0.85" height="23.55" fill="#23893e"/><rect x="136.40" y="535.40" width="0.85" height="23.55" fill="#237f3b"/><rect x="136.40" y="558.90" width="0.85" height="23.55" fill="#23833d"/><rect x="136.40" y="582.40" width="0.85" height="23.55" fill="#237e3b"/><rect x="136.40" y="605.90" width="0.85" height="23.55" fill="#23843d"/><rect x="136.40" y="629.40" width="0.85" height="23.55" fill="#238f40"/><rect x="136.40" y="652.90" width="0.85" height="23.55" fill="#238e40"/><rect x="136.40" y="676.40" width="0.85" height="23.55" fill="#238b3f"/><rect x="137.20" y="511.90" width="1.55" height="23.55" fill="#23863e"/><rect x="137.20" y="535.40" width="1.55" height="23.55" fill="#237b3a"/><rect x="137.20" y="558.90" width="1.55" height="23.55" fill="#23803b"/><rect x="137.20" y="582.40" width="1.55" height="23.55" fill="#23823c"/><rect x="137.20" y="605.90" width="1.55" height="23.55" fill="#238b3f"/><rect x="137.20" y="629.40" width="1.55" height="23.55" fill="#238a3f"/><rect x="137.20" y="652.90" width="1.55" height="23.55" fill="#23873e"/><rect x="137.20" y="676.40" width="1.55" height="23.55" fill="#23873e"/><rect x="138.70" y="511.90" width="0.85" height="23.55" fill="#2ba64c"/><rect x="138.70" y="535.40" width="0.85" height="23.55" fill="#289f48"/><rect x="138.70" y="558.90" width="0.85" height="23.55" fill="#279e47"/><rect x="138.70" y="582.40" width="0.85" height="23.55" fill="#279e47"/><rect x="138.70" y="605.90" width="0.85" height="23.55" fill="#2daa4f"/><rect x="138.70" y="629.40" width="0.85" height="23.55" fill="#2ba74c"/><rect x="138.70" y="652.90" width="0.85" height="23.55" fill="#2eac50"/><rect x="138.70" y="676.40" width="0.85" height="23.55" fill="#2da94e"/><rect x="139.50" y="511.90" width="1.05" height="23.55" fill="#269b46"/><rect x="139.50" y="535.40" width="1.05" height="23.55" fill="#239242"/><rect x="139.50" y="558.90" width="1.05" height="23.55" fill="#238f40"/><rect x="139.50" y="582.40" width="1.05" height="23.55" fill="#238d40"/><rect x="139.50" y="605.90" width="1.05" height="23.55" fill="#279d47"/><rect x="139.50" y="629.40" width="1.05" height="23.55" fill="#279e47"/><rect x="139.50" y="652.90" width="1.05" height="23.55" fill="#28a148"/><rect x="139.50" y="676.40" width="1.05" height="23.55" fill="#249443"/><rect x="140.50" y="511.90" width="1.55" height="23.55" fill="#238d40"/><rect x="140.50" y="535.40" width="1.55" height="23.55" fill="#23863d"/><rect x="140.50" y="558.90" width="1.55" height="23.55" fill="#23823c"/><rect x="140.50" y="582.40" width="1.55" height="23.55" fill="#23833c"/><rect x="140.50" y="605.90" width="1.55" height="23.55" fill="#249342"/><rect x="140.50" y="629.40" width="1.55" height="23.55" fill="#238f41"/><rect x="140.50" y="652.90" width="1.55" height="23.55" fill="#238b3f"/><rect x="140.50" y="676.40" width="1.55" height="23.55" fill="#239242"/><rect x="142.00" y="511.90" width="0.85" height="23.55" fill="#238c3f"/><rect x="142.00" y="535.40" width="0.85" height="23.55" fill="#23833d"/><rect x="142.00" y="558.90" width="0.85" height="23.55" fill="#23873e"/><rect x="142.00" y="582.40" width="0.85" height="23.55" fill="#23803b"/><rect x="142.00" y="605.90" width="0.85" height="23.55" fill="#238d40"/><rect x="142.00" y="629.40" width="0.85" height="23.55" fill="#238c3f"/><rect x="142.00" y="652.90" width="0.85" height="23.55" fill="#238a3f"/><rect x="142.00" y="676.40" width="0.85" height="23.55" fill="#23873e"/><rect x="142.80" y="511.90" width="1.55" height="23.55" fill="#23863d"/><rect x="142.80" y="535.40" width="1.55" height="23.55" fill="#237f3b"/><rect x="142.80" y="558.90" width="1.55" height="23.55" fill="#237e3b"/><rect x="142.80" y="582.40" width="1.55" height="23.55" fill="#237e3b"/><rect x="142.80" y="605.90" width="1.55" height="23.55" fill="#23823c"/><rect x="142.80" y="629.40" width="1.55" height="23.55" fill="#23883e"/><rect x="142.80" y="652.90" width="1.55" height="23.55" fill="#23873e"/><rect x="142.80" y="676.40" width="1.55" height="23.55" fill="#238a3f"/><rect x="144.30" y="511.90" width="1.55" height="23.55" fill="#2eac50"/><rect x="144.30" y="535.40" width="1.55" height="23.55" fill="#2eac50"/><rect x="144.30" y="558.90" width="1.55" height="23.55" fill="#2eac50"/><rect x="144.30" y="582.40" width="1.55" height="23.55" fill="#2ca94e"/><rect x="144.30" y="605.90" width="1.55" height="23.55" fill="#2eac50"/><rect x="144.30" y="629.40" width="1.55" height="23.55" fill="#2eac50"/><rect x="144.30" y="652.90" width="1.55" height="23.55" fill="#2eac50"/><rect x="144.30" y="676.40" width="1.55" height="23.55" fill="#2eac50"/><rect x="145.80" y="511.90" width="1.25" height="23.55" fill="#2daa4e"/><rect x="145.80" y="535.40" width="1.25" height="23.55" fill="#28a048"/><rect x="145.80" y="558.90" width="1.25" height="23.55" fill="#2aa54b"/><rect x="145.80" y="582.40" width="1.25" height="23.55" fill="#2ba54c"/><rect x="145.80" y="605.90" width="1.25" height="23.55" fill="#2eac50"/><rect x="145.80" y="629.40" width="1.25" height="23.55" fill="#2eac50"/><rect x="145.80" y="652.90" width="1.25" height="23.55" fill="#2daa4f"/><rect x="145.80" y="676.40" width="1.25" height="23.55" fill="#2daa4f"/><rect x="147.00" y="511.90" width="0.85" height="23.55" fill="#23893e"/><rect x="147.00" y="535.40" width="0.85" height="23.55" fill="#23883e"/><rect x="147.00" y="558.90" width="0.85" height="23.55" fill="#23893e"/><rect x="147.00" y="582.40" width="0.85" height="23.55" fill="#23843d"/><rect x="147.00" y="605.90" width="0.85" height="23.55" fill="#249342"/><rect x="147.00" y="629.40" width="0.85" height="23.55" fill="#259744"/><rect x="147.00" y="652.90" width="0.85" height="23.55" fill="#259844"/><rect x="147.00" y="676.40" width="0.85" height="23.55" fill="#249442"/><rect x="147.80" y="511.90" width="1.05" height="23.55" fill="#269945"/><rect x="147.80" y="535.40" width="1.05" height="23.55" fill="#238e40"/><rect x="147.80" y="558.90" width="1.05" height="23.55" fill="#238a3f"/><rect x="147.80" y="582.40" width="1.05" height="23.55" fill="#23883e"/><rect x="147.80" y="605.90" width="1.05" height="23.55" fill="#259844"/><rect x="147.80" y="629.40" width="1.05" height="23.55" fill="#239242"/><rect x="147.80" y="652.90" width="1.05" height="23.55" fill="#269a45"/><rect x="147.80" y="676.40" width="1.05" height="23.55" fill="#269a45"/><rect x="148.80" y="511.90" width="0.85" height="23.55" fill="#279e47"/><rect x="148.80" y="535.40" width="0.85" height="23.55" fill="#279c46"/><rect x="148.80" y="558.90" width="0.85" height="23.55" fill="#269945"/><rect x="148.80" y="582.40" width="0.85" height="23.55" fill="#259643"/><rect x="148.80" y="605.90" width="0.85" height="23.55" fill="#279e47"/><rect x="148.80" y="629.40" width="0.85" height="23.55" fill="#2aa44b"/><rect x="148.80" y="652.90" width="0.85" height="23.55" fill="#28a048"/><rect x="148.80" y="676.40" width="0.85" height="23.55" fill="#28a149"/><rect x="149.60" y="511.90" width="1.55" height="23.55" fill="#23803c"/><rect x="149.60" y="535.40" width="1.55" height="23.55" fill="#237939"/><rect x="149.60" y="558.90" width="1.55" height="23.55" fill="#23863d"/><rect x="149.60" y="582.40" width="1.55" height="23.55" fill="#237d3b"/><rect x="149.60" y="605.90" width="1.55" height="23.55" fill="#238b3f"/><rect x="149.60" y="629.40" width="1.55" height="23.55" fill="#238d40"/><rect x="149.60" y="652.90" width="1.55" height="23.55" fill="#23863e"/><rect x="149.60" y="676.40" width="1.55" height="23.55" fill="#238b3f"/><rect x="151.10" y="511.90" width="1.05" height="23.55" fill="#238d40"/><rect x="151.10" y="535.40" width="1.05" height="23.55" fill="#23893e"/><rect x="151.10" y="558.90" width="1.05" height="23.55" fill="#23863e"/><rect x="151.10" y="582.40" width="1.05" height="23.55" fill="#23833d"/><rect x="151.10" y="605.90" width="1.05" height="23.55" fill="#239141"/><rect x="151.10" y="629.40" width="1.05" height="23.55" fill="#259643"/><rect x="151.10" y="652.90" width="1.05" height="23.55" fill="#238c3f"/><rect x="151.10" y="676.40" width="1.05" height="23.55" fill="#238b3f"/><rect x="152.10" y="511.90" width="1.05" height="23.55" fill="#23883e"/><rect x="152.10" y="535.40" width="1.05" height="23.55" fill="#23813c"/><rect x="152.10" y="558.90" width="1.05" height="23.55" fill="#238a3f"/><rect x="152.10" y="582.40" width="1.05" height="23.55" fill="#238d40"/><rect x="152.10" y="605.90" width="1.05" height="23.55" fill="#249543"/><rect x="152.10" y="629.40" width="1.05" height="23.55" fill="#239141"/><rect x="152.10" y="652.90" width="1.05" height="23.55" fill="#279d47"/><rect x="152.10" y="676.40" width="1.05" height="23.55" fill="#238a3f"/><rect x="153.10" y="511.90" width="1.25" height="23.55" fill="#259844"/><rect x="153.10" y="535.40" width="1.25" height="23.55" fill="#238f40"/><rect x="153.10" y="558.90" width="1.25" height="23.55" fill="#238f40"/><rect x="153.10" y="582.40" width="1.25" height="23.55" fill="#23893e"/><rect x="153.10" y="605.90" width="1.25" height="23.55" fill="#259844"/><rect x="153.10" y="629.40" width="1.25" height="23.55" fill="#279e47"/><rect x="153.10" y="652.90" width="1.25" height="23.55" fill="#249342"/><rect x="153.10" y="676.40" width="1.25" height="23.55" fill="#269a45"/><rect x="154.30" y="511.90" width="1.05" height="23.55" fill="#23853d"/><rect x="154.30" y="535.40" width="1.05" height="23.55" fill="#237c3a"/><rect x="154.30" y="558.90" width="1.05" height="23.55" fill="#237939"/><rect x="154.30" y="582.40" width="1.05" height="23.55" fill="#23803c"/><rect x="154.30" y="605.90" width="1.05" height="23.55" fill="#238a3f"/><rect x="154.30" y="629.40" width="1.05" height="23.55" fill="#239141"/><rect x="154.30" y="652.90" width="1.05" height="23.55" fill="#23843d"/><rect x="154.30" y="676.40" width="1.05" height="23.55" fill="#238e40"/><rect x="155.30" y="511.90" width="1.55" height="23.55" fill="#2eac50"/><rect x="155.30" y="535.40" width="1.55" height="23.55" fill="#2eac50"/><rect x="155.30" y="558.90" width="1.55" height="23.55" fill="#2eac50"/><rect x="155.30" y="582.40" width="1.55" height="23.55" fill="#2eab50"/><rect x="155.30" y="605.90" width="1.55" height="23.55" fill="#2eac50"/><rect x="155.30" y="629.40" width="1.55" height="23.55" fill="#2eac50"/><rect x="155.30" y="652.90" width="1.55" height="23.55" fill="#2eac50"/><rect x="155.30" y="676.40" width="1.55" height="23.55" fill="#2eac50"/><rect x="156.80" y="511.90" width="0.85" height="23.55" fill="#239241"/><rect x="156.80" y="535.40" width="0.85" height="23.55" fill="#23873e"/><rect x="156.80" y="558.90" width="0.85" height="23.55" fill="#238b3f"/><rect x="156.80" y="582.40" width="0.85" height="23.55" fill="#239241"/><rect x="156.80" y="605.90" width="0.85" height="23.55" fill="#259744"/><rect x="156.80" y="629.40" width="0.85" height="23.55" fill="#239141"/><rect x="156.80" y="652.90" width="0.85" height="23.55" fill="#259744"/><rect x="156.80" y="676.40" width="0.85" height="23.55" fill="#239041"/><rect x="157.60" y="511.90" width="1.55" height="23.55" fill="#237d3b"/><rect x="157.60" y="535.40" width="1.55" height="23.55" fill="#237638"/><rect x="157.60" y="558.90" width="1.55" height="23.55" fill="#227137"/><rect x="157.60" y="582.40" width="1.55" height="23.55" fill="#237939"/><rect x="157.60" y="605.90" width="1.55" height="23.55" fill="#23853d"/><rect x="157.60" y="629.40" width="1.55" height="23.55" fill="#237b3a"/><rect x="157.60" y="652.90" width="1.55" height="23.55" fill="#238a3f"/><rect x="157.60" y="676.40" width="1.55" height="23.55" fill="#23853d"/><rect x="159.10" y="511.90" width="1.05" height="23.55" fill="#237638"/><rect x="159.10" y="535.40" width="1.05" height="23.55" fill="#227037"/><rect x="159.10" y="558.90" width="1.05" height="23.55" fill="#227037"/><rect x="159.10" y="582.40" width="1.05" height="23.55" fill="#226f36"/><rect x="159.10" y="605.90" width="1.05" height="23.55" fill="#237f3b"/><rect x="159.10" y="629.40" width="1.05" height="23.55" fill="#237a3a"/><rect x="159.10" y="652.90" width="1.05" height="23.55" fill="#237939"/><rect x="159.10" y="676.40" width="1.05" height="23.55" fill="#23803c"/><rect x="160.10" y="511.90" width="1.55" height="23.55" fill="#249543"/><rect x="160.10" y="535.40" width="1.55" height="23.55" fill="#239242"/><rect x="160.10" y="558.90" width="1.55" height="23.55" fill="#238f40"/><rect x="160.10" y="582.40" width="1.55" height="23.55" fill="#238c3f"/><rect x="160.10" y="605.90" width="1.55" height="23.55" fill="#279c46"/><rect x="160.10" y="629.40" width="1.55" height="23.55" fill="#269b46"/><rect x="160.10" y="652.90" width="1.55" height="23.55" fill="#279c46"/><rect x="160.10" y="676.40" width="1.55" height="23.55" fill="#28a048"/><rect x="161.60" y="511.90" width="1.05" height="23.55" fill="#238e40"/><rect x="161.60" y="535.40" width="1.05" height="23.55" fill="#23853d"/><rect x="161.60" y="558.90" width="1.05" height="23.55" fill="#23883e"/><rect x="161.60" y="582.40" width="1.05" height="23.55" fill="#23833c"/><rect x="161.60" y="605.90" width="1.05" height="23.55" fill="#279c46"/><rect x="161.60" y="629.40" width="1.05" height="23.55" fill="#239141"/><rect x="161.60" y="652.90" width="1.05" height="23.55" fill="#238f40"/><rect x="161.60" y="676.40" width="1.05" height="23.55" fill="#259844"/><rect x="162.60" y="511.90" width="0.85" height="23.55" fill="#238b3f"/><rect x="162.60" y="535.40" width="0.85" height="23.55" fill="#23813c"/><rect x="162.60" y="558.90" width="0.85" height="23.55" fill="#23883e"/><rect x="162.60" y="582.40" width="0.85" height="23.55" fill="#23843d"/><rect x="162.60" y="605.90" width="0.85" height="23.55" fill="#239141"/><rect x="162.60" y="629.40" width="0.85" height="23.55" fill="#259844"/><rect x="162.60" y="652.90" width="0.85" height="23.55" fill="#238b3f"/><rect x="162.60" y="676.40" width="0.85" height="23.55" fill="#238c40"/><rect x="163.40" y="511.90" width="1.55" height="23.55" fill="#289f48"/><rect x="163.40" y="535.40" width="1.55" height="23.55" fill="#259744"/><rect x="163.40" y="558.90" width="1.55" height="23.55" fill="#259744"/><rect x="163.40" y="582.40" width="1.55" height="23.55" fill="#249442"/><rect x="163.40" y="605.90" width="1.55" height="23.55" fill="#2ca74d"/><rect x="163.40" y="629.40" width="1.55" height="23.55" fill="#2daa4f"/><rect x="163.40" y="652.90" width="1.55" height="23.55" fill="#2aa44b"/><rect x="163.40" y="676.40" width="1.55" height="23.55" fill="#2ba74d"/><rect x="164.90" y="511.90" width="1.55" height="23.55" fill="#239141"/><rect x="164.90" y="535.40" width="1.55" height="23.55" fill="#23803c"/><rect x="164.90" y="558.90" width="1.55" height="23.55" fill="#23853d"/><rect x="164.90" y="582.40" width="1.55" height="23.55" fill="#23843d"/><rect x="164.90" y="605.90" width="1.55" height="23.55" fill="#238b3f"/><rect x="164.90" y="629.40" width="1.55" height="23.55" fill="#249543"/><rect x="164.90" y="652.90" width="1.55" height="23.55" fill="#249443"/><rect x="164.90" y="676.40" width="1.55" height="23.55" fill="#238f40"/><rect x="166.40" y="511.90" width="1.05" height="23.55" fill="#23893e"/><rect x="166.40" y="535.40" width="1.05" height="23.55" fill="#23833d"/><rect x="166.40" y="558.90" width="1.05" height="23.55" fill="#237f3b"/><rect x="166.40" y="582.40" width="1.05" height="23.55" fill="#237f3b"/><rect x="166.40" y="605.90" width="1.05" height="23.55" fill="#239241"/><rect x="166.40" y="629.40" width="1.05" height="23.55" fill="#239041"/><rect x="166.40" y="652.90" width="1.05" height="23.55" fill="#238d40"/><rect x="166.40" y="676.40" width="1.05" height="23.55" fill="#23883e"/><rect x="167.40" y="511.90" width="1.05" height="23.55" fill="#23853d"/><rect x="167.40" y="535.40" width="1.05" height="23.55" fill="#237a3a"/><rect x="167.40" y="558.90" width="1.05" height="23.55" fill="#23813c"/><rect x="167.40" y="582.40" width="1.05" height="23.55" fill="#237b3a"/><rect x="167.40" y="605.90" width="1.05" height="23.55" fill="#238e40"/><rect x="167.40" y="629.40" width="1.05" height="23.55" fill="#238b3f"/><rect x="167.40" y="652.90" width="1.05" height="23.55" fill="#23883e"/><rect x="167.40" y="676.40" width="1.05" height="23.55" fill="#23843d"/><rect x="168.40" y="511.90" width="0.85" height="23.55" fill="#238e40"/><rect x="168.40" y="535.40" width="0.85" height="23.55" fill="#238a3f"/><rect x="168.40" y="558.90" width="0.85" height="23.55" fill="#238d40"/><rect x="168.40" y="582.40" width="0.85" height="23.55" fill="#238d40"/><rect x="168.40" y="605.90" width="0.85" height="23.55" fill="#259844"/><rect x="168.40" y="629.40" width="0.85" height="23.55" fill="#249342"/><rect x="168.40" y="652.90" width="0.85" height="23.55" fill="#249543"/><rect x="168.40" y="676.40" width="0.85" height="23.55" fill="#259744"/><rect x="169.20" y="511.90" width="1.55" height="23.55" fill="#23843d"/><rect x="169.20" y="535.40" width="1.55" height="23.55" fill="#237f3b"/><rect x="169.20" y="558.90" width="1.55" height="23.55" fill="#23813c"/><rect x="169.20" y="582.40" width="1.55" height="23.55" fill="#237b3a"/><rect x="169.20" y="605.90" width="1.55" height="23.55" fill="#239141"/><rect x="169.20" y="629.40" width="1.55" height="23.55" fill="#238d40"/><rect x="169.20" y="652.90" width="1.55" height="23.55" fill="#238a3f"/><rect x="169.20" y="676.40" width="1.55" height="23.55" fill="#23863e"/><rect x="170.70" y="511.90" width="0.85" height="23.55" fill="#238f40"/><rect x="170.70" y="535.40" width="0.85" height="23.55" fill="#23863e"/><rect x="170.70" y="558.90" width="0.85" height="23.55" fill="#23893f"/><rect x="170.70" y="582.40" width="0.85" height="23.55" fill="#238b3f"/><rect x="170.70" y="605.90" width="0.85" height="23.55" fill="#239241"/><rect x="170.70" y="629.40" width="0.85" height="23.55" fill="#259744"/><rect x="170.70" y="652.90" width="0.85" height="23.55" fill="#249442"/><rect x="170.70" y="676.40" width="0.85" height="23.55" fill="#239141"/><rect x="171.50" y="511.90" width="1.55" height="23.55" fill="#259844"/><rect x="171.50" y="535.40" width="1.55" height="23.55" fill="#239241"/><rect x="171.50" y="558.90" width="1.55" height="23.55" fill="#239241"/><rect x="171.50" y="582.40" width="1.55" height="23.55" fill="#239141"/><rect x="171.50" y="605.90" width="1.55" height="23.55" fill="#259844"/><rect x="171.50" y="629.40" width="1.55" height="23.55" fill="#28a048"/><rect x="171.50" y="652.90" width="1.55" height="23.55" fill="#289f48"/><rect x="171.50" y="676.40" width="1.55" height="23.55" fill="#279c46"/><rect x="173.00" y="511.90" width="0.85" height="23.55" fill="#23863e"/><rect x="173.00" y="535.40" width="0.85" height="23.55" fill="#23873e"/><rect x="173.00" y="558.90" width="0.85" height="23.55" fill="#237c3a"/><rect x="173.00" y="582.40" width="0.85" height="23.55" fill="#23823c"/><rect x="173.00" y="605.90" width="0.85" height="23.55" fill="#239141"/><rect x="173.00" y="629.40" width="0.85" height="23.55" fill="#238e40"/><rect x="173.00" y="652.90" width="0.85" height="23.55" fill="#238a3f"/><rect x="173.00" y="676.40" width="0.85" height="23.55" fill="#239141"/><rect x="173.80" y="511.90" width="1.55" height="23.55" fill="#237e3b"/><rect x="173.80" y="535.40" width="1.55" height="23.55" fill="#237b3a"/><rect x="173.80" y="558.90" width="1.55" height="23.55" fill="#237739"/><rect x="173.80" y="582.40" width="1.55" height="23.55" fill="#237739"/><rect x="173.80" y="605.90" width="1.55" height="23.55" fill="#23853d"/><rect x="173.80" y="629.40" width="1.55" height="23.55" fill="#23863e"/><rect x="173.80" y="652.90" width="1.55" height="23.55" fill="#23813c"/><rect x="173.80" y="676.40" width="1.55" height="23.55" fill="#23823c"/><rect x="175.30" y="511.90" width="1.05" height="23.55" fill="#238f40"/><rect x="175.30" y="535.40" width="1.05" height="23.55" fill="#23853d"/><rect x="175.30" y="558.90" width="1.05" height="23.55" fill="#23873e"/><rect x="175.30" y="582.40" width="1.05" height="23.55" fill="#238d40"/><rect x="175.30" y="605.90" width="1.05" height="23.55" fill="#259644"/><rect x="175.30" y="629.40" width="1.05" height="23.55" fill="#249543"/><rect x="175.30" y="652.90" width="1.05" height="23.55" fill="#259844"/><rect x="175.30" y="676.40" width="1.05" height="23.55" fill="#249342"/><rect x="176.30" y="511.90" width="1.25" height="23.55" fill="#23893f"/><rect x="176.30" y="535.40" width="1.25" height="23.55" fill="#23813c"/><rect x="176.30" y="558.90" width="1.25" height="23.55" fill="#23833c"/><rect x="176.30" y="582.40" width="1.25" height="23.55" fill="#23863d"/><rect x="176.30" y="605.90" width="1.25" height="23.55" fill="#238b3f"/><rect x="176.30" y="629.40" width="1.25" height="23.55" fill="#238e40"/><rect x="176.30" y="652.90" width="1.25" height="23.55" fill="#238e40"/><rect x="176.30" y="676.40" width="1.25" height="23.55" fill="#238b3f"/><rect x="177.50" y="511.90" width="1.55" height="23.55" fill="#238d40"/><rect x="177.50" y="535.40" width="1.55" height="23.55" fill="#23803c"/><rect x="177.50" y="558.90" width="1.55" height="23.55" fill="#23853d"/><rect x="177.50" y="582.40" width="1.55" height="23.55" fill="#23873e"/><rect x="177.50" y="605.90" width="1.55" height="23.55" fill="#249443"/><rect x="177.50" y="629.40" width="1.55" height="23.55" fill="#238b3f"/><rect x="177.50" y="652.90" width="1.55" height="23.55" fill="#249443"/><rect x="177.50" y="676.40" width="1.55" height="23.55" fill="#249342"/><rect x="179.00" y="511.90" width="1.25" height="23.55" fill="#249342"/><rect x="179.00" y="535.40" width="1.25" height="23.55" fill="#23833d"/><rect x="179.00" y="558.90" width="1.25" height="23.55" fill="#238a3f"/><rect x="179.00" y="582.40" width="1.25" height="23.55" fill="#23843d"/><rect x="179.00" y="605.90" width="1.25" height="23.55" fill="#259844"/><rect x="179.00" y="629.40" width="1.25" height="23.55" fill="#249543"/><rect x="179.00" y="652.90" width="1.25" height="23.55" fill="#249543"/><rect x="179.00" y="676.40" width="1.25" height="23.55" fill="#249342"/><rect x="180.20" y="511.90" width="1.05" height="23.55" fill="#237f3b"/><rect x="180.20" y="535.40" width="1.05" height="23.55" fill="#237d3b"/><rect x="180.20" y="558.90" width="1.05" height="23.55" fill="#237d3b"/><rect x="180.20" y="582.40" width="1.05" height="23.55" fill="#237739"/><rect x="180.20" y="605.90" width="1.05" height="23.55" fill="#239141"/><rect x="180.20" y="629.40" width="1.05" height="23.55" fill="#23883e"/><rect x="180.20" y="652.90" width="1.05" height="23.55" fill="#23853d"/><rect x="180.20" y="676.40" width="1.05" height="23.55" fill="#23813c"/><rect x="181.20" y="511.90" width="1.25" height="23.55" fill="#259643"/><rect x="181.20" y="535.40" width="1.25" height="23.55" fill="#238b3f"/><rect x="181.20" y="558.90" width="1.25" height="23.55" fill="#238b3f"/><rect x="181.20" y="582.40" width="1.25" height="23.55" fill="#23893e"/><rect x="181.20" y="605.90" width="1.25" height="23.55" fill="#239242"/><rect x="181.20" y="629.40" width="1.25" height="23.55" fill="#249543"/><rect x="181.20" y="652.90" width="1.25" height="23.55" fill="#259643"/><rect x="181.20" y="676.40" width="1.25" height="23.55" fill="#239141"/><rect x="182.40" y="511.90" width="1.55" height="23.55" fill="#216935"/><rect x="182.40" y="535.40" width="1.55" height="23.55" fill="#206333"/><rect x="182.40" y="558.90" width="1.55" height="23.55" fill="#216734"/><rect x="182.40" y="582.40" width="1.55" height="23.55" fill="#216333"/><rect x="182.40" y="605.90" width="1.55" height="23.55" fill="#216935"/><rect x="182.40" y="629.40" width="1.55" height="23.55" fill="#227137"/><rect x="182.40" y="652.90" width="1.55" height="23.55" fill="#226c36"/><rect x="182.40" y="676.40" width="1.55" height="23.55" fill="#226e36"/><rect x="183.90" y="511.90" width="1.25" height="23.55" fill="#23893f"/><rect x="183.90" y="535.40" width="1.25" height="23.55" fill="#23843d"/><rect x="183.90" y="558.90" width="1.25" height="23.55" fill="#23883e"/><rect x="183.90" y="582.40" width="1.25" height="23.55" fill="#23823c"/><rect x="183.90" y="605.90" width="1.25" height="23.55" fill="#238c40"/><rect x="183.90" y="629.40" width="1.25" height="23.55" fill="#249442"/><rect x="183.90" y="652.90" width="1.25" height="23.55" fill="#249342"/><rect x="183.90" y="676.40" width="1.25" height="23.55" fill="#238e40"/><rect x="185.10" y="511.90" width="1.05" height="23.55" fill="#239141"/><rect x="185.10" y="535.40" width="1.05" height="23.55" fill="#238a3f"/><rect x="185.10" y="558.90" width="1.05" height="23.55" fill="#239141"/><rect x="185.10" y="582.40" width="1.05" height="23.55" fill="#23893e"/><rect x="185.10" y="605.90" width="1.05" height="23.55" fill="#289f48"/><rect x="185.10" y="629.40" width="1.05" height="23.55" fill="#259744"/><rect x="185.10" y="652.90" width="1.05" height="23.55" fill="#269a45"/><rect x="185.10" y="676.40" width="1.05" height="23.55" fill="#259744"/><rect x="186.10" y="511.90" width="1.05" height="23.55" fill="#23803c"/><rect x="186.10" y="535.40" width="1.05" height="23.55" fill="#237e3b"/><rect x="186.10" y="558.90" width="1.05" height="23.55" fill="#237d3b"/><rect x="186.10" y="582.40" width="1.05" height="23.55" fill="#23833c"/><rect x="186.10" y="605.90" width="1.05" height="23.55" fill="#23813c"/><rect x="186.10" y="629.40" width="1.05" height="23.55" fill="#238a3f"/><rect x="186.10" y="652.90" width="1.05" height="23.55" fill="#23873e"/><rect x="186.10" y="676.40" width="1.05" height="23.55" fill="#23843d"/><rect x="187.10" y="511.90" width="1.05" height="23.55" fill="#238c40"/><rect x="187.10" y="535.40" width="1.05" height="23.55" fill="#23863e"/><rect x="187.10" y="558.90" width="1.05" height="23.55" fill="#23873e"/><rect x="187.10" y="582.40" width="1.05" height="23.55" fill="#238e40"/><rect x="187.10" y="605.90" width="1.05" height="23.55" fill="#249543"/><rect x="187.10" y="629.40" width="1.05" height="23.55" fill="#259643"/><rect x="187.10" y="652.90" width="1.05" height="23.55" fill="#249543"/><rect x="187.10" y="676.40" width="1.05" height="23.55" fill="#239241"/><rect x="188.10" y="511.90" width="1.05" height="23.55" fill="#226f37"/><rect x="188.10" y="535.40" width="1.05" height="23.55" fill="#226e36"/><rect x="188.10" y="558.90" width="1.05" height="23.55" fill="#227338"/><rect x="188.10" y="582.40" width="1.05" height="23.55" fill="#226d36"/><rect x="188.10" y="605.90" width="1.05" height="23.55" fill="#23813c"/><rect x="188.10" y="629.40" width="1.05" height="23.55" fill="#237e3b"/><rect x="188.10" y="652.90" width="1.05" height="23.55" fill="#237739"/><rect x="188.10" y="676.40" width="1.05" height="23.55" fill="#237a3a"/><rect x="189.10" y="511.90" width="1.05" height="23.55" fill="#23853d"/><rect x="189.10" y="535.40" width="1.05" height="23.55" fill="#237e3b"/><rect x="189.10" y="558.90" width="1.05" height="23.55" fill="#237f3b"/><rect x="189.10" y="582.40" width="1.05" height="23.55" fill="#237a3a"/><rect x="189.10" y="605.90" width="1.05" height="23.55" fill="#23893e"/><rect x="189.10" y="629.40" width="1.05" height="23.55" fill="#23873e"/><rect x="189.10" y="652.90" width="1.05" height="23.55" fill="#238d40"/><rect x="189.10" y="676.40" width="1.05" height="23.55" fill="#238b3f"/><rect x="190.10" y="511.90" width="0.85" height="23.55" fill="#23813c"/><rect x="190.10" y="535.40" width="0.85" height="23.55" fill="#237c3a"/><rect x="190.10" y="558.90" width="0.85" height="23.55" fill="#237e3b"/><rect x="190.10" y="582.40" width="0.85" height="23.55" fill="#237a3a"/><rect x="190.10" y="605.90" width="0.85" height="23.55" fill="#23853d"/><rect x="190.10" y="629.40" width="0.85" height="23.55" fill="#23863e"/><rect x="190.10" y="652.90" width="0.85" height="23.55" fill="#238b3f"/><rect x="190.10" y="676.40" width="0.85" height="23.55" fill="#23843d"/><rect x="190.90" y="511.90" width="1.55" height="23.55" fill="#23853d"/><rect x="190.90" y="535.40" width="1.55" height="23.55" fill="#237b3a"/><rect x="190.90" y="558.90" width="1.55" height="23.55" fill="#237839"/><rect x="190.90" y="582.40" width="1.55" height="23.55" fill="#237739"/><rect x="190.90" y="605.90" width="1.55" height="23.55" fill="#23873e"/><rect x="190.90" y="629.40" width="1.55" height="23.55" fill="#238a3f"/><rect x="190.90" y="652.90" width="1.55" height="23.55" fill="#23863d"/><rect x="190.90" y="676.40" width="1.55" height="23.55" fill="#23813c"/><rect x="192.40" y="511.90" width="1.05" height="23.55" fill="#237b3a"/><rect x="192.40" y="535.40" width="1.05" height="23.55" fill="#237538"/><rect x="192.40" y="558.90" width="1.05" height="23.55" fill="#227137"/><rect x="192.40" y="582.40" width="1.05" height="23.55" fill="#216a35"/><rect x="192.40" y="605.90" width="1.05" height="23.55" fill="#23893e"/><rect x="192.40" y="629.40" width="1.05" height="23.55" fill="#23813c"/><rect x="192.40" y="652.90" width="1.05" height="23.55" fill="#237d3b"/><rect x="192.40" y="676.40" width="1.05" height="23.55" fill="#237e3b"/><rect x="193.40" y="511.90" width="1.55" height="23.55" fill="#289f47"/><rect x="193.40" y="535.40" width="1.55" height="23.55" fill="#279d47"/><rect x="193.40" y="558.90" width="1.55" height="23.55" fill="#269a45"/><rect x="193.40" y="582.40" width="1.55" height="23.55" fill="#279d47"/><rect x="193.40" y="605.90" width="1.55" height="23.55" fill="#2aa44b"/><rect x="193.40" y="629.40" width="1.55" height="23.55" fill="#2ca84d"/><rect x="193.40" y="652.90" width="1.55" height="23.55" fill="#2ba54b"/><rect x="193.40" y="676.40" width="1.55" height="23.55" fill="#2aa44b"/><rect x="194.90" y="511.90" width="1.25" height="23.55" fill="#239141"/><rect x="194.90" y="535.40" width="1.25" height="23.55" fill="#23843d"/><rect x="194.90" y="558.90" width="1.25" height="23.55" fill="#23873e"/><rect x="194.90" y="582.40" width="1.25" height="23.55" fill="#238a3f"/><rect x="194.90" y="605.90" width="1.25" height="23.55" fill="#249342"/><rect x="194.90" y="629.40" width="1.25" height="23.55" fill="#249442"/><rect x="194.90" y="652.90" width="1.25" height="23.55" fill="#239242"/><rect x="194.90" y="676.40" width="1.25" height="23.55" fill="#269b46"/><rect x="196.10" y="511.90" width="1.05" height="23.55" fill="#2ba74c"/><rect x="196.10" y="535.40" width="1.05" height="23.55" fill="#269b46"/><rect x="196.10" y="558.90" width="1.05" height="23.55" fill="#269a45"/><rect x="196.10" y="582.40" width="1.05" height="23.55" fill="#269b45"/><rect x="196.10" y="605.90" width="1.05" height="23.55" fill="#29a249"/><rect x="196.10" y="629.40" width="1.05" height="23.55" fill="#29a249"/><rect x="196.10" y="652.90" width="1.05" height="23.55" fill="#29a24a"/><rect x="196.10" y="676.40" width="1.05" height="23.55" fill="#2ba54c"/><rect x="197.10" y="511.90" width="1.25" height="23.55" fill="#226e36"/><rect x="197.10" y="535.40" width="1.25" height="23.55" fill="#216534"/><rect x="197.10" y="558.90" width="1.25" height="23.55" fill="#226d36"/><rect x="197.10" y="582.40" width="1.25" height="23.55" fill="#216834"/><rect x="197.10" y="605.90" width="1.25" height="23.55" fill="#237839"/><rect x="197.10" y="629.40" width="1.25" height="23.55" fill="#237638"/><rect x="197.10" y="652.90" width="1.25" height="23.55" fill="#237839"/><rect x="197.10" y="676.40" width="1.25" height="23.55" fill="#237a3a"/><rect x="198.30" y="511.90" width="1.05" height="23.55" fill="#237a3a"/><rect x="198.30" y="535.40" width="1.05" height="23.55" fill="#227237"/><rect x="198.30" y="558.90" width="1.05" height="23.55" fill="#237839"/><rect x="198.30" y="582.40" width="1.05" height="23.55" fill="#227137"/><rect x="198.30" y="605.90" width="1.05" height="23.55" fill="#23823c"/><rect x="198.30" y="629.40" width="1.05" height="23.55" fill="#23803c"/><rect x="198.30" y="652.90" width="1.05" height="23.55" fill="#23803c"/><rect x="198.30" y="676.40" width="1.05" height="23.55" fill="#237939"/><rect x="199.30" y="511.90" width="1.55" height="23.55" fill="#23843d"/><rect x="199.30" y="535.40" width="1.55" height="23.55" fill="#237d3a"/><rect x="199.30" y="558.90" width="1.55" height="23.55" fill="#237f3b"/><rect x="199.30" y="582.40" width="1.55" height="23.55" fill="#237b3a"/><rect x="199.30" y="605.90" width="1.55" height="23.55" fill="#238b3f"/><rect x="199.30" y="629.40" width="1.55" height="23.55" fill="#238d40"/><rect x="199.30" y="652.90" width="1.55" height="23.55" fill="#238b3f"/><rect x="199.30" y="676.40" width="1.55" height="23.55" fill="#238a3f"/><rect x="200.80" y="511.90" width="0.85" height="23.55" fill="#238f40"/><rect x="200.80" y="535.40" width="0.85" height="23.55" fill="#23873e"/><rect x="200.80" y="558.90" width="0.85" height="23.55" fill="#23883e"/><rect x="200.80" y="582.40" width="0.85" height="23.55" fill="#23873e"/><rect x="200.80" y="605.90" width="0.85" height="23.55" fill="#249342"/><rect x="200.80" y="629.40" width="0.85" height="23.55" fill="#239241"/><rect x="200.80" y="652.90" width="0.85" height="23.55" fill="#249442"/><rect x="200.80" y="676.40" width="0.85" height="23.55" fill="#249342"/><rect x="201.60" y="511.90" width="0.85" height="23.55" fill="#237f3b"/><rect x="201.60" y="535.40" width="0.85" height="23.55" fill="#23803b"/><rect x="201.60" y="558.90" width="0.85" height="23.55" fill="#237e3b"/><rect x="201.60" y="582.40" width="0.85" height="23.55" fill="#237e3b"/><rect x="201.60" y="605.90" width="0.85" height="23.55" fill="#238a3f"/><rect x="201.60" y="629.40" width="0.85" height="23.55" fill="#23883e"/><rect x="201.60" y="652.90" width="0.85" height="23.55" fill="#23873e"/><rect x="201.60" y="676.40" width="0.85" height="23.55" fill="#23853d"/><rect x="202.40" y="511.90" width="1.55" height="23.55" fill="#237b3a"/><rect x="202.40" y="535.40" width="1.55" height="23.55" fill="#237839"/><rect x="202.40" y="558.90" width="1.55" height="23.55" fill="#237538"/><rect x="202.40" y="582.40" width="1.55" height="23.55" fill="#237538"/><rect x="202.40" y="605.90" width="1.55" height="23.55" fill="#23853d"/><rect x="202.40" y="629.40" width="1.55" height="23.55" fill="#238a3f"/><rect x="202.40" y="652.90" width="1.55" height="23.55" fill="#23813c"/><rect x="202.40" y="676.40" width="1.55" height="23.55" fill="#23833c"/><rect x="203.90" y="511.90" width="1.25" height="23.55" fill="#2ca94e"/><rect x="203.90" y="535.40" width="1.25" height="23.55" fill="#29a249"/><rect x="203.90" y="558.90" width="1.25" height="23.55" fill="#2eac50"/><rect x="203.90" y="582.40" width="1.25" height="23.55" fill="#2ca84d"/><rect x="203.90" y="605.90" width="1.25" height="23.55" fill="#2eac50"/><rect x="203.90" y="629.40" width="1.25" height="23.55" fill="#2eac50"/><rect x="203.90" y="652.90" width="1.25" height="23.55" fill="#2daa4f"/><rect x="203.90" y="676.40" width="1.25" height="23.55" fill="#2eac50"/><rect x="205.10" y="511.90" width="1.05" height="23.55" fill="#226c36"/><rect x="205.10" y="535.40" width="1.05" height="23.55" fill="#206233"/><rect x="205.10" y="558.90" width="1.05" height="23.55" fill="#216834"/><rect x="205.10" y="582.40" width="1.05" height="23.55" fill="#216734"/><rect x="205.10" y="605.90" width="1.05" height="23.55" fill="#237839"/><rect x="205.10" y="629.40" width="1.05" height="23.55" fill="#227037"/><rect x="205.10" y="652.90" width="1.05" height="23.55" fill="#227037"/><rect x="205.10" y="676.40" width="1.05" height="23.55" fill="#226c36"/><rect x="206.10" y="511.90" width="1.05" height="23.55" fill="#23863d"/><rect x="206.10" y="535.40" width="1.05" height="23.55" fill="#238d40"/><rect x="206.10" y="558.90" width="1.05" height="23.55" fill="#23863d"/><rect x="206.10" y="582.40" width="1.05" height="23.55" fill="#23833d"/><rect x="206.10" y="605.90" width="1.05" height="23.55" fill="#238f40"/><rect x="206.10" y="629.40" width="1.05" height="23.55" fill="#249543"/><rect x="206.10" y="652.90" width="1.05" height="23.55" fill="#239141"/><rect x="206.10" y="676.40" width="1.05" height="23.55" fill="#238e40"/><rect x="207.10" y="511.90" width="1.05" height="23.55" fill="#1f582f"/><rect x="207.10" y="535.40" width="1.05" height="23.55" fill="#1f572f"/><rect x="207.10" y="558.90" width="1.05" height="23.55" fill="#1f552e"/><rect x="207.10" y="582.40" width="1.05" height="23.55" fill="#1f562e"/><rect x="207.10" y="605.90" width="1.05" height="23.55" fill="#206032"/><rect x="207.10" y="629.40" width="1.05" height="23.55" fill="#206233"/><rect x="207.10" y="652.90" width="1.05" height="23.55" fill="#216434"/><rect x="207.10" y="676.40" width="1.05" height="23.55" fill="#206032"/><rect x="208.10" y="511.90" width="1.25" height="23.55" fill="#237739"/><rect x="208.10" y="535.40" width="1.25" height="23.55" fill="#237c3a"/><rect x="208.10" y="558.90" width="1.25" height="23.55" fill="#237a3a"/><rect x="208.10" y="582.40" width="1.25" height="23.55" fill="#226c36"/><rect x="208.10" y="605.90" width="1.25" height="23.55" fill="#237c3a"/><rect x="208.10" y="629.40" width="1.25" height="23.55" fill="#23853d"/><rect x="208.10" y="652.90" width="1.25" height="23.55" fill="#23843d"/><rect x="208.10" y="676.40" width="1.25" height="23.55" fill="#23803c"/><rect x="209.30" y="511.90" width="1.25" height="23.55" fill="#237a3a"/><rect x="209.30" y="535.40" width="1.25" height="23.55" fill="#227237"/><rect x="209.30" y="558.90" width="1.25" height="23.55" fill="#227137"/><rect x="209.30" y="582.40" width="1.25" height="23.55" fill="#227338"/><rect x="209.30" y="605.90" width="1.25" height="23.55" fill="#237b3a"/><rect x="209.30" y="629.40" width="1.25" height="23.55" fill="#237839"/><rect x="209.30" y="652.90" width="1.25" height="23.55" fill="#237639"/><rect x="209.30" y="676.40" width="1.25" height="23.55" fill="#237a39"/><rect x="210.50" y="511.90" width="0.85" height="23.55" fill="#216b35"/><rect x="210.50" y="535.40" width="0.85" height="23.55" fill="#226e36"/><rect x="210.50" y="558.90" width="0.85" height="23.55" fill="#226d36"/><rect x="210.50" y="582.40" width="0.85" height="23.55" fill="#216835"/><rect x="210.50" y="605.90" width="0.85" height="23.55" fill="#237638"/><rect x="210.50" y="629.40" width="0.85" height="23.55" fill="#237438"/><rect x="210.50" y="652.90" width="0.85" height="23.55" fill="#237538"/><rect x="210.50" y="676.40" width="0.85" height="23.55" fill="#237739"/><rect x="211.30" y="511.90" width="0.85" height="23.55" fill="#237638"/><rect x="211.30" y="535.40" width="0.85" height="23.55" fill="#227137"/><rect x="211.30" y="558.90" width="0.85" height="23.55" fill="#227037"/><rect x="211.30" y="582.40" width="0.85" height="23.55" fill="#216a35"/><rect x="211.30" y="605.90" width="0.85" height="23.55" fill="#237d3b"/><rect x="211.30" y="629.40" width="0.85" height="23.55" fill="#237d3b"/><rect x="211.30" y="652.90" width="0.85" height="23.55" fill="#237d3b"/><rect x="211.30" y="676.40" width="0.85" height="23.55" fill="#237a3a"/><rect x="212.10" y="511.90" width="1.55" height="23.55" fill="#227237"/><rect x="212.10" y="535.40" width="1.55" height="23.55" fill="#226f37"/><rect x="212.10" y="558.90" width="1.55" height="23.55" fill="#227037"/><rect x="212.10" y="582.40" width="1.55" height="23.55" fill="#226f37"/><rect x="212.10" y="605.90" width="1.55" height="23.55" fill="#237d3b"/><rect x="212.10" y="629.40" width="1.55" height="23.55" fill="#237538"/><rect x="212.10" y="652.90" width="1.55" height="23.55" fill="#227338"/><rect x="212.10" y="676.40" width="1.55" height="23.55" fill="#237839"/><rect x="213.60" y="511.90" width="1.55" height="23.55" fill="#23803c"/><rect x="213.60" y="535.40" width="1.55" height="23.55" fill="#237a3a"/><rect x="213.60" y="558.90" width="1.55" height="23.55" fill="#237538"/><rect x="213.60" y="582.40" width="1.55" height="23.55" fill="#237739"/><rect x="213.60" y="605.90" width="1.55" height="23.55" fill="#23813c"/><rect x="213.60" y="629.40" width="1.55" height="23.55" fill="#23813c"/><rect x="213.60" y="652.90" width="1.55" height="23.55" fill="#23833d"/><rect x="213.60" y="676.40" width="1.55" height="23.55" fill="#23833c"/><rect x="215.10" y="511.90" width="1.05" height="23.55" fill="#226c36"/><rect x="215.10" y="535.40" width="1.05" height="23.55" fill="#216433"/><rect x="215.10" y="558.90" width="1.05" height="23.55" fill="#226d36"/><rect x="215.10" y="582.40" width="1.05" height="23.55" fill="#216835"/><rect x="215.10" y="605.90" width="1.05" height="23.55" fill="#226f36"/><rect x="215.10" y="629.40" width="1.05" height="23.55" fill="#227237"/><rect x="215.10" y="652.90" width="1.05" height="23.55" fill="#237438"/><rect x="215.10" y="676.40" width="1.05" height="23.55" fill="#237739"/><rect x="216.10" y="511.90" width="1.05" height="23.55" fill="#237d3b"/><rect x="216.10" y="535.40" width="1.05" height="23.55" fill="#237639"/><rect x="216.10" y="558.90" width="1.05" height="23.55" fill="#237f3b"/><rect x="216.10" y="582.40" width="1.05" height="23.55" fill="#237839"/><rect x="216.10" y="605.90" width="1.05" height="23.55" fill="#23813c"/><rect x="216.10" y="629.40" width="1.05" height="23.55" fill="#23813c"/><rect x="216.10" y="652.90" width="1.05" height="23.55" fill="#23853d"/><rect x="216.10" y="676.40" width="1.05" height="23.55" fill="#23843d"/><rect x="217.10" y="511.90" width="1.05" height="23.55" fill="#216534"/><rect x="217.10" y="535.40" width="1.05" height="23.55" fill="#205b30"/><rect x="217.10" y="558.90" width="1.05" height="23.55" fill="#1f582f"/><rect x="217.10" y="582.40" width="1.05" height="23.55" fill="#1f532d"/><rect x="217.10" y="605.90" width="1.05" height="23.55" fill="#216333"/><rect x="217.10" y="629.40" width="1.05" height="23.55" fill="#216434"/><rect x="217.10" y="652.90" width="1.05" height="23.55" fill="#216a35"/><rect x="217.10" y="676.40" width="1.05" height="23.55" fill="#205d31"/><rect x="218.10" y="511.90" width="1.55" height="23.55" fill="#226d36"/><rect x="218.10" y="535.40" width="1.55" height="23.55" fill="#205f32"/><rect x="218.10" y="558.90" width="1.55" height="23.55" fill="#216433"/><rect x="218.10" y="582.40" width="1.55" height="23.55" fill="#205f32"/><rect x="218.10" y="605.90" width="1.55" height="23.55" fill="#216b35"/><rect x="218.10" y="629.40" width="1.55" height="23.55" fill="#226c36"/><rect x="218.10" y="652.90" width="1.55" height="23.55" fill="#216935"/><rect x="218.10" y="676.40" width="1.55" height="23.55" fill="#216a35"/><rect x="219.60" y="511.90" width="1.25" height="23.55" fill="#226d36"/><rect x="219.60" y="535.40" width="1.25" height="23.55" fill="#206233"/><rect x="219.60" y="558.90" width="1.25" height="23.55" fill="#216534"/><rect x="219.60" y="582.40" width="1.25" height="23.55" fill="#216433"/><rect x="219.60" y="605.90" width="1.25" height="23.55" fill="#226f37"/><rect x="219.60" y="629.40" width="1.25" height="23.55" fill="#226d36"/><rect x="219.60" y="652.90" width="1.25" height="23.55" fill="#227137"/><rect x="219.60" y="676.40" width="1.25" height="23.55" fill="#226d36"/><rect x="220.80" y="511.90" width="1.55" height="23.55" fill="#1f5a30"/><rect x="220.80" y="535.40" width="1.55" height="23.55" fill="#1e502c"/><rect x="220.80" y="558.90" width="1.55" height="23.55" fill="#1f542e"/><rect x="220.80" y="582.40" width="1.55" height="23.55" fill="#1f542e"/><rect x="220.80" y="605.90" width="1.55" height="23.55" fill="#205f32"/><rect x="220.80" y="629.40" width="1.55" height="23.55" fill="#205b30"/><rect x="220.80" y="652.90" width="1.55" height="23.55" fill="#205a30"/><rect x="220.80" y="676.40" width="1.55" height="23.55" fill="#206032"/><rect x="222.30" y="511.90" width="1.25" height="23.55" fill="#214729"/><rect x="222.30" y="535.40" width="1.25" height="23.55" fill="#224628"/><rect x="222.30" y="558.90" width="1.25" height="23.55" fill="#274127"/><rect x="222.30" y="582.40" width="1.25" height="23.55" fill="#204929"/><rect x="222.30" y="605.90" width="1.25" height="23.55" fill="#1f542e"/><rect x="222.30" y="629.40" width="1.25" height="23.55" fill="#1f552e"/><rect x="222.30" y="652.90" width="1.25" height="23.55" fill="#1f572f"/><rect x="222.30" y="676.40" width="1.25" height="23.55" fill="#1f552e"/><rect x="223.50" y="511.90" width="0.85" height="23.55" fill="#284026"/><rect x="223.50" y="535.40" width="0.85" height="23.55" fill="#293e26"/><rect x="223.50" y="558.90" width="0.85" height="23.55" fill="#2a3d25"/><rect x="223.50" y="582.40" width="0.85" height="23.55" fill="#293f26"/><rect x="223.50" y="605.90" width="0.85" height="23.55" fill="#214729"/><rect x="223.50" y="629.40" width="0.85" height="23.55" fill="#244528"/><rect x="223.50" y="652.90" width="0.85" height="23.55" fill="#224628"/><rect x="223.50" y="676.40" width="0.85" height="23.55" fill="#234628"/><rect x="224.30" y="511.90" width="0.85" height="23.55" fill="#1f562e"/><rect x="224.30" y="535.40" width="0.85" height="23.55" fill="#1f4a2a"/><rect x="224.30" y="558.90" width="0.85" height="23.55" fill="#1e4c2a"/><rect x="224.30" y="582.40" width="0.85" height="23.55" fill="#1e4f2c"/><rect x="224.30" y="605.90" width="0.85" height="23.55" fill="#1f582f"/><rect x="224.30" y="629.40" width="0.85" height="23.55" fill="#1f5930"/><rect x="224.30" y="652.90" width="0.85" height="23.55" fill="#1f592f"/><rect x="224.30" y="676.40" width="0.85" height="23.55" fill="#1f5930"/><rect x="225.10" y="511.90" width="1.05" height="23.55" fill="#226e36"/><rect x="225.10" y="535.40" width="1.05" height="23.55" fill="#216935"/><rect x="225.10" y="558.90" width="1.05" height="23.55" fill="#216b35"/><rect x="225.10" y="582.40" width="1.05" height="23.55" fill="#216835"/><rect x="225.10" y="605.90" width="1.05" height="23.55" fill="#227237"/><rect x="225.10" y="629.40" width="1.05" height="23.55" fill="#237a3a"/><rect x="225.10" y="652.90" width="1.05" height="23.55" fill="#227237"/><rect x="225.10" y="676.40" width="1.05" height="23.55" fill="#227338"/><rect x="226.10" y="511.90" width="1.25" height="23.55" fill="#1f5930"/><rect x="226.10" y="535.40" width="1.25" height="23.55" fill="#1e4e2b"/><rect x="226.10" y="558.90" width="1.25" height="23.55" fill="#1e4f2b"/><rect x="226.10" y="582.40" width="1.25" height="23.55" fill="#1e4e2b"/><rect x="226.10" y="605.90" width="1.25" height="23.55" fill="#1f5930"/><rect x="226.10" y="629.40" width="1.25" height="23.55" fill="#1f562f"/><rect x="226.10" y="652.90" width="1.25" height="23.55" fill="#205d31"/><rect x="226.10" y="676.40" width="1.25" height="23.55" fill="#205b31"/><rect x="227.30" y="511.90" width="0.85" height="23.55" fill="#259744"/><rect x="227.30" y="535.40" width="0.85" height="23.55" fill="#238e40"/><rect x="227.30" y="558.90" width="0.85" height="23.55" fill="#238c3f"/><rect x="227.30" y="582.40" width="0.85" height="23.55" fill="#238c3f"/><rect x="227.30" y="605.90" width="0.85" height="23.55" fill="#279c46"/><rect x="227.30" y="629.40" width="0.85" height="23.55" fill="#269a45"/><rect x="227.30" y="652.90" width="0.85" height="23.55" fill="#279d46"/><rect x="227.30" y="676.40" width="0.85" height="23.55" fill="#269b45"/><rect x="228.10" y="511.90" width="0.85" height="23.55" fill="#23863e"/><rect x="228.10" y="535.40" width="0.85" height="23.55" fill="#23843d"/><rect x="228.10" y="558.90" width="0.85" height="23.55" fill="#23813c"/><rect x="228.10" y="582.40" width="0.85" height="23.55" fill="#237d3b"/><rect x="228.10" y="605.90" width="0.85" height="23.55" fill="#239041"/><rect x="228.10" y="629.40" width="0.85" height="23.55" fill="#238c40"/><rect x="228.10" y="652.90" width="0.85" height="23.55" fill="#239242"/><rect x="228.10" y="676.40" width="0.85" height="23.55" fill="#238a3f"/><rect x="228.90" y="511.90" width="1.05" height="23.55" fill="#23873e"/><rect x="228.90" y="535.40" width="1.05" height="23.55" fill="#23833d"/><rect x="228.90" y="558.90" width="1.05" height="23.55" fill="#23823c"/><rect x="228.90" y="582.40" width="1.05" height="23.55" fill="#23833d"/><rect x="228.90" y="605.90" width="1.05" height="23.55" fill="#238c3f"/><rect x="228.90" y="629.40" width="1.05" height="23.55" fill="#23863e"/><rect x="228.90" y="652.90" width="1.05" height="23.55" fill="#23873e"/><rect x="228.90" y="676.40" width="1.05" height="23.55" fill="#23883e"/><rect x="229.90" y="511.90" width="1.55" height="23.55" fill="#237538"/><rect x="229.90" y="535.40" width="1.55" height="23.55" fill="#226d36"/><rect x="229.90" y="558.90" width="1.55" height="23.55" fill="#237839"/><rect x="229.90" y="582.40" width="1.55" height="23.55" fill="#216935"/><rect x="229.90" y="605.90" width="1.55" height="23.55" fill="#237b3a"/><rect x="229.90" y="629.40" width="1.55" height="23.55" fill="#23813c"/><rect x="229.90" y="652.90" width="1.55" height="23.55" fill="#237939"/><rect x="229.90" y="676.40" width="1.55" height="23.55" fill="#237739"/><rect x="231.40" y="511.90" width="1.25" height="23.55" fill="#216935"/><rect x="231.40" y="535.40" width="1.25" height="23.55" fill="#216634"/><rect x="231.40" y="558.90" width="1.25" height="23.55" fill="#206233"/><rect x="231.40" y="582.40" width="1.25" height="23.55" fill="#216333"/><rect x="231.40" y="605.90" width="1.25" height="23.55" fill="#226f37"/><rect x="231.40" y="629.40" width="1.25" height="23.55" fill="#216b35"/><rect x="231.40" y="652.90" width="1.25" height="23.55" fill="#227137"/><rect x="231.40" y="676.40" width="1.25" height="23.55" fill="#226e36"/><rect x="232.60" y="511.90" width="1.05" height="23.55" fill="#237939"/><rect x="232.60" y="535.40" width="1.05" height="23.55" fill="#227338"/><rect x="232.60" y="558.90" width="1.05" height="23.55" fill="#237839"/><rect x="232.60" y="582.40" width="1.05" height="23.55" fill="#227237"/><rect x="232.60" y="605.90" width="1.05" height="23.55" fill="#23803c"/><rect x="232.60" y="629.40" width="1.05" height="23.55" fill="#23813c"/><rect x="232.60" y="652.90" width="1.05" height="23.55" fill="#237b3a"/><rect x="232.60" y="676.40" width="1.05" height="23.55" fill="#237b3a"/><rect x="233.60" y="511.90" width="1.25" height="23.55" fill="#237538"/><rect x="233.60" y="535.40" width="1.25" height="23.55" fill="#227037"/><rect x="233.60" y="558.90" width="1.25" height="23.55" fill="#227237"/><rect x="233.60" y="582.40" width="1.25" height="23.55" fill="#216835"/><rect x="233.60" y="605.90" width="1.25" height="23.55" fill="#23813c"/><rect x="233.60" y="629.40" width="1.25" height="23.55" fill="#237e3b"/><rect x="233.60" y="652.90" width="1.25" height="23.55" fill="#237b3a"/><rect x="233.60" y="676.40" width="1.25" height="23.55" fill="#237d3b"/><rect x="234.80" y="511.90" width="1.05" height="23.55" fill="#23803c"/><rect x="234.80" y="535.40" width="1.05" height="23.55" fill="#237a3a"/><rect x="234.80" y="558.90" width="1.05" height="23.55" fill="#23803c"/><rect x="234.80" y="582.40" width="1.05" height="23.55" fill="#237b3a"/><rect x="234.80" y="605.90" width="1.05" height="23.55" fill="#23843d"/><rect x="234.80" y="629.40" width="1.05" height="23.55" fill="#23833d"/><rect x="234.80" y="652.90" width="1.05" height="23.55" fill="#23803c"/><rect x="234.80" y="676.40" width="1.05" height="23.55" fill="#23883e"/><rect x="235.80" y="511.90" width="0.85" height="23.55" fill="#237538"/><rect x="235.80" y="535.40" width="0.85" height="23.55" fill="#216634"/><rect x="235.80" y="558.90" width="0.85" height="23.55" fill="#216b35"/><rect x="235.80" y="582.40" width="0.85" height="23.55" fill="#216834"/><rect x="235.80" y="605.90" width="0.85" height="23.55" fill="#237c3a"/><rect x="235.80" y="629.40" width="0.85" height="23.55" fill="#227338"/><rect x="235.80" y="652.90" width="0.85" height="23.55" fill="#237438"/><rect x="235.80" y="676.40" width="0.85" height="23.55" fill="#227137"/><rect x="236.60" y="511.90" width="1.25" height="23.55" fill="#237538"/><rect x="236.60" y="535.40" width="1.25" height="23.55" fill="#227237"/><rect x="236.60" y="558.90" width="1.25" height="23.55" fill="#227237"/><rect x="236.60" y="582.40" width="1.25" height="23.55" fill="#227237"/><rect x="236.60" y="605.90" width="1.25" height="23.55" fill="#237d3b"/><rect x="236.60" y="629.40" width="1.25" height="23.55" fill="#23823c"/><rect x="236.60" y="652.90" width="1.25" height="23.55" fill="#237f3b"/><rect x="236.60" y="676.40" width="1.25" height="23.55" fill="#237f3b"/><rect x="237.80" y="511.90" width="1.05" height="23.55" fill="#227037"/><rect x="237.80" y="535.40" width="1.05" height="23.55" fill="#216a35"/><rect x="237.80" y="558.90" width="1.05" height="23.55" fill="#216834"/><rect x="237.80" y="582.40" width="1.05" height="23.55" fill="#216834"/><rect x="237.80" y="605.90" width="1.05" height="23.55" fill="#237d3b"/><rect x="237.80" y="629.40" width="1.05" height="23.55" fill="#226f36"/><rect x="237.80" y="652.90" width="1.05" height="23.55" fill="#227338"/><rect x="237.80" y="676.40" width="1.05" height="23.55" fill="#237939"/><rect x="238.80" y="511.90" width="1.05" height="23.55" fill="#237a3a"/><rect x="238.80" y="535.40" width="1.05" height="23.55" fill="#227237"/><rect x="238.80" y="558.90" width="1.05" height="23.55" fill="#227438"/><rect x="238.80" y="582.40" width="1.05" height="23.55" fill="#227438"/><rect x="238.80" y="605.90" width="1.05" height="23.55" fill="#23803c"/><rect x="238.80" y="629.40" width="1.05" height="23.55" fill="#23863d"/><rect x="238.80" y="652.90" width="1.05" height="23.55" fill="#237c3a"/><rect x="238.80" y="676.40" width="1.05" height="23.55" fill="#23803c"/><rect x="239.80" y="511.90" width="1.55" height="23.55" fill="#23823c"/><rect x="239.80" y="535.40" width="1.55" height="23.55" fill="#237939"/><rect x="239.80" y="558.90" width="1.55" height="23.55" fill="#237d3b"/><rect x="239.80" y="582.40" width="1.55" height="23.55" fill="#237a3a"/><rect x="239.80" y="605.90" width="1.55" height="23.55" fill="#23863e"/><rect x="239.80" y="629.40" width="1.55" height="23.55" fill="#238e40"/><rect x="239.80" y="652.90" width="1.55" height="23.55" fill="#23893e"/><rect x="239.80" y="676.40" width="1.55" height="23.55" fill="#23823c"/><rect x="241.30" y="511.90" width="0.85" height="23.55" fill="#216534"/><rect x="241.30" y="535.40" width="0.85" height="23.55" fill="#205c31"/><rect x="241.30" y="558.90" width="0.85" height="23.55" fill="#206233"/><rect x="241.30" y="582.40" width="0.85" height="23.55" fill="#1f5a30"/><rect x="241.30" y="605.90" width="0.85" height="23.55" fill="#226c36"/><rect x="241.30" y="629.40" width="0.85" height="23.55" fill="#216433"/><rect x="241.30" y="652.90" width="0.85" height="23.55" fill="#216a35"/><rect x="241.30" y="676.40" width="0.85" height="23.55" fill="#216734"/><rect x="242.10" y="511.90" width="1.25" height="23.55" fill="#237f3b"/><rect x="242.10" y="535.40" width="1.25" height="23.55" fill="#237839"/><rect x="242.10" y="558.90" width="1.25" height="23.55" fill="#237d3b"/><rect x="242.10" y="582.40" width="1.25" height="23.55" fill="#227337"/><rect x="242.10" y="605.90" width="1.25" height="23.55" fill="#23853d"/><rect x="242.10" y="629.40" width="1.25" height="23.55" fill="#23883e"/><rect x="242.10" y="652.90" width="1.25" height="23.55" fill="#23833c"/><rect x="242.10" y="676.40" width="1.25" height="23.55" fill="#237e3b"/><rect x="243.30" y="511.90" width="0.85" height="23.55" fill="#23813c"/><rect x="243.30" y="535.40" width="0.85" height="23.55" fill="#237f3b"/><rect x="243.30" y="558.90" width="0.85" height="23.55" fill="#23843d"/><rect x="243.30" y="582.40" width="0.85" height="23.55" fill="#237839"/><rect x="243.30" y="605.90" width="0.85" height="23.55" fill="#23843d"/><rect x="243.30" y="629.40" width="0.85" height="23.55" fill="#23883e"/><rect x="243.30" y="652.90" width="0.85" height="23.55" fill="#238b3f"/><rect x="243.30" y="676.40" width="0.85" height="23.55" fill="#239041"/><rect x="244.10" y="511.90" width="1.05" height="23.55" fill="#238e40"/><rect x="244.10" y="535.40" width="1.05" height="23.55" fill="#23863d"/><rect x="244.10" y="558.90" width="1.05" height="23.55" fill="#23853d"/><rect x="244.10" y="582.40" width="1.05" height="23.55" fill="#238c40"/><rect x="244.10" y="605.90" width="1.05" height="23.55" fill="#249442"/><rect x="244.10" y="629.40" width="1.05" height="23.55" fill="#239242"/><rect x="244.10" y="652.90" width="1.05" height="23.55" fill="#249543"/><rect x="244.10" y="676.40" width="1.05" height="23.55" fill="#239242"/><rect x="245.10" y="511.90" width="1.05" height="23.55" fill="#237c3a"/><rect x="245.10" y="535.40" width="1.05" height="23.55" fill="#226e36"/><rect x="245.10" y="558.90" width="1.05" height="23.55" fill="#237538"/><rect x="245.10" y="582.40" width="1.05" height="23.55" fill="#237739"/><rect x="245.10" y="605.90" width="1.05" height="23.55" fill="#237939"/><rect x="245.10" y="629.40" width="1.05" height="23.55" fill="#237c3a"/><rect x="245.10" y="652.90" width="1.05" height="23.55" fill="#237739"/><rect x="245.10" y="676.40" width="1.05" height="23.55" fill="#23803c"/><rect x="246.10" y="511.90" width="1.05" height="23.55" fill="#23803c"/><rect x="246.10" y="535.40" width="1.05" height="23.55" fill="#237d3b"/><rect x="246.10" y="558.90" width="1.05" height="23.55" fill="#237b3a"/><rect x="246.10" y="582.40" width="1.05" height="23.55" fill="#237a3a"/><rect x="246.10" y="605.90" width="1.05" height="23.55" fill="#238a3f"/><rect x="246.10" y="629.40" width="1.05" height="23.55" fill="#23893e"/><rect x="246.10" y="652.90" width="1.05" height="23.55" fill="#238c3f"/><rect x="246.10" y="676.40" width="1.05" height="23.55" fill="#23863d"/><rect x="247.10" y="511.90" width="1.05" height="23.55" fill="#237b3a"/><rect x="247.10" y="535.40" width="1.05" height="23.55" fill="#227037"/><rect x="247.10" y="558.90" width="1.05" height="23.55" fill="#226c36"/><rect x="247.10" y="582.40" width="1.05" height="23.55" fill="#226c36"/><rect x="247.10" y="605.90" width="1.05" height="23.55" fill="#23803b"/><rect x="247.10" y="629.40" width="1.05" height="23.55" fill="#237d3b"/><rect x="247.10" y="652.90" width="1.05" height="23.55" fill="#237739"/><rect x="247.10" y="676.40" width="1.05" height="23.55" fill="#237e3b"/><rect x="248.10" y="511.90" width="1.25" height="23.55" fill="#23893e"/><rect x="248.10" y="535.40" width="1.25" height="23.55" fill="#23893e"/><rect x="248.10" y="558.90" width="1.25" height="23.55" fill="#23863e"/><rect x="248.10" y="582.40" width="1.25" height="23.55" fill="#23853d"/><rect x="248.10" y="605.90" width="1.25" height="23.55" fill="#239241"/><rect x="248.10" y="629.40" width="1.25" height="23.55" fill="#239141"/><rect x="248.10" y="652.90" width="1.25" height="23.55" fill="#238b3f"/><rect x="248.10" y="676.40" width="1.25" height="23.55" fill="#238e40"/><rect x="249.30" y="511.90" width="1.25" height="23.55" fill="#23863d"/><rect x="249.30" y="535.40" width="1.25" height="23.55" fill="#237d3b"/><rect x="249.30" y="558.90" width="1.25" height="23.55" fill="#237a3a"/><rect x="249.30" y="582.40" width="1.25" height="23.55" fill="#237b3a"/><rect x="249.30" y="605.90" width="1.25" height="23.55" fill="#23873e"/><rect x="249.30" y="629.40" width="1.25" height="23.55" fill="#23853d"/><rect x="249.30" y="652.90" width="1.25" height="23.55" fill="#23893e"/><rect x="249.30" y="676.40" width="1.25" height="23.55" fill="#23833d"/><rect x="250.50" y="511.90" width="1.25" height="23.55" fill="#238a3f"/><rect x="250.50" y="535.40" width="1.25" height="23.55" fill="#23803b"/><rect x="250.50" y="558.90" width="1.25" height="23.55" fill="#23843d"/><rect x="250.50" y="582.40" width="1.25" height="23.55" fill="#23823c"/><rect x="250.50" y="605.90" width="1.25" height="23.55" fill="#239141"/><rect x="250.50" y="629.40" width="1.25" height="23.55" fill="#249342"/><rect x="250.50" y="652.90" width="1.25" height="23.55" fill="#238f40"/><rect x="250.50" y="676.40" width="1.25" height="23.55" fill="#238b3f"/><rect x="251.70" y="511.90" width="0.85" height="23.55" fill="#238e40"/><rect x="251.70" y="535.40" width="0.85" height="23.55" fill="#23893f"/><rect x="251.70" y="558.90" width="0.85" height="23.55" fill="#238b3f"/><rect x="251.70" y="582.40" width="0.85" height="23.55" fill="#23803c"/><rect x="251.70" y="605.90" width="0.85" height="23.55" fill="#259744"/><rect x="251.70" y="629.40" width="0.85" height="23.55" fill="#238e40"/><rect x="251.70" y="652.90" width="0.85" height="23.55" fill="#239141"/><rect x="251.70" y="676.40" width="0.85" height="23.55" fill="#238d40"/><rect x="252.50" y="511.90" width="1.05" height="23.55" fill="#2aa34a"/><rect x="252.50" y="535.40" width="1.05" height="23.55" fill="#2aa34a"/><rect x="252.50" y="558.90" width="1.05" height="23.55" fill="#28a048"/><rect x="252.50" y="582.40" width="1.05" height="23.55" fill="#289f47"/><rect x="252.50" y="605.90" width="1.05" height="23.55" fill="#2ba64c"/><rect x="252.50" y="629.40" width="1.05" height="23.55" fill="#2eab50"/><rect x="252.50" y="652.90" width="1.05" height="23.55" fill="#2da94e"/><rect x="252.50" y="676.40" width="1.05" height="23.55" fill="#2ca74d"/><rect x="253.50" y="511.90" width="1.25" height="23.55" fill="#237d3b"/><rect x="253.50" y="535.40" width="1.25" height="23.55" fill="#237a3a"/><rect x="253.50" y="558.90" width="1.25" height="23.55" fill="#237839"/><rect x="253.50" y="582.40" width="1.25" height="23.55" fill="#227237"/><rect x="253.50" y="605.90" width="1.25" height="23.55" fill="#23893e"/><rect x="253.50" y="629.40" width="1.25" height="23.55" fill="#23823c"/><rect x="253.50" y="652.90" width="1.25" height="23.55" fill="#237e3b"/><rect x="253.50" y="676.40" width="1.25" height="23.55" fill="#23883e"/><rect x="254.70" y="511.90" width="1.25" height="23.55" fill="#238a3f"/><rect x="254.70" y="535.40" width="1.25" height="23.55" fill="#238c3f"/><rect x="254.70" y="558.90" width="1.25" height="23.55" fill="#23883e"/><rect x="254.70" y="582.40" width="1.25" height="23.55" fill="#23893e"/><rect x="254.70" y="605.90" width="1.25" height="23.55" fill="#259644"/><rect x="254.70" y="629.40" width="1.25" height="23.55" fill="#269945"/><rect x="254.70" y="652.90" width="1.25" height="23.55" fill="#249442"/><rect x="254.70" y="676.40" width="1.25" height="23.55" fill="#259744"/><rect x="255.90" y="511.90" width="1.55" height="23.55" fill="#216834"/><rect x="255.90" y="535.40" width="1.55" height="23.55" fill="#205e31"/><rect x="255.90" y="558.90" width="1.55" height="23.55" fill="#205d31"/><rect x="255.90" y="582.40" width="1.55" height="23.55" fill="#205e32"/><rect x="255.90" y="605.90" width="1.55" height="23.55" fill="#216b35"/><rect x="255.90" y="629.40" width="1.55" height="23.55" fill="#226c36"/><rect x="255.90" y="652.90" width="1.55" height="23.55" fill="#216935"/><rect x="255.90" y="676.40" width="1.55" height="23.55" fill="#226d36"/><rect x="257.40" y="511.90" width="1.05" height="23.55" fill="#226d36"/><rect x="257.40" y="535.40" width="1.05" height="23.55" fill="#216734"/><rect x="257.40" y="558.90" width="1.05" height="23.55" fill="#216534"/><rect x="257.40" y="582.40" width="1.05" height="23.55" fill="#216935"/><rect x="257.40" y="605.90" width="1.05" height="23.55" fill="#237839"/><rect x="257.40" y="629.40" width="1.05" height="23.55" fill="#237538"/><rect x="257.40" y="652.90" width="1.05" height="23.55" fill="#227137"/><rect x="257.40" y="676.40" width="1.05" height="23.55" fill="#237438"/><rect x="258.40" y="511.90" width="1.05" height="23.55" fill="#269945"/><rect x="258.40" y="535.40" width="1.05" height="23.55" fill="#269945"/><rect x="258.40" y="558.90" width="1.05" height="23.55" fill="#269b46"/><rect x="258.40" y="582.40" width="1.05" height="23.55" fill="#239041"/><rect x="258.40" y="605.90" width="1.05" height="23.55" fill="#29a249"/><rect x="258.40" y="629.40" width="1.05" height="23.55" fill="#2ba54b"/><rect x="258.40" y="652.90" width="1.05" height="23.55" fill="#2ca84d"/><rect x="258.40" y="676.40" width="1.05" height="23.55" fill="#2aa54b"/><rect x="259.40" y="511.90" width="1.25" height="23.55" fill="#205d31"/><rect x="259.40" y="535.40" width="1.25" height="23.55" fill="#1f512c"/><rect x="259.40" y="558.90" width="1.25" height="23.55" fill="#1e4e2b"/><rect x="259.40" y="582.40" width="1.25" height="23.55" fill="#1e502c"/><rect x="259.40" y="605.90" width="1.25" height="23.55" fill="#205e32"/><rect x="259.40" y="629.40" width="1.25" height="23.55" fill="#205e32"/><rect x="259.40" y="652.90" width="1.25" height="23.55" fill="#1f5930"/><rect x="259.40" y="676.40" width="1.25" height="23.55" fill="#205c31"/><rect x="260.60" y="511.90" width="1.55" height="23.55" fill="#237939"/><rect x="260.60" y="535.40" width="1.55" height="23.55" fill="#227237"/><rect x="260.60" y="558.90" width="1.55" height="23.55" fill="#227037"/><rect x="260.60" y="582.40" width="1.55" height="23.55" fill="#237638"/><rect x="260.60" y="605.90" width="1.55" height="23.55" fill="#237e3b"/><rect x="260.60" y="629.40" width="1.55" height="23.55" fill="#237f3b"/><rect x="260.60" y="652.90" width="1.55" height="23.55" fill="#23823c"/><rect x="260.60" y="676.40" width="1.55" height="23.55" fill="#237c3a"/><rect x="262.10" y="511.90" width="1.05" height="23.55" fill="#237839"/><rect x="262.10" y="535.40" width="1.05" height="23.55" fill="#226c36"/><rect x="262.10" y="558.90" width="1.05" height="23.55" fill="#226c36"/><rect x="262.10" y="582.40" width="1.05" height="23.55" fill="#227037"/><rect x="262.10" y="605.90" width="1.05" height="23.55" fill="#237c3a"/><rect x="262.10" y="629.40" width="1.05" height="23.55" fill="#23803c"/><rect x="262.10" y="652.90" width="1.05" height="23.55" fill="#237d3b"/><rect x="262.10" y="676.40" width="1.05" height="23.55" fill="#237839"/><rect x="263.10" y="511.90" width="1.25" height="23.55" fill="#237d3b"/><rect x="263.10" y="535.40" width="1.25" height="23.55" fill="#226e36"/><rect x="263.10" y="558.90" width="1.25" height="23.55" fill="#227338"/><rect x="263.10" y="582.40" width="1.25" height="23.55" fill="#226f36"/><rect x="263.10" y="605.90" width="1.25" height="23.55" fill="#23833d"/><rect x="263.10" y="629.40" width="1.25" height="23.55" fill="#237d3b"/><rect x="263.10" y="652.90" width="1.25" height="23.55" fill="#237e3b"/><rect x="263.10" y="676.40" width="1.25" height="23.55" fill="#237c3a"/><rect x="264.30" y="511.90" width="1.05" height="23.55" fill="#227237"/><rect x="264.30" y="535.40" width="1.05" height="23.55" fill="#216a35"/><rect x="264.30" y="558.90" width="1.05" height="23.55" fill="#216634"/><rect x="264.30" y="582.40" width="1.05" height="23.55" fill="#226d36"/><rect x="264.30" y="605.90" width="1.05" height="23.55" fill="#237739"/><rect x="264.30" y="629.40" width="1.05" height="23.55" fill="#237739"/><rect x="264.30" y="652.90" width="1.05" height="23.55" fill="#237739"/><rect x="264.30" y="676.40" width="1.05" height="23.55" fill="#237638"/><rect x="265.30" y="511.90" width="1.25" height="23.55" fill="#216935"/><rect x="265.30" y="535.40" width="1.25" height="23.55" fill="#206133"/><rect x="265.30" y="558.90" width="1.25" height="23.55" fill="#216433"/><rect x="265.30" y="582.40" width="1.25" height="23.55" fill="#205e32"/><rect x="265.30" y="605.90" width="1.25" height="23.55" fill="#226e36"/><rect x="265.30" y="629.40" width="1.25" height="23.55" fill="#226c36"/><rect x="265.30" y="652.90" width="1.25" height="23.55" fill="#216b35"/><rect x="265.30" y="676.40" width="1.25" height="23.55" fill="#216935"/><rect x="266.50" y="511.90" width="1.05" height="23.55" fill="#23883e"/><rect x="266.50" y="535.40" width="1.05" height="23.55" fill="#237839"/><rect x="266.50" y="558.90" width="1.05" height="23.55" fill="#237d3b"/><rect x="266.50" y="582.40" width="1.05" height="23.55" fill="#23803c"/><rect x="266.50" y="605.90" width="1.05" height="23.55" fill="#238a3f"/><rect x="266.50" y="629.40" width="1.05" height="23.55" fill="#23873e"/><rect x="266.50" y="652.90" width="1.05" height="23.55" fill="#238c3f"/><rect x="266.50" y="676.40" width="1.05" height="23.55" fill="#23863e"/><rect x="267.50" y="511.90" width="1.05" height="23.55" fill="#237939"/><rect x="267.50" y="535.40" width="1.05" height="23.55" fill="#227037"/><rect x="267.50" y="558.90" width="1.05" height="23.55" fill="#227338"/><rect x="267.50" y="582.40" width="1.05" height="23.55" fill="#227137"/><rect x="267.50" y="605.90" width="1.05" height="23.55" fill="#23813c"/><rect x="267.50" y="629.40" width="1.05" height="23.55" fill="#237f3b"/><rect x="267.50" y="652.90" width="1.05" height="23.55" fill="#23843d"/><rect x="267.50" y="676.40" width="1.05" height="23.55" fill="#237c3a"/><rect x="268.50" y="511.90" width="0.85" height="23.55" fill="#2aa54b"/><rect x="268.50" y="535.40" width="0.85" height="23.55" fill="#259844"/><rect x="268.50" y="558.90" width="0.85" height="23.55" fill="#249342"/><rect x="268.50" y="582.40" width="0.85" height="23.55" fill="#279e47"/><rect x="268.50" y="605.90" width="0.85" height="23.55" fill="#2daa4e"/><rect x="268.50" y="629.40" width="0.85" height="23.55" fill="#2ba64c"/><rect x="268.50" y="652.90" width="0.85" height="23.55" fill="#29a34a"/><rect x="268.50" y="676.40" width="0.85" height="23.55" fill="#29a34a"/><rect x="269.30" y="511.90" width="1.05" height="23.55" fill="#269a45"/><rect x="269.30" y="535.40" width="1.05" height="23.55" fill="#238f40"/><rect x="269.30" y="558.90" width="1.05" height="23.55" fill="#249543"/><rect x="269.30" y="582.40" width="1.05" height="23.55" fill="#238d40"/><rect x="269.30" y="605.90" width="1.05" height="23.55" fill="#269b46"/><rect x="269.30" y="629.40" width="1.05" height="23.55" fill="#279c46"/><rect x="269.30" y="652.90" width="1.05" height="23.55" fill="#279d47"/><rect x="269.30" y="676.40" width="1.05" height="23.55" fill="#289f48"/><rect x="270.30" y="511.90" width="1.05" height="23.55" fill="#23823c"/><rect x="270.30" y="535.40" width="1.05" height="23.55" fill="#237638"/><rect x="270.30" y="558.90" width="1.05" height="23.55" fill="#237c3a"/><rect x="270.30" y="582.40" width="1.05" height="23.55" fill="#237a3a"/><rect x="270.30" y="605.90" width="1.05" height="23.55" fill="#23883e"/><rect x="270.30" y="629.40" width="1.05" height="23.55" fill="#238e40"/><rect x="270.30" y="652.90" width="1.05" height="23.55" fill="#23843d"/><rect x="270.30" y="676.40" width="1.05" height="23.55" fill="#238b3f"/><rect x="271.30" y="511.90" width="1.05" height="23.55" fill="#237538"/><rect x="271.30" y="535.40" width="1.05" height="23.55" fill="#237939"/><rect x="271.30" y="558.90" width="1.05" height="23.55" fill="#227037"/><rect x="271.30" y="582.40" width="1.05" height="23.55" fill="#227037"/><rect x="271.30" y="605.90" width="1.05" height="23.55" fill="#237538"/><rect x="271.30" y="629.40" width="1.05" height="23.55" fill="#237e3b"/><rect x="271.30" y="652.90" width="1.05" height="23.55" fill="#237d3b"/><rect x="271.30" y="676.40" width="1.05" height="23.55" fill="#237739"/><rect x="272.30" y="511.90" width="1.05" height="23.55" fill="#23803c"/><rect x="272.30" y="535.40" width="1.05" height="23.55" fill="#237a3a"/><rect x="272.30" y="558.90" width="1.05" height="23.55" fill="#237d3b"/><rect x="272.30" y="582.40" width="1.05" height="23.55" fill="#237d3b"/><rect x="272.30" y="605.90" width="1.05" height="23.55" fill="#23863e"/><rect x="272.30" y="629.40" width="1.05" height="23.55" fill="#238c3f"/><rect x="272.30" y="652.90" width="1.05" height="23.55" fill="#23853d"/><rect x="272.30" y="676.40" width="1.05" height="23.55" fill="#23853d"/><rect x="273.30" y="511.90" width="0.85" height="23.55" fill="#238f40"/><rect x="273.30" y="535.40" width="0.85" height="23.55" fill="#23833c"/><rect x="273.30" y="558.90" width="0.85" height="23.55" fill="#23833c"/><rect x="273.30" y="582.40" width="0.85" height="23.55" fill="#23893e"/><rect x="273.30" y="605.90" width="0.85" height="23.55" fill="#239041"/><rect x="273.30" y="629.40" width="0.85" height="23.55" fill="#259643"/><rect x="273.30" y="652.90" width="0.85" height="23.55" fill="#249543"/><rect x="273.30" y="676.40" width="0.85" height="23.55" fill="#259643"/><rect x="274.10" y="511.90" width="1.25" height="23.55" fill="#205b30"/><rect x="274.10" y="535.40" width="1.25" height="23.55" fill="#1f5930"/><rect x="274.10" y="558.90" width="1.25" height="23.55" fill="#1f572f"/><rect x="274.10" y="582.40" width="1.25" height="23.55" fill="#1f542e"/><rect x="274.10" y="605.90" width="1.25" height="23.55" fill="#205c31"/><rect x="274.10" y="629.40" width="1.25" height="23.55" fill="#206133"/><rect x="274.10" y="652.90" width="1.25" height="23.55" fill="#205e32"/><rect x="274.10" y="676.40" width="1.25" height="23.55" fill="#206133"/><rect x="275.30" y="511.90" width="1.55" height="23.55" fill="#23823c"/><rect x="275.30" y="535.40" width="1.55" height="23.55" fill="#237739"/><rect x="275.30" y="558.90" width="1.55" height="23.55" fill="#237739"/><rect x="275.30" y="582.40" width="1.55" height="23.55" fill="#237a3a"/><rect x="275.30" y="605.90" width="1.55" height="23.55" fill="#237e3b"/><rect x="275.30" y="629.40" width="1.55" height="23.55" fill="#23853d"/><rect x="275.30" y="652.90" width="1.55" height="23.55" fill="#237d3b"/><rect x="275.30" y="676.40" width="1.55" height="23.55" fill="#23863d"/><rect x="276.80" y="511.90" width="1.05" height="23.55" fill="#227338"/><rect x="276.80" y="535.40" width="1.05" height="23.55" fill="#226c36"/><rect x="276.80" y="558.90" width="1.05" height="23.55" fill="#226d36"/><rect x="276.80" y="582.40" width="1.05" height="23.55" fill="#216734"/><rect x="276.80" y="605.90" width="1.05" height="23.55" fill="#237e3b"/><rect x="276.80" y="629.40" width="1.05" height="23.55" fill="#237c3a"/><rect x="276.80" y="652.90" width="1.05" height="23.55" fill="#237739"/><rect x="276.80" y="676.40" width="1.05" height="23.55" fill="#237739"/><rect x="277.80" y="511.90" width="1.05" height="23.55" fill="#206233"/><rect x="277.80" y="535.40" width="1.05" height="23.55" fill="#1f5a30"/><rect x="277.80" y="558.90" width="1.05" height="23.55" fill="#1f5930"/><rect x="277.80" y="582.40" width="1.05" height="23.55" fill="#1f542e"/><rect x="277.80" y="605.90" width="1.05" height="23.55" fill="#216835"/><rect x="277.80" y="629.40" width="1.05" height="23.55" fill="#216634"/><rect x="277.80" y="652.90" width="1.05" height="23.55" fill="#216935"/><rect x="277.80" y="676.40" width="1.05" height="23.55" fill="#206233"/><rect x="278.80" y="511.90" width="1.05" height="23.55" fill="#206233"/><rect x="278.80" y="535.40" width="1.05" height="23.55" fill="#205e32"/><rect x="278.80" y="558.90" width="1.05" height="23.55" fill="#205d31"/><rect x="278.80" y="582.40" width="1.05" height="23.55" fill="#206333"/><rect x="278.80" y="605.90" width="1.05" height="23.55" fill="#216835"/><rect x="278.80" y="629.40" width="1.05" height="23.55" fill="#216433"/><rect x="278.80" y="652.90" width="1.05" height="23.55" fill="#216935"/><rect x="278.80" y="676.40" width="1.05" height="23.55" fill="#216a35"/><rect x="279.80" y="511.90" width="0.85" height="23.55" fill="#206133"/><rect x="279.80" y="535.40" width="0.85" height="23.55" fill="#205d31"/><rect x="279.80" y="558.90" width="0.85" height="23.55" fill="#206233"/><rect x="279.80" y="582.40" width="0.85" height="23.55" fill="#1f582f"/><rect x="279.80" y="605.90" width="0.85" height="23.55" fill="#216734"/><rect x="279.80" y="629.40" width="0.85" height="23.55" fill="#216a35"/><rect x="279.80" y="652.90" width="0.85" height="23.55" fill="#216b35"/><rect x="279.80" y="676.40" width="0.85" height="23.55" fill="#226e36"/><rect x="280.60" y="511.90" width="1.05" height="23.55" fill="#237438"/><rect x="280.60" y="535.40" width="1.05" height="23.55" fill="#216a35"/><rect x="280.60" y="558.90" width="1.05" height="23.55" fill="#226c36"/><rect x="280.60" y="582.40" width="1.05" height="23.55" fill="#216935"/><rect x="280.60" y="605.90" width="1.05" height="23.55" fill="#237538"/><rect x="280.60" y="629.40" width="1.05" height="23.55" fill="#237438"/><rect x="280.60" y="652.90" width="1.05" height="23.55" fill="#237639"/><rect x="280.60" y="676.40" width="1.05" height="23.55" fill="#237739"/><rect x="281.60" y="511.90" width="1.25" height="23.55" fill="#23833c"/><rect x="281.60" y="535.40" width="1.25" height="23.55" fill="#237a3a"/><rect x="281.60" y="558.90" width="1.25" height="23.55" fill="#237a3a"/><rect x="281.60" y="582.40" width="1.25" height="23.55" fill="#237638"/><rect x="281.60" y="605.90" width="1.25" height="23.55" fill="#23873e"/><rect x="281.60" y="629.40" width="1.25" height="23.55" fill="#23833d"/><rect x="281.60" y="652.90" width="1.25" height="23.55" fill="#23833d"/><rect x="281.60" y="676.40" width="1.25" height="23.55" fill="#23853d"/><rect x="282.80" y="511.90" width="1.55" height="23.55" fill="#23803c"/><rect x="282.80" y="535.40" width="1.55" height="23.55" fill="#227338"/><rect x="282.80" y="558.90" width="1.55" height="23.55" fill="#237739"/><rect x="282.80" y="582.40" width="1.55" height="23.55" fill="#237638"/><rect x="282.80" y="605.90" width="1.55" height="23.55" fill="#237d3a"/><rect x="282.80" y="629.40" width="1.55" height="23.55" fill="#23843d"/><rect x="282.80" y="652.90" width="1.55" height="23.55" fill="#23873e"/><rect x="282.80" y="676.40" width="1.55" height="23.55" fill="#23813c"/><rect x="284.30" y="511.90" width="1.05" height="23.55" fill="#227338"/><rect x="284.30" y="535.40" width="1.05" height="23.55" fill="#226d36"/><rect x="284.30" y="558.90" width="1.05" height="23.55" fill="#237538"/><rect x="284.30" y="582.40" width="1.05" height="23.55" fill="#226d36"/><rect x="284.30" y="605.90" width="1.05" height="23.55" fill="#23873e"/><rect x="284.30" y="629.40" width="1.05" height="23.55" fill="#237f3b"/><rect x="284.30" y="652.90" width="1.05" height="23.55" fill="#237d3b"/><rect x="284.30" y="676.40" width="1.05" height="23.55" fill="#237d3a"/><rect x="285.30" y="511.90" width="1.55" height="23.55" fill="#23873e"/><rect x="285.30" y="535.40" width="1.55" height="23.55" fill="#23833c"/><rect x="285.30" y="558.90" width="1.55" height="23.55" fill="#23823c"/><rect x="285.30" y="582.40" width="1.55" height="23.55" fill="#23863d"/><rect x="285.30" y="605.90" width="1.55" height="23.55" fill="#238a3f"/><rect x="285.30" y="629.40" width="1.55" height="23.55" fill="#249342"/><rect x="285.30" y="652.90" width="1.55" height="23.55" fill="#238c3f"/><rect x="285.30" y="676.40" width="1.55" height="23.55" fill="#238d40"/><rect x="286.80" y="511.90" width="1.55" height="23.55" fill="#237b3a"/><rect x="286.80" y="535.40" width="1.55" height="23.55" fill="#237538"/><rect x="286.80" y="558.90" width="1.55" height="23.55" fill="#227237"/><rect x="286.80" y="582.40" width="1.55" height="23.55" fill="#237a3a"/><rect x="286.80" y="605.90" width="1.55" height="23.55" fill="#23893e"/><rect x="286.80" y="629.40" width="1.55" height="23.55" fill="#23843d"/><rect x="286.80" y="652.90" width="1.55" height="23.55" fill="#23843d"/><rect x="286.80" y="676.40" width="1.55" height="23.55" fill="#23823c"/><rect x="288.30" y="511.90" width="1.05" height="23.55" fill="#227438"/><rect x="288.30" y="535.40" width="1.05" height="23.55" fill="#226f37"/><rect x="288.30" y="558.90" width="1.05" height="23.55" fill="#226e36"/><rect x="288.30" y="582.40" width="1.05" height="23.55" fill="#226d36"/><rect x="288.30" y="605.90" width="1.05" height="23.55" fill="#23813c"/><rect x="288.30" y="629.40" width="1.05" height="23.55" fill="#237638"/><rect x="288.30" y="652.90" width="1.05" height="23.55" fill="#237638"/><rect x="288.30" y="676.40" width="1.05" height="23.55" fill="#237e3b"/><rect x="289.30" y="511.90" width="1.05" height="23.55" fill="#216534"/><rect x="289.30" y="535.40" width="1.05" height="23.55" fill="#216634"/><rect x="289.30" y="558.90" width="1.05" height="23.55" fill="#216935"/><rect x="289.30" y="582.40" width="1.05" height="23.55" fill="#205e31"/><rect x="289.30" y="605.90" width="1.05" height="23.55" fill="#226d36"/><rect x="289.30" y="629.40" width="1.05" height="23.55" fill="#226d36"/><rect x="289.30" y="652.90" width="1.05" height="23.55" fill="#237438"/><rect x="289.30" y="676.40" width="1.05" height="23.55" fill="#226c36"/><rect x="290.30" y="511.90" width="1.55" height="23.55" fill="#237f3b"/><rect x="290.30" y="535.40" width="1.55" height="23.55" fill="#237a3a"/><rect x="290.30" y="558.90" width="1.55" height="23.55" fill="#237b3a"/><rect x="290.30" y="582.40" width="1.55" height="23.55" fill="#237538"/><rect x="290.30" y="605.90" width="1.55" height="23.55" fill="#23833c"/><rect x="290.30" y="629.40" width="1.55" height="23.55" fill="#23833c"/><rect x="290.30" y="652.90" width="1.55" height="23.55" fill="#23833d"/><rect x="290.30" y="676.40" width="1.55" height="23.55" fill="#23813c"/><rect x="291.80" y="511.90" width="1.55" height="23.55" fill="#23843d"/><rect x="291.80" y="535.40" width="1.55" height="23.55" fill="#23813c"/><rect x="291.80" y="558.90" width="1.55" height="23.55" fill="#23843d"/><rect x="291.80" y="582.40" width="1.55" height="23.55" fill="#237839"/><rect x="291.80" y="605.90" width="1.55" height="23.55" fill="#238c3f"/><rect x="291.80" y="629.40" width="1.55" height="23.55" fill="#238c3f"/><rect x="291.80" y="652.90" width="1.55" height="23.55" fill="#23853d"/><rect x="291.80" y="676.40" width="1.55" height="23.55" fill="#23873e"/><rect x="293.30" y="511.90" width="0.85" height="23.55" fill="#29a249"/><rect x="293.30" y="535.40" width="0.85" height="23.55" fill="#269945"/><rect x="293.30" y="558.90" width="0.85" height="23.55" fill="#249543"/><rect x="293.30" y="582.40" width="0.85" height="23.55" fill="#269b46"/><rect x="293.30" y="605.90" width="0.85" height="23.55" fill="#2ca74d"/><rect x="293.30" y="629.40" width="0.85" height="23.55" fill="#2ca74d"/><rect x="293.30" y="652.90" width="0.85" height="23.55" fill="#2ca74d"/><rect x="293.30" y="676.40" width="0.85" height="23.55" fill="#289f48"/><rect x="294.10" y="511.90" width="1.25" height="23.55" fill="#238e40"/><rect x="294.10" y="535.40" width="1.25" height="23.55" fill="#23883e"/><rect x="294.10" y="558.90" width="1.25" height="23.55" fill="#23883e"/><rect x="294.10" y="582.40" width="1.25" height="23.55" fill="#23883e"/><rect x="294.10" y="605.90" width="1.25" height="23.55" fill="#269945"/><rect x="294.10" y="629.40" width="1.25" height="23.55" fill="#239141"/><rect x="294.10" y="652.90" width="1.25" height="23.55" fill="#238e40"/><rect x="294.10" y="676.40" width="1.25" height="23.55" fill="#249342"/><rect x="295.30" y="511.90" width="1.55" height="23.55" fill="#1e4f2b"/><rect x="295.30" y="535.40" width="1.55" height="23.55" fill="#254327"/><rect x="295.30" y="558.90" width="1.55" height="23.55" fill="#1f4a2a"/><rect x="295.30" y="582.40" width="1.55" height="23.55" fill="#224628"/><rect x="295.30" y="605.90" width="1.55" height="23.55" fill="#1f552e"/><rect x="295.30" y="629.40" width="1.55" height="23.55" fill="#1f532d"/><rect x="295.30" y="652.90" width="1.55" height="23.55" fill="#1f512c"/><rect x="295.30" y="676.40" width="1.55" height="23.55" fill="#1f522d"/><rect x="296.80" y="511.90" width="1.25" height="23.55" fill="#216534"/><rect x="296.80" y="535.40" width="1.25" height="23.55" fill="#205f32"/><rect x="296.80" y="558.90" width="1.25" height="23.55" fill="#206132"/><rect x="296.80" y="582.40" width="1.25" height="23.55" fill="#205f32"/><rect x="296.80" y="605.90" width="1.25" height="23.55" fill="#216a35"/><rect x="296.80" y="629.40" width="1.25" height="23.55" fill="#216b35"/><rect x="296.80" y="652.90" width="1.25" height="23.55" fill="#216734"/><rect x="296.80" y="676.40" width="1.25" height="23.55" fill="#227037"/><rect x="298.00" y="511.90" width="1.25" height="23.55" fill="#1f532d"/><rect x="298.00" y="535.40" width="1.25" height="23.55" fill="#1e4f2b"/><rect x="298.00" y="558.90" width="1.25" height="23.55" fill="#1f502c"/><rect x="298.00" y="582.40" width="1.25" height="23.55" fill="#214829"/><rect x="298.00" y="605.90" width="1.25" height="23.55" fill="#1f542e"/><rect x="298.00" y="629.40" width="1.25" height="23.55" fill="#1f572f"/><rect x="298.00" y="652.90" width="1.25" height="23.55" fill="#1f5a30"/><rect x="298.00" y="676.40" width="1.25" height="23.55" fill="#1e4f2c"/><rect x="299.20" y="511.90" width="1.25" height="23.55" fill="#1f572f"/><rect x="299.20" y="535.40" width="1.25" height="23.55" fill="#1f522d"/><rect x="299.20" y="558.90" width="1.25" height="23.55" fill="#1f532d"/><rect x="299.20" y="582.40" width="1.25" height="23.55" fill="#1e502c"/><rect x="299.20" y="605.90" width="1.25" height="23.55" fill="#206032"/><rect x="299.20" y="629.40" width="1.25" height="23.55" fill="#205b31"/><rect x="299.20" y="652.90" width="1.25" height="23.55" fill="#1f5930"/><rect x="299.20" y="676.40" width="1.25" height="23.55" fill="#1f5930"/><rect x="300.40" y="511.90" width="1.25" height="23.55" fill="#226c36"/><rect x="300.40" y="535.40" width="1.25" height="23.55" fill="#216a35"/><rect x="300.40" y="558.90" width="1.25" height="23.55" fill="#216b35"/><rect x="300.40" y="582.40" width="1.25" height="23.55" fill="#227037"/><rect x="300.40" y="605.90" width="1.25" height="23.55" fill="#226f37"/><rect x="300.40" y="629.40" width="1.25" height="23.55" fill="#226e36"/><rect x="300.40" y="652.90" width="1.25" height="23.55" fill="#216b35"/><rect x="300.40" y="676.40" width="1.25" height="23.55" fill="#226d36"/><rect x="301.60" y="511.90" width="0.85" height="23.55" fill="#205e32"/><rect x="301.60" y="535.40" width="0.85" height="23.55" fill="#206032"/><rect x="301.60" y="558.90" width="0.85" height="23.55" fill="#205f32"/><rect x="301.60" y="582.40" width="0.85" height="23.55" fill="#205b30"/><rect x="301.60" y="605.90" width="0.85" height="23.55" fill="#216433"/><rect x="301.60" y="629.40" width="0.85" height="23.55" fill="#206032"/><rect x="301.60" y="652.90" width="0.85" height="23.55" fill="#205f32"/><rect x="301.60" y="676.40" width="0.85" height="23.55" fill="#206032"/><rect x="302.40" y="511.90" width="1.25" height="23.55" fill="#226e36"/><rect x="302.40" y="535.40" width="1.25" height="23.55" fill="#227037"/><rect x="302.40" y="558.90" width="1.25" height="23.55" fill="#237538"/><rect x="302.40" y="582.40" width="1.25" height="23.55" fill="#226c36"/><rect x="302.40" y="605.90" width="1.25" height="23.55" fill="#227438"/><rect x="302.40" y="629.40" width="1.25" height="23.55" fill="#237939"/><rect x="302.40" y="652.90" width="1.25" height="23.55" fill="#226e36"/><rect x="302.40" y="676.40" width="1.25" height="23.55" fill="#237538"/><rect x="303.60" y="511.90" width="1.25" height="23.55" fill="#237d3b"/><rect x="303.60" y="535.40" width="1.25" height="23.55" fill="#237939"/><rect x="303.60" y="558.90" width="1.25" height="23.55" fill="#237638"/><rect x="303.60" y="582.40" width="1.25" height="23.55" fill="#237d3a"/><rect x="303.60" y="605.90" width="1.25" height="23.55" fill="#237f3b"/><rect x="303.60" y="629.40" width="1.25" height="23.55" fill="#23833d"/><rect x="303.60" y="652.90" width="1.25" height="23.55" fill="#237c3a"/><rect x="303.60" y="676.40" width="1.25" height="23.55" fill="#237b3a"/><rect x="304.80" y="511.90" width="0.85" height="23.55" fill="#216b35"/><rect x="304.80" y="535.40" width="0.85" height="23.55" fill="#216734"/><rect x="304.80" y="558.90" width="0.85" height="23.55" fill="#216935"/><rect x="304.80" y="582.40" width="0.85" height="23.55" fill="#226d36"/><rect x="304.80" y="605.90" width="0.85" height="23.55" fill="#216a35"/><rect x="304.80" y="629.40" width="0.85" height="23.55" fill="#226e36"/><rect x="304.80" y="652.90" width="0.85" height="23.55" fill="#226c36"/><rect x="304.80" y="676.40" width="0.85" height="23.55" fill="#226e36"/><rect x="305.60" y="511.90" width="1.05" height="23.55" fill="#237839"/><rect x="305.60" y="535.40" width="1.05" height="23.55" fill="#227137"/><rect x="305.60" y="558.90" width="1.05" height="23.55" fill="#237638"/><rect x="305.60" y="582.40" width="1.05" height="23.55" fill="#237839"/><rect x="305.60" y="605.90" width="1.05" height="23.55" fill="#237939"/><rect x="305.60" y="629.40" width="1.05" height="23.55" fill="#237a3a"/><rect x="305.60" y="652.90" width="1.05" height="23.55" fill="#237939"/><rect x="305.60" y="676.40" width="1.05" height="23.55" fill="#237638"/><rect x="306.60" y="511.90" width="0.85" height="23.55" fill="#206233"/><rect x="306.60" y="535.40" width="0.85" height="23.55" fill="#206032"/><rect x="306.60" y="558.90" width="0.85" height="23.55" fill="#206233"/><rect x="306.60" y="582.40" width="0.85" height="23.55" fill="#206233"/><rect x="306.60" y="605.90" width="0.85" height="23.55" fill="#206233"/><rect x="306.60" y="629.40" width="0.85" height="23.55" fill="#216333"/><rect x="306.60" y="652.90" width="0.85" height="23.55" fill="#216634"/><rect x="306.60" y="676.40" width="0.85" height="23.55" fill="#216534"/><rect x="307.40" y="511.90" width="1.05" height="23.55" fill="#23843d"/><rect x="307.40" y="535.40" width="1.05" height="23.55" fill="#23803b"/><rect x="307.40" y="558.90" width="1.05" height="23.55" fill="#23813c"/><rect x="307.40" y="582.40" width="1.05" height="23.55" fill="#237b3a"/><rect x="307.40" y="605.90" width="1.05" height="23.55" fill="#23883e"/><rect x="307.40" y="629.40" width="1.05" height="23.55" fill="#23823c"/><rect x="307.40" y="652.90" width="1.05" height="23.55" fill="#23833c"/><rect x="307.40" y="676.40" width="1.05" height="23.55" fill="#23873e"/><rect x="308.40" y="511.90" width="1.25" height="23.55" fill="#237438"/><rect x="308.40" y="535.40" width="1.25" height="23.55" fill="#227237"/><rect x="308.40" y="558.90" width="1.25" height="23.55" fill="#227137"/><rect x="308.40" y="582.40" width="1.25" height="23.55" fill="#227037"/><rect x="308.40" y="605.90" width="1.25" height="23.55" fill="#237739"/><rect x="308.40" y="629.40" width="1.25" height="23.55" fill="#237a3a"/><rect x="308.40" y="652.90" width="1.25" height="23.55" fill="#237d3b"/><rect x="308.40" y="676.40" width="1.25" height="23.55" fill="#237a3a"/><rect x="309.60" y="511.90" width="1.05" height="23.55" fill="#216834"/><rect x="309.60" y="535.40" width="1.05" height="23.55" fill="#226e36"/><rect x="309.60" y="558.90" width="1.05" height="23.55" fill="#216935"/><rect x="309.60" y="582.40" width="1.05" height="23.55" fill="#216835"/><rect x="309.60" y="605.90" width="1.05" height="23.55" fill="#227338"/><rect x="309.60" y="629.40" width="1.05" height="23.55" fill="#237638"/><rect x="309.60" y="652.90" width="1.05" height="23.55" fill="#216a35"/><rect x="309.60" y="676.40" width="1.05" height="23.55" fill="#226e36"/><rect x="310.60" y="511.90" width="0.85" height="23.55" fill="#226e36"/><rect x="310.60" y="535.40" width="0.85" height="23.55" fill="#216634"/><rect x="310.60" y="558.90" width="0.85" height="23.55" fill="#216433"/><rect x="310.60" y="582.40" width="0.85" height="23.55" fill="#216a35"/><rect x="310.60" y="605.90" width="0.85" height="23.55" fill="#216935"/><rect x="310.60" y="629.40" width="0.85" height="23.55" fill="#227137"/><rect x="310.60" y="652.90" width="0.85" height="23.55" fill="#226d36"/><rect x="310.60" y="676.40" width="0.85" height="23.55" fill="#226e36"/><rect x="311.40" y="511.90" width="1.05" height="23.55" fill="#239141"/><rect x="311.40" y="535.40" width="1.05" height="23.55" fill="#238e40"/><rect x="311.40" y="558.90" width="1.05" height="23.55" fill="#238a3f"/><rect x="311.40" y="582.40" width="1.05" height="23.55" fill="#238f40"/><rect x="311.40" y="605.90" width="1.05" height="23.55" fill="#249543"/><rect x="311.40" y="629.40" width="1.05" height="23.55" fill="#249342"/><rect x="311.40" y="652.90" width="1.05" height="23.55" fill="#239241"/><rect x="311.40" y="676.40" width="1.05" height="23.55" fill="#249543"/><rect x="312.40" y="511.90" width="1.55" height="23.55" fill="#23853d"/><rect x="312.40" y="535.40" width="1.55" height="23.55" fill="#23823c"/><rect x="312.40" y="558.90" width="1.55" height="23.55" fill="#23883e"/><rect x="312.40" y="582.40" width="1.55" height="23.55" fill="#239041"/><rect x="312.40" y="605.90" width="1.55" height="23.55" fill="#239141"/><rect x="312.40" y="629.40" width="1.55" height="23.55" fill="#239241"/><rect x="312.40" y="652.90" width="1.55" height="23.55" fill="#23873e"/><rect x="312.40" y="676.40" width="1.55" height="23.55" fill="#239141"/><rect x="313.90" y="511.90" width="0.85" height="23.55" fill="#205e32"/><rect x="313.90" y="535.40" width="0.85" height="23.55" fill="#205e32"/><rect x="313.90" y="558.90" width="0.85" height="23.55" fill="#205f32"/><rect x="313.90" y="582.40" width="0.85" height="23.55" fill="#216433"/><rect x="313.90" y="605.90" width="0.85" height="23.55" fill="#206333"/><rect x="313.90" y="629.40" width="0.85" height="23.55" fill="#206333"/><rect x="313.90" y="652.90" width="0.85" height="23.55" fill="#206333"/><rect x="313.90" y="676.40" width="0.85" height="23.55" fill="#216433"/><rect x="314.70" y="511.90" width="0.85" height="23.55" fill="#226f36"/><rect x="314.70" y="535.40" width="0.85" height="23.55" fill="#216935"/><rect x="314.70" y="558.90" width="0.85" height="23.55" fill="#226d36"/><rect x="314.70" y="582.40" width="0.85" height="23.55" fill="#226d36"/><rect x="314.70" y="605.90" width="0.85" height="23.55" fill="#237839"/><rect x="314.70" y="629.40" width="0.85" height="23.55" fill="#237538"/><rect x="314.70" y="652.90" width="0.85" height="23.55" fill="#227338"/><rect x="314.70" y="676.40" width="0.85" height="23.55" fill="#227037"/><rect x="315.50" y="511.90" width="0.85" height="23.55" fill="#239141"/><rect x="315.50" y="535.40" width="0.85" height="23.55" fill="#238e40"/><rect x="315.50" y="558.90" width="0.85" height="23.55" fill="#238f40"/><rect x="315.50" y="582.40" width="0.85" height="23.55" fill="#239041"/><rect x="315.50" y="605.90" width="0.85" height="23.55" fill="#239141"/><rect x="315.50" y="629.40" width="0.85" height="23.55" fill="#249543"/><rect x="315.50" y="652.90" width="0.85" height="23.55" fill="#239141"/><rect x="315.50" y="676.40" width="0.85" height="23.55" fill="#239041"/><rect x="316.30" y="511.90" width="1.55" height="23.55" fill="#216a35"/><rect x="316.30" y="535.40" width="1.55" height="23.55" fill="#216734"/><rect x="316.30" y="558.90" width="1.55" height="23.55" fill="#216634"/><rect x="316.30" y="582.40" width="1.55" height="23.55" fill="#216534"/><rect x="316.30" y="605.90" width="1.55" height="23.55" fill="#216935"/><rect x="316.30" y="629.40" width="1.55" height="23.55" fill="#226c36"/><rect x="316.30" y="652.90" width="1.55" height="23.55" fill="#226d36"/><rect x="316.30" y="676.40" width="1.55" height="23.55" fill="#216935"/><rect x="317.80" y="511.90" width="1.05" height="23.55" fill="#206133"/><rect x="317.80" y="535.40" width="1.05" height="23.55" fill="#205e32"/><rect x="317.80" y="558.90" width="1.05" height="23.55" fill="#205c31"/><rect x="317.80" y="582.40" width="1.05" height="23.55" fill="#206233"/><rect x="317.80" y="605.90" width="1.05" height="23.55" fill="#206032"/><rect x="317.80" y="629.40" width="1.05" height="23.55" fill="#206032"/><rect x="317.80" y="652.90" width="1.05" height="23.55" fill="#206333"/><rect x="317.80" y="676.40" width="1.05" height="23.55" fill="#206133"/><rect x="318.80" y="511.90" width="1.55" height="23.55" fill="#237538"/><rect x="318.80" y="535.40" width="1.55" height="23.55" fill="#227037"/><rect x="318.80" y="558.90" width="1.55" height="23.55" fill="#226e36"/><rect x="318.80" y="582.40" width="1.55" height="23.55" fill="#227037"/><rect x="318.80" y="605.90" width="1.55" height="23.55" fill="#237438"/><rect x="318.80" y="629.40" width="1.55" height="23.55" fill="#237739"/><rect x="318.80" y="652.90" width="1.55" height="23.55" fill="#226e36"/><rect x="318.80" y="676.40" width="1.55" height="23.55" fill="#227137"/><rect x="320.30" y="511.90" width="0.85" height="23.55" fill="#227037"/><rect x="320.30" y="535.40" width="0.85" height="23.55" fill="#227338"/><rect x="320.30" y="558.90" width="0.85" height="23.55" fill="#226c36"/><rect x="320.30" y="582.40" width="0.85" height="23.55" fill="#226c36"/><rect x="320.30" y="605.90" width="0.85" height="23.55" fill="#227137"/><rect x="320.30" y="629.40" width="0.85" height="23.55" fill="#226d36"/><rect x="320.30" y="652.90" width="0.85" height="23.55" fill="#227338"/><rect x="320.30" y="676.40" width="0.85" height="23.55" fill="#227037"/><rect x="321.10" y="511.90" width="1.05" height="23.55" fill="#1f562e"/><rect x="321.10" y="535.40" width="1.05" height="23.55" fill="#1f562e"/><rect x="321.10" y="558.90" width="1.05" height="23.55" fill="#1e4f2c"/><rect x="321.10" y="582.40" width="1.05" height="23.55" fill="#1f562e"/><rect x="321.10" y="605.90" width="1.05" height="23.55" fill="#205a30"/><rect x="321.10" y="629.40" width="1.05" height="23.55" fill="#1f562f"/><rect x="321.10" y="652.90" width="1.05" height="23.55" fill="#1f562e"/><rect x="321.10" y="676.40" width="1.05" height="23.55" fill="#205a30"/><rect x="322.10" y="511.90" width="1.55" height="23.55" fill="#216935"/><rect x="322.10" y="535.40" width="1.55" height="23.55" fill="#216634"/><rect x="322.10" y="558.90" width="1.55" height="23.55" fill="#216935"/><rect x="322.10" y="582.40" width="1.55" height="23.55" fill="#216734"/><rect x="322.10" y="605.90" width="1.55" height="23.55" fill="#226d36"/><rect x="322.10" y="629.40" width="1.55" height="23.55" fill="#226c36"/><rect x="322.10" y="652.90" width="1.55" height="23.55" fill="#227137"/><rect x="322.10" y="676.40" width="1.55" height="23.55" fill="#237538"/><rect x="323.60" y="511.90" width="0.85" height="23.55" fill="#1f4a2a"/><rect x="323.60" y="535.40" width="0.85" height="23.55" fill="#274227"/><rect x="323.60" y="558.90" width="0.85" height="23.55" fill="#274227"/><rect x="323.60" y="582.40" width="0.85" height="23.55" fill="#224628"/><rect x="323.60" y="605.90" width="0.85" height="23.55" fill="#1f4a2a"/><rect x="323.60" y="629.40" width="0.85" height="23.55" fill="#234528"/><rect x="323.60" y="652.90" width="0.85" height="23.55" fill="#1e4c2a"/><rect x="323.60" y="676.40" width="0.85" height="23.55" fill="#234628"/><rect x="324.40" y="511.90" width="0.85" height="23.55" fill="#234628"/><rect x="324.40" y="535.40" width="0.85" height="23.55" fill="#214829"/><rect x="324.40" y="558.90" width="0.85" height="23.55" fill="#234528"/><rect x="324.40" y="582.40" width="0.85" height="23.55" fill="#244528"/><rect x="324.40" y="605.90" width="0.85" height="23.55" fill="#1e4f2c"/><rect x="324.40" y="629.40" width="0.85" height="23.55" fill="#1e4d2b"/><rect x="324.40" y="652.90" width="0.85" height="23.55" fill="#1f4a2a"/><rect x="324.40" y="676.40" width="0.85" height="23.55" fill="#204829"/><rect x="325.20" y="511.90" width="1.05" height="23.55" fill="#1f572f"/><rect x="325.20" y="535.40" width="1.05" height="23.55" fill="#1f542d"/><rect x="325.20" y="558.90" width="1.05" height="23.55" fill="#1e4d2b"/><rect x="325.20" y="582.40" width="1.05" height="23.55" fill="#1e4e2b"/><rect x="325.20" y="605.90" width="1.05" height="23.55" fill="#1f582f"/><rect x="325.20" y="629.40" width="1.05" height="23.55" fill="#1f512c"/><rect x="325.20" y="652.90" width="1.05" height="23.55" fill="#1f522d"/><rect x="325.20" y="676.40" width="1.05" height="23.55" fill="#205b30"/><rect x="326.20" y="511.90" width="1.55" height="23.55" fill="#274126"/><rect x="326.20" y="535.40" width="1.55" height="23.55" fill="#274126"/><rect x="326.20" y="558.90" width="1.55" height="23.55" fill="#264227"/><rect x="326.20" y="582.40" width="1.55" height="23.55" fill="#244528"/><rect x="326.20" y="605.90" width="1.55" height="23.55" fill="#224729"/><rect x="326.20" y="629.40" width="1.55" height="23.55" fill="#274127"/><rect x="326.20" y="652.90" width="1.55" height="23.55" fill="#214729"/><rect x="326.20" y="676.40" width="1.55" height="23.55" fill="#1e4f2b"/><rect x="327.70" y="511.90" width="1.25" height="23.55" fill="#249442"/><rect x="327.70" y="535.40" width="1.25" height="23.55" fill="#238d40"/><rect x="327.70" y="558.90" width="1.25" height="23.55" fill="#238f40"/><rect x="327.70" y="582.40" width="1.25" height="23.55" fill="#238a3f"/><rect x="327.70" y="605.90" width="1.25" height="23.55" fill="#249342"/><rect x="327.70" y="629.40" width="1.25" height="23.55" fill="#239242"/><rect x="327.70" y="652.90" width="1.25" height="23.55" fill="#238b3f"/><rect x="327.70" y="676.40" width="1.25" height="23.55" fill="#239241"/><rect x="328.90" y="511.90" width="1.05" height="23.55" fill="#23813c"/><rect x="328.90" y="535.40" width="1.05" height="23.55" fill="#23823c"/><rect x="328.90" y="558.90" width="1.05" height="23.55" fill="#237c3a"/><rect x="328.90" y="582.40" width="1.05" height="23.55" fill="#23843d"/><rect x="328.90" y="605.90" width="1.05" height="23.55" fill="#23863d"/><rect x="328.90" y="629.40" width="1.05" height="23.55" fill="#237f3b"/><rect x="328.90" y="652.90" width="1.05" height="23.55" fill="#23833d"/><rect x="328.90" y="676.40" width="1.05" height="23.55" fill="#23863e"/><rect x="329.90" y="511.90" width="1.05" height="23.55" fill="#237939"/><rect x="329.90" y="535.40" width="1.05" height="23.55" fill="#227137"/><rect x="329.90" y="558.90" width="1.05" height="23.55" fill="#237438"/><rect x="329.90" y="582.40" width="1.05" height="23.55" fill="#237638"/><rect x="329.90" y="605.90" width="1.05" height="23.55" fill="#237d3b"/><rect x="329.90" y="629.40" width="1.05" height="23.55" fill="#227037"/><rect x="329.90" y="652.90" width="1.05" height="23.55" fill="#237739"/><rect x="329.90" y="676.40" width="1.05" height="23.55" fill="#237c3a"/><rect x="330.90" y="511.90" width="1.05" height="23.55" fill="#216734"/><rect x="330.90" y="535.40" width="1.05" height="23.55" fill="#216534"/><rect x="330.90" y="558.90" width="1.05" height="23.55" fill="#227338"/><rect x="330.90" y="582.40" width="1.05" height="23.55" fill="#216634"/><rect x="330.90" y="605.90" width="1.05" height="23.55" fill="#227037"/><rect x="330.90" y="629.40" width="1.05" height="23.55" fill="#226c36"/><rect x="330.90" y="652.90" width="1.05" height="23.55" fill="#216b35"/><rect x="330.90" y="676.40" width="1.05" height="23.55" fill="#227137"/><rect x="331.90" y="511.90" width="1.55" height="23.55" fill="#216734"/><rect x="331.90" y="535.40" width="1.55" height="23.55" fill="#206233"/><rect x="331.90" y="558.90" width="1.55" height="23.55" fill="#216935"/><rect x="331.90" y="582.40" width="1.55" height="23.55" fill="#216835"/><rect x="331.90" y="605.90" width="1.55" height="23.55" fill="#216634"/><rect x="331.90" y="629.40" width="1.55" height="23.55" fill="#216b35"/><rect x="331.90" y="652.90" width="1.55" height="23.55" fill="#216734"/><rect x="331.90" y="676.40" width="1.55" height="23.55" fill="#216935"/><rect x="333.40" y="511.90" width="1.05" height="23.55" fill="#237d3b"/><rect x="333.40" y="535.40" width="1.05" height="23.55" fill="#237538"/><rect x="333.40" y="558.90" width="1.05" height="23.55" fill="#237839"/><rect x="333.40" y="582.40" width="1.05" height="23.55" fill="#237538"/><rect x="333.40" y="605.90" width="1.05" height="23.55" fill="#23803c"/><rect x="333.40" y="629.40" width="1.05" height="23.55" fill="#237d3b"/><rect x="333.40" y="652.90" width="1.05" height="23.55" fill="#237e3b"/><rect x="333.40" y="676.40" width="1.05" height="23.55" fill="#23803b"/><rect x="334.40" y="511.90" width="1.25" height="23.55" fill="#237e3b"/><rect x="334.40" y="535.40" width="1.25" height="23.55" fill="#237d3b"/><rect x="334.40" y="558.90" width="1.25" height="23.55" fill="#237538"/><rect x="334.40" y="582.40" width="1.25" height="23.55" fill="#237939"/><rect x="334.40" y="605.90" width="1.25" height="23.55" fill="#237f3b"/><rect x="334.40" y="629.40" width="1.25" height="23.55" fill="#237d3b"/><rect x="334.40" y="652.90" width="1.25" height="23.55" fill="#237a3a"/><rect x="334.40" y="676.40" width="1.25" height="23.55" fill="#237839"/><rect x="335.60" y="511.90" width="0.85" height="23.55" fill="#216333"/><rect x="335.60" y="535.40" width="0.85" height="23.55" fill="#216835"/><rect x="335.60" y="558.90" width="0.85" height="23.55" fill="#216333"/><rect x="335.60" y="582.40" width="0.85" height="23.55" fill="#216634"/><rect x="335.60" y="605.90" width="0.85" height="23.55" fill="#216b35"/><rect x="335.60" y="629.40" width="0.85" height="23.55" fill="#216634"/><rect x="335.60" y="652.90" width="0.85" height="23.55" fill="#216634"/><rect x="335.60" y="676.40" width="0.85" height="23.55" fill="#216534"/><rect x="336.40" y="511.90" width="0.85" height="23.55" fill="#23863d"/><rect x="336.40" y="535.40" width="0.85" height="23.55" fill="#23813c"/><rect x="336.40" y="558.90" width="0.85" height="23.55" fill="#23833c"/><rect x="336.40" y="582.40" width="0.85" height="23.55" fill="#23803c"/><rect x="336.40" y="605.90" width="0.85" height="23.55" fill="#23833d"/><rect x="336.40" y="629.40" width="0.85" height="23.55" fill="#23893f"/><rect x="336.40" y="652.90" width="0.85" height="23.55" fill="#23893e"/><rect x="336.40" y="676.40" width="0.85" height="23.55" fill="#23833d"/><rect x="337.20" y="511.90" width="1.25" height="23.55" fill="#237e3b"/><rect x="337.20" y="535.40" width="1.25" height="23.55" fill="#23843d"/><rect x="337.20" y="558.90" width="1.25" height="23.55" fill="#23813c"/><rect x="337.20" y="582.40" width="1.25" height="23.55" fill="#23803c"/><rect x="337.20" y="605.90" width="1.25" height="23.55" fill="#237f3b"/><rect x="337.20" y="629.40" width="1.25" height="23.55" fill="#23813c"/><rect x="337.20" y="652.90" width="1.25" height="23.55" fill="#237f3b"/><rect x="337.20" y="676.40" width="1.25" height="23.55" fill="#237a3a"/><rect x="338.40" y="511.90" width="1.25" height="23.55" fill="#237f3b"/><rect x="338.40" y="535.40" width="1.25" height="23.55" fill="#23863d"/><rect x="338.40" y="558.90" width="1.25" height="23.55" fill="#23843d"/><rect x="338.40" y="582.40" width="1.25" height="23.55" fill="#237d3b"/><rect x="338.40" y="605.90" width="1.25" height="23.55" fill="#23823c"/><rect x="338.40" y="629.40" width="1.25" height="23.55" fill="#23873e"/><rect x="338.40" y="652.90" width="1.25" height="23.55" fill="#23833d"/><rect x="338.40" y="676.40" width="1.25" height="23.55" fill="#23863e"/><rect x="339.60" y="511.90" width="1.25" height="23.55" fill="#227137"/><rect x="339.60" y="535.40" width="1.25" height="23.55" fill="#237438"/><rect x="339.60" y="558.90" width="1.25" height="23.55" fill="#216b35"/><rect x="339.60" y="582.40" width="1.25" height="23.55" fill="#237839"/><rect x="339.60" y="605.90" width="1.25" height="23.55" fill="#237638"/><rect x="339.60" y="629.40" width="1.25" height="23.55" fill="#237639"/><rect x="339.60" y="652.90" width="1.25" height="23.55" fill="#227438"/><rect x="339.60" y="676.40" width="1.25" height="23.55" fill="#237739"/><rect x="340.80" y="511.90" width="1.25" height="23.55" fill="#237839"/><rect x="340.80" y="535.40" width="1.25" height="23.55" fill="#227037"/><rect x="340.80" y="558.90" width="1.25" height="23.55" fill="#227237"/><rect x="340.80" y="582.40" width="1.25" height="23.55" fill="#227137"/><rect x="340.80" y="605.90" width="1.25" height="23.55" fill="#237c3a"/><rect x="340.80" y="629.40" width="1.25" height="23.55" fill="#237739"/><rect x="340.80" y="652.90" width="1.25" height="23.55" fill="#237739"/><rect x="340.80" y="676.40" width="1.25" height="23.55" fill="#237839"/><rect x="342.00" y="511.90" width="1.05" height="23.55" fill="#1f572f"/><rect x="342.00" y="535.40" width="1.05" height="23.55" fill="#1f522d"/><rect x="342.00" y="558.90" width="1.05" height="23.55" fill="#1f512c"/><rect x="342.00" y="582.40" width="1.05" height="23.55" fill="#1f522d"/><rect x="342.00" y="605.90" width="1.05" height="23.55" fill="#1f552e"/><rect x="342.00" y="629.40" width="1.05" height="23.55" fill="#1f572f"/><rect x="342.00" y="652.90" width="1.05" height="23.55" fill="#1f582f"/><rect x="342.00" y="676.40" width="1.05" height="23.55" fill="#1f532d"/><rect x="343.00" y="511.90" width="0.85" height="23.55" fill="#237739"/><rect x="343.00" y="535.40" width="0.85" height="23.55" fill="#226d36"/><rect x="343.00" y="558.90" width="0.85" height="23.55" fill="#227137"/><rect x="343.00" y="582.40" width="0.85" height="23.55" fill="#227037"/><rect x="343.00" y="605.90" width="0.85" height="23.55" fill="#237538"/><rect x="343.00" y="629.40" width="0.85" height="23.55" fill="#237d3b"/><rect x="343.00" y="652.90" width="0.85" height="23.55" fill="#237638"/><rect x="343.00" y="676.40" width="0.85" height="23.55" fill="#237538"/><rect x="343.80" y="511.90" width="1.05" height="23.55" fill="#226f36"/><rect x="343.80" y="535.40" width="1.05" height="23.55" fill="#216734"/><rect x="343.80" y="558.90" width="1.05" height="23.55" fill="#206133"/><rect x="343.80" y="582.40" width="1.05" height="23.55" fill="#216b35"/><rect x="343.80" y="605.90" width="1.05" height="23.55" fill="#226e36"/><rect x="343.80" y="629.40" width="1.05" height="23.55" fill="#226f37"/><rect x="343.80" y="652.90" width="1.05" height="23.55" fill="#226d36"/><rect x="343.80" y="676.40" width="1.05" height="23.55" fill="#226e36"/><rect x="344.80" y="511.90" width="0.85" height="23.55" fill="#237438"/><rect x="344.80" y="535.40" width="0.85" height="23.55" fill="#227137"/><rect x="344.80" y="558.90" width="0.85" height="23.55" fill="#226f37"/><rect x="344.80" y="582.40" width="0.85" height="23.55" fill="#216a35"/><rect x="344.80" y="605.90" width="0.85" height="23.55" fill="#227237"/><rect x="344.80" y="629.40" width="0.85" height="23.55" fill="#226d36"/><rect x="344.80" y="652.90" width="0.85" height="23.55" fill="#227037"/><rect x="344.80" y="676.40" width="0.85" height="23.55" fill="#227037"/><rect x="345.60" y="511.90" width="1.05" height="23.55" fill="#227237"/><rect x="345.60" y="535.40" width="1.05" height="23.55" fill="#227338"/><rect x="345.60" y="558.90" width="1.05" height="23.55" fill="#226c36"/><rect x="345.60" y="582.40" width="1.05" height="23.55" fill="#227237"/><rect x="345.60" y="605.90" width="1.05" height="23.55" fill="#237538"/><rect x="345.60" y="629.40" width="1.05" height="23.55" fill="#237538"/><rect x="345.60" y="652.90" width="1.05" height="23.55" fill="#227237"/><rect x="345.60" y="676.40" width="1.05" height="23.55" fill="#227037"/><rect x="346.60" y="511.90" width="1.05" height="23.55" fill="#205a30"/><rect x="346.60" y="535.40" width="1.05" height="23.55" fill="#1f5930"/><rect x="346.60" y="558.90" width="1.05" height="23.55" fill="#205b30"/><rect x="346.60" y="582.40" width="1.05" height="23.55" fill="#1f592f"/><rect x="346.60" y="605.90" width="1.05" height="23.55" fill="#205e32"/><rect x="346.60" y="629.40" width="1.05" height="23.55" fill="#205b31"/><rect x="346.60" y="652.90" width="1.05" height="23.55" fill="#1f5930"/><rect x="346.60" y="676.40" width="1.05" height="23.55" fill="#1f5a30"/><rect x="347.60" y="511.90" width="1.25" height="23.55" fill="#216734"/><rect x="347.60" y="535.40" width="1.25" height="23.55" fill="#216734"/><rect x="347.60" y="558.90" width="1.25" height="23.55" fill="#216433"/><rect x="347.60" y="582.40" width="1.25" height="23.55" fill="#206133"/><rect x="347.60" y="605.90" width="1.25" height="23.55" fill="#226f36"/><rect x="347.60" y="629.40" width="1.25" height="23.55" fill="#216634"/><rect x="347.60" y="652.90" width="1.25" height="23.55" fill="#227037"/><rect x="347.60" y="676.40" width="1.25" height="23.55" fill="#216935"/><rect x="348.80" y="511.90" width="1.05" height="23.55" fill="#237f3b"/><rect x="348.80" y="535.40" width="1.05" height="23.55" fill="#237f3b"/><rect x="348.80" y="558.90" width="1.05" height="23.55" fill="#237d3b"/><rect x="348.80" y="582.40" width="1.05" height="23.55" fill="#237739"/><rect x="348.80" y="605.90" width="1.05" height="23.55" fill="#23823c"/><rect x="348.80" y="629.40" width="1.05" height="23.55" fill="#23843d"/><rect x="348.80" y="652.90" width="1.05" height="23.55" fill="#237f3b"/><rect x="348.80" y="676.40" width="1.05" height="23.55" fill="#237839"/><rect x="349.80" y="511.90" width="1.55" height="23.55" fill="#206233"/><rect x="349.80" y="535.40" width="1.55" height="23.55" fill="#205e32"/><rect x="349.80" y="558.90" width="1.55" height="23.55" fill="#205f32"/><rect x="349.80" y="582.40" width="1.55" height="23.55" fill="#216433"/><rect x="349.80" y="605.90" width="1.55" height="23.55" fill="#226e36"/><rect x="349.80" y="629.40" width="1.55" height="23.55" fill="#216834"/><rect x="349.80" y="652.90" width="1.55" height="23.55" fill="#216834"/><rect x="349.80" y="676.40" width="1.55" height="23.55" fill="#216734"/><rect x="351.30" y="511.90" width="0.85" height="23.55" fill="#226d36"/><rect x="351.30" y="535.40" width="0.85" height="23.55" fill="#216935"/><rect x="351.30" y="558.90" width="0.85" height="23.55" fill="#226c36"/><rect x="351.30" y="582.40" width="0.85" height="23.55" fill="#216534"/><rect x="351.30" y="605.90" width="0.85" height="23.55" fill="#226c36"/><rect x="351.30" y="629.40" width="0.85" height="23.55" fill="#216835"/><rect x="351.30" y="652.90" width="0.85" height="23.55" fill="#227338"/><rect x="351.30" y="676.40" width="0.85" height="23.55" fill="#227037"/><rect x="352.10" y="511.90" width="1.05" height="23.55" fill="#226f36"/><rect x="352.10" y="535.40" width="1.05" height="23.55" fill="#227037"/><rect x="352.10" y="558.90" width="1.05" height="23.55" fill="#227037"/><rect x="352.10" y="582.40" width="1.05" height="23.55" fill="#226c36"/><rect x="352.10" y="605.90" width="1.05" height="23.55" fill="#237a3a"/><rect x="352.10" y="629.40" width="1.05" height="23.55" fill="#237538"/><rect x="352.10" y="652.90" width="1.05" height="23.55" fill="#227338"/><rect x="352.10" y="676.40" width="1.05" height="23.55" fill="#227137"/><rect x="353.10" y="511.90" width="1.55" height="23.55" fill="#259643"/><rect x="353.10" y="535.40" width="1.55" height="23.55" fill="#239241"/><rect x="353.10" y="558.90" width="1.55" height="23.55" fill="#249342"/><rect x="353.10" y="582.40" width="1.55" height="23.55" fill="#249543"/><rect x="353.10" y="605.90" width="1.55" height="23.55" fill="#249342"/><rect x="353.10" y="629.40" width="1.55" height="23.55" fill="#269b46"/><rect x="353.10" y="652.90" width="1.55" height="23.55" fill="#249342"/><rect x="353.10" y="676.40" width="1.55" height="23.55" fill="#249443"/><rect x="354.60" y="511.90" width="1.05" height="23.55" fill="#237b3a"/><rect x="354.60" y="535.40" width="1.05" height="23.55" fill="#237d3b"/><rect x="354.60" y="558.90" width="1.05" height="23.55" fill="#237b3a"/><rect x="354.60" y="582.40" width="1.05" height="23.55" fill="#237939"/><rect x="354.60" y="605.90" width="1.05" height="23.55" fill="#23823c"/><rect x="354.60" y="629.40" width="1.05" height="23.55" fill="#237c3a"/><rect x="354.60" y="652.90" width="1.05" height="23.55" fill="#23833d"/><rect x="354.60" y="676.40" width="1.05" height="23.55" fill="#23813c"/><rect x="355.60" y="511.90" width="1.05" height="23.55" fill="#23863d"/><rect x="355.60" y="535.40" width="1.05" height="23.55" fill="#23823c"/><rect x="355.60" y="558.90" width="1.05" height="23.55" fill="#23843d"/><rect x="355.60" y="582.40" width="1.05" height="23.55" fill="#23853d"/><rect x="355.60" y="605.90" width="1.05" height="23.55" fill="#238f40"/><rect x="355.60" y="629.40" width="1.05" height="23.55" fill="#23873e"/><rect x="355.60" y="652.90" width="1.05" height="23.55" fill="#23823c"/><rect x="355.60" y="676.40" width="1.05" height="23.55" fill="#23823c"/><rect x="356.60" y="511.90" width="1.55" height="23.55" fill="#206133"/><rect x="356.60" y="535.40" width="1.55" height="23.55" fill="#206133"/><rect x="356.60" y="558.90" width="1.55" height="23.55" fill="#205d31"/><rect x="356.60" y="582.40" width="1.55" height="23.55" fill="#205c31"/><rect x="356.60" y="605.90" width="1.55" height="23.55" fill="#216634"/><rect x="356.60" y="629.40" width="1.55" height="23.55" fill="#216834"/><rect x="356.60" y="652.90" width="1.55" height="23.55" fill="#216534"/><rect x="356.60" y="676.40" width="1.55" height="23.55" fill="#206133"/><rect x="358.10" y="511.90" width="0.85" height="23.55" fill="#226e36"/><rect x="358.10" y="535.40" width="0.85" height="23.55" fill="#216935"/><rect x="358.10" y="558.90" width="0.85" height="23.55" fill="#216935"/><rect x="358.10" y="582.40" width="0.85" height="23.55" fill="#216834"/><rect x="358.10" y="605.90" width="0.85" height="23.55" fill="#227237"/><rect x="358.10" y="629.40" width="0.85" height="23.55" fill="#227338"/><rect x="358.10" y="652.90" width="0.85" height="23.55" fill="#227037"/><rect x="358.10" y="676.40" width="0.85" height="23.55" fill="#226c36"/><rect x="358.90" y="511.90" width="1.55" height="23.55" fill="#226c36"/><rect x="358.90" y="535.40" width="1.55" height="23.55" fill="#226f36"/><rect x="358.90" y="558.90" width="1.55" height="23.55" fill="#216634"/><rect x="358.90" y="582.40" width="1.55" height="23.55" fill="#216935"/><rect x="358.90" y="605.90" width="1.55" height="23.55" fill="#226e36"/><rect x="358.90" y="629.40" width="1.55" height="23.55" fill="#237438"/><rect x="358.90" y="652.90" width="1.55" height="23.55" fill="#216b35"/><rect x="358.90" y="676.40" width="1.55" height="23.55" fill="#237638"/><rect x="360.40" y="511.90" width="1.05" height="23.55" fill="#1f502c"/><rect x="360.40" y="535.40" width="1.05" height="23.55" fill="#1e502c"/><rect x="360.40" y="558.90" width="1.05" height="23.55" fill="#1f512c"/><rect x="360.40" y="582.40" width="1.05" height="23.55" fill="#1e4b2a"/><rect x="360.40" y="605.90" width="1.05" height="23.55" fill="#1e4f2c"/><rect x="360.40" y="629.40" width="1.05" height="23.55" fill="#1f512c"/><rect x="360.40" y="652.90" width="1.05" height="23.55" fill="#1f502c"/><rect x="360.40" y="676.40" width="1.05" height="23.55" fill="#1e4d2b"/><rect x="361.40" y="511.90" width="0.85" height="23.55" fill="#1f582f"/><rect x="361.40" y="535.40" width="0.85" height="23.55" fill="#1f562e"/><rect x="361.40" y="558.90" width="0.85" height="23.55" fill="#1f542d"/><rect x="361.40" y="582.40" width="0.85" height="23.55" fill="#1f582f"/><rect x="361.40" y="605.90" width="0.85" height="23.55" fill="#205b30"/><rect x="361.40" y="629.40" width="0.85" height="23.55" fill="#205c31"/><rect x="361.40" y="652.90" width="0.85" height="23.55" fill="#1f582f"/><rect x="361.40" y="676.40" width="0.85" height="23.55" fill="#205c31"/><rect x="362.20" y="511.90" width="1.05" height="23.55" fill="#205e32"/><rect x="362.20" y="535.40" width="1.05" height="23.55" fill="#216534"/><rect x="362.20" y="558.90" width="1.05" height="23.55" fill="#216634"/><rect x="362.20" y="582.40" width="1.05" height="23.55" fill="#216734"/><rect x="362.20" y="605.90" width="1.05" height="23.55" fill="#226c36"/><rect x="362.20" y="629.40" width="1.05" height="23.55" fill="#237438"/><rect x="362.20" y="652.90" width="1.05" height="23.55" fill="#226c36"/><rect x="362.20" y="676.40" width="1.05" height="23.55" fill="#216a35"/><rect x="363.20" y="511.90" width="1.55" height="23.55" fill="#1e4e2b"/><rect x="363.20" y="535.40" width="1.55" height="23.55" fill="#1e4d2b"/><rect x="363.20" y="558.90" width="1.55" height="23.55" fill="#1e4d2b"/><rect x="363.20" y="582.40" width="1.55" height="23.55" fill="#204929"/><rect x="363.20" y="605.90" width="1.55" height="23.55" fill="#1f522d"/><rect x="363.20" y="629.40" width="1.55" height="23.55" fill="#1f552e"/><rect x="363.20" y="652.90" width="1.55" height="23.55" fill="#1f552e"/><rect x="363.20" y="676.40" width="1.55" height="23.55" fill="#1f512c"/><rect x="364.70" y="511.90" width="1.05" height="23.55" fill="#1e4b2a"/><rect x="364.70" y="535.40" width="1.05" height="23.55" fill="#204929"/><rect x="364.70" y="558.90" width="1.05" height="23.55" fill="#204929"/><rect x="364.70" y="582.40" width="1.05" height="23.55" fill="#1e4e2b"/><rect x="364.70" y="605.90" width="1.05" height="23.55" fill="#1e4d2b"/><rect x="364.70" y="629.40" width="1.05" height="23.55" fill="#1e4b2a"/><rect x="364.70" y="652.90" width="1.05" height="23.55" fill="#1f502c"/><rect x="364.70" y="676.40" width="1.05" height="23.55" fill="#1f502c"/><rect x="365.70" y="511.90" width="1.05" height="23.55" fill="#1f532d"/><rect x="365.70" y="535.40" width="1.05" height="23.55" fill="#1e4e2b"/><rect x="365.70" y="558.90" width="1.05" height="23.55" fill="#1f542e"/><rect x="365.70" y="582.40" width="1.05" height="23.55" fill="#1f502c"/><rect x="365.70" y="605.90" width="1.05" height="23.55" fill="#1f522d"/><rect x="365.70" y="629.40" width="1.05" height="23.55" fill="#1f522d"/><rect x="365.70" y="652.90" width="1.05" height="23.55" fill="#1f552e"/><rect x="365.70" y="676.40" width="1.05" height="23.55" fill="#1f552e"/><rect x="366.70" y="511.90" width="1.05" height="23.55" fill="#1e4e2b"/><rect x="366.70" y="535.40" width="1.05" height="23.55" fill="#1e4f2b"/><rect x="366.70" y="558.90" width="1.05" height="23.55" fill="#1f4a29"/><rect x="366.70" y="582.40" width="1.05" height="23.55" fill="#1e4c2a"/><rect x="366.70" y="605.90" width="1.05" height="23.55" fill="#1f542e"/><rect x="366.70" y="629.40" width="1.05" height="23.55" fill="#1f542e"/><rect x="366.70" y="652.90" width="1.05" height="23.55" fill="#1f522d"/><rect x="366.70" y="676.40" width="1.05" height="23.55" fill="#1f562e"/><rect x="367.70" y="511.90" width="1.05" height="23.55" fill="#1e4e2b"/><rect x="367.70" y="535.40" width="1.05" height="23.55" fill="#1f4a2a"/><rect x="367.70" y="558.90" width="1.05" height="23.55" fill="#1f4a2a"/><rect x="367.70" y="582.40" width="1.05" height="23.55" fill="#1e4c2a"/><rect x="367.70" y="605.90" width="1.05" height="23.55" fill="#1e502c"/><rect x="367.70" y="629.40" width="1.05" height="23.55" fill="#1e502c"/><rect x="367.70" y="652.90" width="1.05" height="23.55" fill="#1f502c"/><rect x="367.70" y="676.40" width="1.05" height="23.55" fill="#1f552e"/><rect x="368.70" y="511.90" width="1.55" height="23.55" fill="#216a35"/><rect x="368.70" y="535.40" width="1.55" height="23.55" fill="#216a35"/><rect x="368.70" y="558.90" width="1.55" height="23.55" fill="#216a35"/><rect x="368.70" y="582.40" width="1.55" height="23.55" fill="#216634"/><rect x="368.70" y="605.90" width="1.55" height="23.55" fill="#216935"/><rect x="368.70" y="629.40" width="1.55" height="23.55" fill="#227037"/><rect x="368.70" y="652.90" width="1.55" height="23.55" fill="#226c36"/><rect x="368.70" y="676.40" width="1.55" height="23.55" fill="#237438"/><rect x="370.20" y="511.90" width="1.55" height="23.55" fill="#216433"/><rect x="370.20" y="535.40" width="1.55" height="23.55" fill="#216634"/><rect x="370.20" y="558.90" width="1.55" height="23.55" fill="#216333"/><rect x="370.20" y="582.40" width="1.55" height="23.55" fill="#216434"/><rect x="370.20" y="605.90" width="1.55" height="23.55" fill="#216433"/><rect x="370.20" y="629.40" width="1.55" height="23.55" fill="#216b35"/><rect x="370.20" y="652.90" width="1.55" height="23.55" fill="#226d36"/><rect x="370.20" y="676.40" width="1.55" height="23.55" fill="#216534"/><rect x="371.70" y="511.90" width="1.55" height="23.55" fill="#216634"/><rect x="371.70" y="535.40" width="1.55" height="23.55" fill="#205e31"/><rect x="371.70" y="558.90" width="1.55" height="23.55" fill="#206132"/><rect x="371.70" y="582.40" width="1.55" height="23.55" fill="#205d31"/><rect x="371.70" y="605.90" width="1.55" height="23.55" fill="#206133"/><rect x="371.70" y="629.40" width="1.55" height="23.55" fill="#206233"/><rect x="371.70" y="652.90" width="1.55" height="23.55" fill="#226c36"/><rect x="371.70" y="676.40" width="1.55" height="23.55" fill="#206032"/><rect x="373.20" y="511.90" width="1.05" height="23.55" fill="#1f542d"/><rect x="373.20" y="535.40" width="1.05" height="23.55" fill="#1e4b2a"/><rect x="373.20" y="558.90" width="1.05" height="23.55" fill="#1e502c"/><rect x="373.20" y="582.40" width="1.05" height="23.55" fill="#1e4e2b"/><rect x="373.20" y="605.90" width="1.05" height="23.55" fill="#1f532d"/><rect x="373.20" y="629.40" width="1.05" height="23.55" fill="#1f542e"/><rect x="373.20" y="652.90" width="1.05" height="23.55" fill="#1f562e"/><rect x="373.20" y="676.40" width="1.05" height="23.55" fill="#1f532d"/><rect x="374.20" y="511.90" width="1.05" height="23.55" fill="#2b3c25"/><rect x="374.20" y="535.40" width="1.05" height="23.55" fill="#2f3623"/><rect x="374.20" y="558.90" width="1.05" height="23.55" fill="#303723"/><rect x="374.20" y="582.40" width="1.05" height="23.55" fill="#2e3522"/><rect x="374.20" y="605.90" width="1.05" height="23.55" fill="#2e3924"/><rect x="374.20" y="629.40" width="1.05" height="23.55" fill="#2d3a24"/><rect x="374.20" y="652.90" width="1.05" height="23.55" fill="#2f3823"/><rect x="374.20" y="676.40" width="1.05" height="23.55" fill="#2f3623"/><rect x="375.20" y="511.90" width="1.55" height="23.55" fill="#234528"/><rect x="375.20" y="535.40" width="1.55" height="23.55" fill="#234628"/><rect x="375.20" y="558.90" width="1.55" height="23.55" fill="#274127"/><rect x="375.20" y="582.40" width="1.55" height="23.55" fill="#224628"/><rect x="375.20" y="605.90" width="1.55" height="23.55" fill="#234528"/><rect x="375.20" y="629.40" width="1.55" height="23.55" fill="#1f4a2a"/><rect x="375.20" y="652.90" width="1.55" height="23.55" fill="#214829"/><rect x="375.20" y="676.40" width="1.55" height="23.55" fill="#234528"/><rect x="376.70" y="511.90" width="1.05" height="23.55" fill="#284026"/><rect x="376.70" y="535.40" width="1.05" height="23.55" fill="#2a3d25"/><rect x="376.70" y="558.90" width="1.05" height="23.55" fill="#2c3c25"/><rect x="376.70" y="582.40" width="1.05" height="23.55" fill="#293e26"/><rect x="376.70" y="605.90" width="1.05" height="23.55" fill="#2a3e25"/><rect x="376.70" y="629.40" width="1.05" height="23.55" fill="#293f26"/><rect x="376.70" y="652.90" width="1.05" height="23.55" fill="#284026"/><rect x="376.70" y="676.40" width="1.05" height="23.55" fill="#2b3d25"/><rect x="377.70" y="511.90" width="1.05" height="23.55" fill="#204829"/><rect x="377.70" y="535.40" width="1.05" height="23.55" fill="#254327"/><rect x="377.70" y="558.90" width="1.05" height="23.55" fill="#254427"/><rect x="377.70" y="582.40" width="1.05" height="23.55" fill="#224628"/><rect x="377.70" y="605.90" width="1.05" height="23.55" fill="#1f4a2a"/><rect x="377.70" y="629.40" width="1.05" height="23.55" fill="#1f4a2a"/><rect x="377.70" y="652.90" width="1.05" height="23.55" fill="#204829"/><rect x="377.70" y="676.40" width="1.05" height="23.55" fill="#1e4e2b"/><rect x="378.70" y="511.90" width="1.25" height="23.55" fill="#2a3d25"/><rect x="378.70" y="535.40" width="1.25" height="23.55" fill="#293f26"/><rect x="378.70" y="558.90" width="1.25" height="23.55" fill="#2f3522"/><rect x="378.70" y="582.40" width="1.25" height="23.55" fill="#2f3522"/><rect x="378.70" y="605.90" width="1.25" height="23.55" fill="#2a3e26"/><rect x="378.70" y="629.40" width="1.25" height="23.55" fill="#293f26"/><rect x="378.70" y="652.90" width="1.25" height="23.55" fill="#2b3c25"/><rect x="378.70" y="676.40" width="1.25" height="23.55" fill="#284026"/><rect x="379.90" y="511.90" width="1.05" height="23.55" fill="#205f32"/><rect x="379.90" y="535.40" width="1.05" height="23.55" fill="#216433"/><rect x="379.90" y="558.90" width="1.05" height="23.55" fill="#216734"/><rect x="379.90" y="582.40" width="1.05" height="23.55" fill="#216433"/><rect x="379.90" y="605.90" width="1.05" height="23.55" fill="#216935"/><rect x="379.90" y="629.40" width="1.05" height="23.55" fill="#216734"/><rect x="379.90" y="652.90" width="1.05" height="23.55" fill="#216433"/><rect x="379.90" y="676.40" width="1.05" height="23.55" fill="#206333"/><rect x="380.90" y="511.90" width="1.05" height="23.55" fill="#23893e"/><rect x="380.90" y="535.40" width="1.05" height="23.55" fill="#23803c"/><rect x="380.90" y="558.90" width="1.05" height="23.55" fill="#238c3f"/><rect x="380.90" y="582.40" width="1.05" height="23.55" fill="#23823c"/><rect x="380.90" y="605.90" width="1.05" height="23.55" fill="#238e40"/><rect x="380.90" y="629.40" width="1.05" height="23.55" fill="#238d40"/><rect x="380.90" y="652.90" width="1.05" height="23.55" fill="#238f40"/><rect x="380.90" y="676.40" width="1.05" height="23.55" fill="#238b3f"/><rect x="381.90" y="511.90" width="1.55" height="23.55" fill="#269a45"/><rect x="381.90" y="535.40" width="1.55" height="23.55" fill="#269a45"/><rect x="381.90" y="558.90" width="1.55" height="23.55" fill="#239241"/><rect x="381.90" y="582.40" width="1.55" height="23.55" fill="#269945"/><rect x="381.90" y="605.90" width="1.55" height="23.55" fill="#28a048"/><rect x="381.90" y="629.40" width="1.55" height="23.55" fill="#259744"/><rect x="381.90" y="652.90" width="1.55" height="23.55" fill="#259744"/><rect x="381.90" y="676.40" width="1.55" height="23.55" fill="#269a45"/><rect x="383.40" y="511.90" width="1.25" height="23.55" fill="#2eac50"/><rect x="383.40" y="535.40" width="1.25" height="23.55" fill="#2eac50"/><rect x="383.40" y="558.90" width="1.25" height="23.55" fill="#2eac50"/><rect x="383.40" y="582.40" width="1.25" height="23.55" fill="#2eac50"/><rect x="383.40" y="605.90" width="1.25" height="23.55" fill="#2eac50"/><rect x="383.40" y="629.40" width="1.25" height="23.55" fill="#2eac50"/><rect x="383.40" y="652.90" width="1.25" height="23.55" fill="#2eac50"/><rect x="383.40" y="676.40" width="1.25" height="23.55" fill="#2eac50"/><rect x="384.60" y="511.90" width="1.05" height="23.55" fill="#269a45"/><rect x="384.60" y="535.40" width="1.05" height="23.55" fill="#259844"/><rect x="384.60" y="558.90" width="1.05" height="23.55" fill="#289f47"/><rect x="384.60" y="582.40" width="1.05" height="23.55" fill="#269a45"/><rect x="384.60" y="605.90" width="1.05" height="23.55" fill="#279d47"/><rect x="384.60" y="629.40" width="1.05" height="23.55" fill="#269945"/><rect x="384.60" y="652.90" width="1.05" height="23.55" fill="#269a45"/><rect x="384.60" y="676.40" width="1.05" height="23.55" fill="#279c46"/><rect x="385.60" y="511.90" width="0.85" height="23.55" fill="#239241"/><rect x="385.60" y="535.40" width="0.85" height="23.55" fill="#239241"/><rect x="385.60" y="558.90" width="0.85" height="23.55" fill="#238b3f"/><rect x="385.60" y="582.40" width="0.85" height="23.55" fill="#23893e"/><rect x="385.60" y="605.90" width="0.85" height="23.55" fill="#259744"/><rect x="385.60" y="629.40" width="0.85" height="23.55" fill="#249342"/><rect x="385.60" y="652.90" width="0.85" height="23.55" fill="#238f40"/><rect x="385.60" y="676.40" width="0.85" height="23.55" fill="#269a45"/><rect x="386.40" y="511.90" width="0.85" height="23.55" fill="#237f3b"/><rect x="386.40" y="535.40" width="0.85" height="23.55" fill="#23843d"/><rect x="386.40" y="558.90" width="0.85" height="23.55" fill="#237e3b"/><rect x="386.40" y="582.40" width="0.85" height="23.55" fill="#237d3b"/><rect x="386.40" y="605.90" width="0.85" height="23.55" fill="#23823c"/><rect x="386.40" y="629.40" width="0.85" height="23.55" fill="#237e3b"/><rect x="386.40" y="652.90" width="0.85" height="23.55" fill="#237a3a"/><rect x="386.40" y="676.40" width="0.85" height="23.55" fill="#23823c"/><rect x="387.20" y="511.90" width="1.05" height="23.55" fill="#29a149"/><rect x="387.20" y="535.40" width="1.05" height="23.55" fill="#279e47"/><rect x="387.20" y="558.90" width="1.05" height="23.55" fill="#2ca74d"/><rect x="387.20" y="582.40" width="1.05" height="23.55" fill="#289f47"/><rect x="387.20" y="605.90" width="1.05" height="23.55" fill="#2ba64c"/><rect x="387.20" y="629.40" width="1.05" height="23.55" fill="#2ba64c"/><rect x="387.20" y="652.90" width="1.05" height="23.55" fill="#2ba64c"/><rect x="387.20" y="676.40" width="1.05" height="23.55" fill="#2aa34a"/><rect x="388.20" y="511.90" width="1.25" height="23.55" fill="#2dab4f"/><rect x="388.20" y="535.40" width="1.25" height="23.55" fill="#2ba64c"/><rect x="388.20" y="558.90" width="1.25" height="23.55" fill="#2ba54b"/><rect x="388.20" y="582.40" width="1.25" height="23.55" fill="#2dab4f"/><rect x="388.20" y="605.90" width="1.25" height="23.55" fill="#2da94e"/><rect x="388.20" y="629.40" width="1.25" height="23.55" fill="#2eac50"/><rect x="388.20" y="652.90" width="1.25" height="23.55" fill="#2ca84d"/><rect x="388.20" y="676.40" width="1.25" height="23.55" fill="#2ba64c"/><rect x="389.40" y="511.90" width="1.05" height="23.55" fill="#259844"/><rect x="389.40" y="535.40" width="1.05" height="23.55" fill="#269a45"/><rect x="389.40" y="558.90" width="1.05" height="23.55" fill="#269945"/><rect x="389.40" y="582.40" width="1.05" height="23.55" fill="#269a45"/><rect x="389.40" y="605.90" width="1.05" height="23.55" fill="#269a45"/><rect x="389.40" y="629.40" width="1.05" height="23.55" fill="#269945"/><rect x="389.40" y="652.90" width="1.05" height="23.55" fill="#279d47"/><rect x="389.40" y="676.40" width="1.05" height="23.55" fill="#269a45"/><rect x="390.40" y="511.90" width="1.05" height="23.55" fill="#2aa34a"/><rect x="390.40" y="535.40" width="1.05" height="23.55" fill="#2ca94e"/><rect x="390.40" y="558.90" width="1.05" height="23.55" fill="#2aa34a"/><rect x="390.40" y="582.40" width="1.05" height="23.55" fill="#28a149"/><rect x="390.40" y="605.90" width="1.05" height="23.55" fill="#2aa44b"/><rect x="390.40" y="629.40" width="1.05" height="23.55" fill="#2ca94e"/><rect x="390.40" y="652.90" width="1.05" height="23.55" fill="#2ba64c"/><rect x="390.40" y="676.40" width="1.05" height="23.55" fill="#28a148"/><rect x="391.40" y="511.90" width="1.55" height="23.55" fill="#2ca94e"/><rect x="391.40" y="535.40" width="1.55" height="23.55" fill="#2ca84d"/><rect x="391.40" y="558.90" width="1.55" height="23.55" fill="#2ba74c"/><rect x="391.40" y="582.40" width="1.55" height="23.55" fill="#28a048"/><rect x="391.40" y="605.90" width="1.55" height="23.55" fill="#2aa44a"/><rect x="391.40" y="629.40" width="1.55" height="23.55" fill="#2eac50"/><rect x="391.40" y="652.90" width="1.55" height="23.55" fill="#2ca94e"/><rect x="391.40" y="676.40" width="1.55" height="23.55" fill="#2daa4f"/><rect x="392.90" y="511.90" width="1.05" height="23.55" fill="#28a048"/><rect x="392.90" y="535.40" width="1.05" height="23.55" fill="#269b46"/><rect x="392.90" y="558.90" width="1.05" height="23.55" fill="#279c46"/><rect x="392.90" y="582.40" width="1.05" height="23.55" fill="#279c46"/><rect x="392.90" y="605.90" width="1.05" height="23.55" fill="#279d47"/><rect x="392.90" y="629.40" width="1.05" height="23.55" fill="#269945"/><rect x="392.90" y="652.90" width="1.05" height="23.55" fill="#269b46"/><rect x="392.90" y="676.40" width="1.05" height="23.55" fill="#28a048"/><rect x="393.90" y="511.90" width="1.25" height="23.55" fill="#23833d"/><rect x="393.90" y="535.40" width="1.25" height="23.55" fill="#237e3b"/><rect x="393.90" y="558.90" width="1.25" height="23.55" fill="#23803b"/><rect x="393.90" y="582.40" width="1.25" height="23.55" fill="#237c3a"/><rect x="393.90" y="605.90" width="1.25" height="23.55" fill="#23833c"/><rect x="393.90" y="629.40" width="1.25" height="23.55" fill="#23833c"/><rect x="393.90" y="652.90" width="1.25" height="23.55" fill="#23803c"/><rect x="393.90" y="676.40" width="1.25" height="23.55" fill="#23853d"/><rect x="395.10" y="511.90" width="1.05" height="23.55" fill="#2ba64c"/><rect x="395.10" y="535.40" width="1.05" height="23.55" fill="#2aa54b"/><rect x="395.10" y="558.90" width="1.05" height="23.55" fill="#2aa54b"/><rect x="395.10" y="582.40" width="1.05" height="23.55" fill="#2ba64c"/><rect x="395.10" y="605.90" width="1.05" height="23.55" fill="#2ba64c"/><rect x="395.10" y="629.40" width="1.05" height="23.55" fill="#2ca84e"/><rect x="395.10" y="652.90" width="1.05" height="23.55" fill="#2eab50"/><rect x="395.10" y="676.40" width="1.05" height="23.55" fill="#2ba54b"/><rect x="396.10" y="511.90" width="1.05" height="23.55" fill="#28a149"/><rect x="396.10" y="535.40" width="1.05" height="23.55" fill="#289f47"/><rect x="396.10" y="558.90" width="1.05" height="23.55" fill="#279c46"/><rect x="396.10" y="582.40" width="1.05" height="23.55" fill="#269a45"/><rect x="396.10" y="605.90" width="1.05" height="23.55" fill="#279e47"/><rect x="396.10" y="629.40" width="1.05" height="23.55" fill="#29a149"/><rect x="396.10" y="652.90" width="1.05" height="23.55" fill="#28a048"/><rect x="396.10" y="676.40" width="1.05" height="23.55" fill="#2aa44a"/><rect x="397.10" y="511.90" width="0.85" height="23.55" fill="#269b46"/><rect x="397.10" y="535.40" width="0.85" height="23.55" fill="#259643"/><rect x="397.10" y="558.90" width="0.85" height="23.55" fill="#269a45"/><rect x="397.10" y="582.40" width="0.85" height="23.55" fill="#259844"/><rect x="397.10" y="605.90" width="0.85" height="23.55" fill="#269a45"/><rect x="397.10" y="629.40" width="0.85" height="23.55" fill="#269a45"/><rect x="397.10" y="652.90" width="0.85" height="23.55" fill="#269945"/><rect x="397.10" y="676.40" width="0.85" height="23.55" fill="#269b46"/><rect x="397.90" y="511.90" width="1.05" height="23.55" fill="#29a149"/><rect x="397.90" y="535.40" width="1.05" height="23.55" fill="#279d46"/><rect x="397.90" y="558.90" width="1.05" height="23.55" fill="#279e47"/><rect x="397.90" y="582.40" width="1.05" height="23.55" fill="#2aa44b"/><rect x="397.90" y="605.90" width="1.05" height="23.55" fill="#29a249"/><rect x="397.90" y="629.40" width="1.05" height="23.55" fill="#289f48"/><rect x="397.90" y="652.90" width="1.05" height="23.55" fill="#28a048"/><rect x="397.90" y="676.40" width="1.05" height="23.55" fill="#2aa44b"/><rect x="398.90" y="511.90" width="0.85" height="23.55" fill="#23893f"/><rect x="398.90" y="535.40" width="0.85" height="23.55" fill="#238c3f"/><rect x="398.90" y="558.90" width="0.85" height="23.55" fill="#23893e"/><rect x="398.90" y="582.40" width="0.85" height="23.55" fill="#23893e"/><rect x="398.90" y="605.90" width="0.85" height="23.55" fill="#238a3f"/><rect x="398.90" y="629.40" width="0.85" height="23.55" fill="#238a3f"/><rect x="398.90" y="652.90" width="0.85" height="23.55" fill="#239141"/><rect x="398.90" y="676.40" width="0.85" height="23.55" fill="#238b3f"/><rect x="399.70" y="511.90" width="1.05" height="23.55" fill="#289f48"/><rect x="399.70" y="535.40" width="1.05" height="23.55" fill="#29a249"/><rect x="399.70" y="558.90" width="1.05" height="23.55" fill="#29a249"/><rect x="399.70" y="582.40" width="1.05" height="23.55" fill="#269b45"/><rect x="399.70" y="605.90" width="1.05" height="23.55" fill="#29a149"/><rect x="399.70" y="629.40" width="1.05" height="23.55" fill="#28a048"/><rect x="399.70" y="652.90" width="1.05" height="23.55" fill="#29a149"/><rect x="399.70" y="676.40" width="1.05" height="23.55" fill="#28a048"/><rect x="400.70" y="511.90" width="1.25" height="23.55" fill="#2aa44b"/><rect x="400.70" y="535.40" width="1.25" height="23.55" fill="#29a24a"/><rect x="400.70" y="558.90" width="1.25" height="23.55" fill="#29a249"/><rect x="400.70" y="582.40" width="1.25" height="23.55" fill="#28a149"/><rect x="400.70" y="605.90" width="1.25" height="23.55" fill="#2aa34a"/><rect x="400.70" y="629.40" width="1.25" height="23.55" fill="#28a048"/><rect x="400.70" y="652.90" width="1.25" height="23.55" fill="#2aa54b"/><rect x="400.70" y="676.40" width="1.25" height="23.55" fill="#29a249"/><rect x="401.90" y="511.90" width="1.05" height="23.55" fill="#279d47"/><rect x="401.90" y="535.40" width="1.05" height="23.55" fill="#279e47"/><rect x="401.90" y="558.90" width="1.05" height="23.55" fill="#269945"/><rect x="401.90" y="582.40" width="1.05" height="23.55" fill="#269945"/><rect x="401.90" y="605.90" width="1.05" height="23.55" fill="#269a45"/><rect x="401.90" y="629.40" width="1.05" height="23.55" fill="#269945"/><rect x="401.90" y="652.90" width="1.05" height="23.55" fill="#259844"/><rect x="401.90" y="676.40" width="1.05" height="23.55" fill="#269a45"/><rect x="402.90" y="511.90" width="1.05" height="23.55" fill="#249443"/><rect x="402.90" y="535.40" width="1.05" height="23.55" fill="#269945"/><rect x="402.90" y="558.90" width="1.05" height="23.55" fill="#259744"/><rect x="402.90" y="582.40" width="1.05" height="23.55" fill="#259744"/><rect x="402.90" y="605.90" width="1.05" height="23.55" fill="#269a45"/><rect x="402.90" y="629.40" width="1.05" height="23.55" fill="#259844"/><rect x="402.90" y="652.90" width="1.05" height="23.55" fill="#269a45"/><rect x="402.90" y="676.40" width="1.05" height="23.55" fill="#269945"/><rect x="403.90" y="511.90" width="1.05" height="23.55" fill="#279e47"/><rect x="403.90" y="535.40" width="1.05" height="23.55" fill="#249443"/><rect x="403.90" y="558.90" width="1.05" height="23.55" fill="#259644"/><rect x="403.90" y="582.40" width="1.05" height="23.55" fill="#269a45"/><rect x="403.90" y="605.90" width="1.05" height="23.55" fill="#279e47"/><rect x="403.90" y="629.40" width="1.05" height="23.55" fill="#269945"/><rect x="403.90" y="652.90" width="1.05" height="23.55" fill="#269b46"/><rect x="403.90" y="676.40" width="1.05" height="23.55" fill="#279d47"/><rect x="404.90" y="511.90" width="1.25" height="23.55" fill="#23803b"/><rect x="404.90" y="535.40" width="1.25" height="23.55" fill="#237e3b"/><rect x="404.90" y="558.90" width="1.25" height="23.55" fill="#23823c"/><rect x="404.90" y="582.40" width="1.25" height="23.55" fill="#237b3a"/><rect x="404.90" y="605.90" width="1.25" height="23.55" fill="#23823c"/><rect x="404.90" y="629.40" width="1.25" height="23.55" fill="#23813c"/><rect x="404.90" y="652.90" width="1.25" height="23.55" fill="#23833c"/><rect x="404.90" y="676.40" width="1.25" height="23.55" fill="#237f3b"/><rect x="406.10" y="511.90" width="1.55" height="23.55" fill="#2eac50"/><rect x="406.10" y="535.40" width="1.55" height="23.55" fill="#2eac50"/><rect x="406.10" y="558.90" width="1.55" height="23.55" fill="#2dab4f"/><rect x="406.10" y="582.40" width="1.55" height="23.55" fill="#2ca74d"/><rect x="406.10" y="605.90" width="1.55" height="23.55" fill="#2eac50"/><rect x="406.10" y="629.40" width="1.55" height="23.55" fill="#2eac50"/><rect x="406.10" y="652.90" width="1.55" height="23.55" fill="#2eac50"/><rect x="406.10" y="676.40" width="1.55" height="23.55" fill="#2eab50"/><rect x="407.60" y="511.90" width="1.55" height="23.55" fill="#2eac50"/><rect x="407.60" y="535.40" width="1.55" height="23.55" fill="#2da94e"/><rect x="407.60" y="558.90" width="1.55" height="23.55" fill="#2eac50"/><rect x="407.60" y="582.40" width="1.55" height="23.55" fill="#2ba64c"/><rect x="407.60" y="605.90" width="1.55" height="23.55" fill="#2eac50"/><rect x="407.60" y="629.40" width="1.55" height="23.55" fill="#2eac50"/><rect x="407.60" y="652.90" width="1.55" height="23.55" fill="#2eac50"/><rect x="407.60" y="676.40" width="1.55" height="23.55" fill="#2eab4f"/><rect x="409.10" y="511.90" width="0.85" height="23.55" fill="#29a34a"/><rect x="409.10" y="535.40" width="0.85" height="23.55" fill="#2aa34a"/><rect x="409.10" y="558.90" width="0.85" height="23.55" fill="#29a34a"/><rect x="409.10" y="582.40" width="0.85" height="23.55" fill="#2aa34a"/><rect x="409.10" y="605.90" width="0.85" height="23.55" fill="#2ba74d"/><rect x="409.10" y="629.40" width="0.85" height="23.55" fill="#2ca74d"/><rect x="409.10" y="652.90" width="0.85" height="23.55" fill="#2aa44b"/><rect x="409.10" y="676.40" width="0.85" height="23.55" fill="#2ba54c"/><rect x="409.90" y="511.90" width="1.25" height="23.55" fill="#2aa44b"/><rect x="409.90" y="535.40" width="1.25" height="23.55" fill="#279d47"/><rect x="409.90" y="558.90" width="1.25" height="23.55" fill="#2aa34a"/><rect x="409.90" y="582.40" width="1.25" height="23.55" fill="#29a149"/><rect x="409.90" y="605.90" width="1.25" height="23.55" fill="#29a249"/><rect x="409.90" y="629.40" width="1.25" height="23.55" fill="#2aa44b"/><rect x="409.90" y="652.90" width="1.25" height="23.55" fill="#28a149"/><rect x="409.90" y="676.40" width="1.25" height="23.55" fill="#2aa44a"/><rect x="411.10" y="511.90" width="0.95" height="23.55" fill="#249543"/><rect x="411.10" y="535.40" width="0.95" height="23.55" fill="#249442"/><rect x="411.10" y="558.90" width="0.95" height="23.55" fill="#239041"/><rect x="411.10" y="582.40" width="0.95" height="23.55" fill="#239241"/><rect x="411.10" y="605.90" width="0.95" height="23.55" fill="#259744"/><rect x="411.10" y="629.40" width="0.95" height="23.55" fill="#259643"/><rect x="411.10" y="652.90" width="0.95" height="23.55" fill="#239041"/><rect x="411.10" y="676.40" width="0.95" height="23.55" fill="#269a45"/></g>
<rect x="414.3" y="511.90" width="5.6" height="23.60" fill="#3f58b6"/>
<rect x="414.3" y="535.40" width="5.6" height="23.60" fill="#74d2ea"/>
<rect x="414.3" y="558.90" width="5.6" height="23.60" fill="#3f58b6"/>
<rect x="414.3" y="582.40" width="5.6" height="23.60" fill="#74d2ea"/>
<rect x="414.3" y="605.90" width="5.6" height="23.60" fill="#3f58b6"/>
<rect x="414.3" y="629.40" width="5.6" height="23.60" fill="#74d2ea"/>
<rect x="414.3" y="652.90" width="5.6" height="23.60" fill="#74d2ea"/>
<rect x="414.3" y="676.40" width="5.6" height="23.60" fill="#3f58b6"/>
<line x1="419.9" y1="523.65" x2="433.6" y2="523.65" stroke="#3a3a3a" stroke-width="1" />
<line x1="419.9" y1="547.15" x2="433.6" y2="547.15" stroke="#3a3a3a" stroke-width="1" />
<line x1="433.6" y1="523.65" x2="433.6" y2="547.15" stroke="#3a3a3a" stroke-width="1" />
<line x1="419.9" y1="570.65" x2="431.9" y2="570.65" stroke="#3a3a3a" stroke-width="1" />
<line x1="419.9" y1="594.15" x2="431.9" y2="594.15" stroke="#3a3a3a" stroke-width="1" />
<line x1="431.9" y1="570.65" x2="431.9" y2="594.15" stroke="#3a3a3a" stroke-width="1" />
<line x1="433.6" y1="535.4" x2="434.9" y2="535.4" stroke="#3a3a3a" stroke-width="1" />
<line x1="431.9" y1="582.4" x2="434.9" y2="582.4" stroke="#3a3a3a" stroke-width="1" />
<line x1="434.9" y1="535.4" x2="434.9" y2="582.4" stroke="#3a3a3a" stroke-width="1" />
<line x1="419.9" y1="617.65" x2="431.5" y2="617.65" stroke="#3a3a3a" stroke-width="1" />
<line x1="419.9" y1="641.15" x2="431.5" y2="641.15" stroke="#3a3a3a" stroke-width="1" />
<line x1="431.5" y1="617.65" x2="431.5" y2="641.15" stroke="#3a3a3a" stroke-width="1" />
<line x1="419.9" y1="664.65" x2="431.5" y2="664.65" stroke="#3a3a3a" stroke-width="1" />
<line x1="419.9" y1="688.15" x2="431.5" y2="688.15" stroke="#3a3a3a" stroke-width="1" />
<line x1="431.5" y1="664.65" x2="431.5" y2="688.15" stroke="#3a3a3a" stroke-width="1" />
<line x1="431.5" y1="629.4" x2="434.7" y2="629.4" stroke="#3a3a3a" stroke-width="1" />
<line x1="431.5" y1="676.4" x2="434.7" y2="676.4" stroke="#3a3a3a" stroke-width="1" />
<line x1="434.7" y1="629.4" x2="434.7" y2="676.4" stroke="#3a3a3a" stroke-width="1" />
<line x1="434.9" y1="558.9" x2="445.6" y2="558.9" stroke="#3a3a3a" stroke-width="1" />
<line x1="434.7" y1="652.9" x2="445.6" y2="652.9" stroke="#3a3a3a" stroke-width="1" />
<line x1="445.6" y1="558.9" x2="445.6" y2="652.9" stroke="#3a3a3a" stroke-width="1" />
<text x="450.4" y="525.3" font-size="10.7" text-anchor="start" fill="#222" >1 CD8αβ</text>
<text x="450.4" y="546" font-size="10.7" text-anchor="start" fill="#222" >1 CD8αα</text>
<text x="450.4" y="573.2" font-size="10.7" text-anchor="start" fill="#222" >2 CD8αβ</text>
<text x="450.4" y="598" font-size="10.7" text-anchor="start" fill="#222" >2 CD8αα</text>
<text x="450.4" y="622.5" font-size="10.7" text-anchor="start" fill="#222" >3 CD8αβ</text>
<text x="450.4" y="645" font-size="10.7" text-anchor="start" fill="#222" >3 CD8αα</text>
<text x="450.4" y="671" font-size="10.7" text-anchor="start" fill="#222" >4 CD8αα</text>
<text x="447.5" y="696.3" font-size="10.7" text-anchor="start" fill="#222" >4 CD8αβ</text>
<defs><linearGradient id="ck" x1="0" y1="0" x2="0" y2="1"><stop offset="0" stop-color="#6ec364"/><stop offset="0.127" stop-color="#37b450"/><stop offset="0.27" stop-color="#26a046"/><stop offset="0.34" stop-color="#1e8237"/><stop offset="0.4" stop-color="#1e5528"/><stop offset="0.456" stop-color="#0f2312"/><stop offset="0.494" stop-color="#050505"/><stop offset="0.536" stop-color="#140505"/><stop offset="0.625" stop-color="#410c0c"/><stop offset="0.77" stop-color="#8c1c1c"/><stop offset="1" stop-color="#eb3737"/></linearGradient></defs>
<rect x="76.8" y="503.1" width="6.2" height="212.6" fill="url(#ck)" stroke="#444" stroke-width="0.5"/>
<rect x="76.8" y="503.1" width="1.3" height="212.6" fill="#000" opacity="0.45"/>
<line x1="74.2" y1="527.2" x2="77" y2="527.2" stroke="#222" stroke-width="1.1" />
<line x1="74.2" y1="561.7" x2="77" y2="561.7" stroke="#222" stroke-width="1.1" />
<line x1="74.2" y1="596.2" x2="77" y2="596.2" stroke="#222" stroke-width="1.1" />
<line x1="74.2" y1="630.7" x2="77" y2="630.7" stroke="#222" stroke-width="1.1" />
<line x1="74.2" y1="665.2" x2="77" y2="665.2" stroke="#222" stroke-width="1.1" />
<line x1="74.2" y1="699.7" x2="77" y2="699.7" stroke="#222" stroke-width="1.1" />
<text transform="translate(68.3,527.2) rotate(90)" font-size="3" text-anchor="middle" fill="#555">14</text>
<text transform="translate(68.3,561.7) rotate(90)" font-size="3" text-anchor="middle" fill="#555">16</text>
<text transform="translate(68.3,596.2) rotate(90)" font-size="3" text-anchor="middle" fill="#555">18</text>
<text transform="translate(68.3,630.7) rotate(90)" font-size="3" text-anchor="middle" fill="#555">20</text>
<text transform="translate(68.3,665.2) rotate(90)" font-size="3" text-anchor="middle" fill="#555">22</text>
<text transform="translate(68.3,699.7) rotate(90)" font-size="3" text-anchor="middle" fill="#555">24</text>
<text transform="translate(85.0,609.2) rotate(90)" font-size="4.4" font-weight="bold" text-anchor="middle" fill="#333">Color Key</text>
<text transform="translate(63.2,609.2) rotate(90)" font-size="4.4" text-anchor="middle" fill="#555">Value</text>
<text x="111.9" y="525.55" font-size="3.6" text-anchor="end" fill="#555" >2017_CD8aa</text>
<text x="111.9" y="549.05" font-size="3.6" text-anchor="end" fill="#555" >2017_CD8aa</text>
<text x="111.9" y="572.55" font-size="3.6" text-anchor="end" fill="#555" >487_CD8ab</text>
<text x="111.9" y="596.05" font-size="3.6" text-anchor="end" fill="#555" >487_CD8aa</text>
<text x="111.9" y="619.55" font-size="3.6" text-anchor="end" fill="#555" >406_CD8ab</text>
<text x="111.9" y="643.05" font-size="3.6" text-anchor="end" fill="#555" >406_CD8aa</text>
<text x="111.9" y="666.55" font-size="3.6" text-anchor="end" fill="#555" >492_CD8aa</text>
<text x="111.9" y="690.05" font-size="3.6" text-anchor="end" fill="#555" >492_CD8ab</text></svg>
</body></html>
